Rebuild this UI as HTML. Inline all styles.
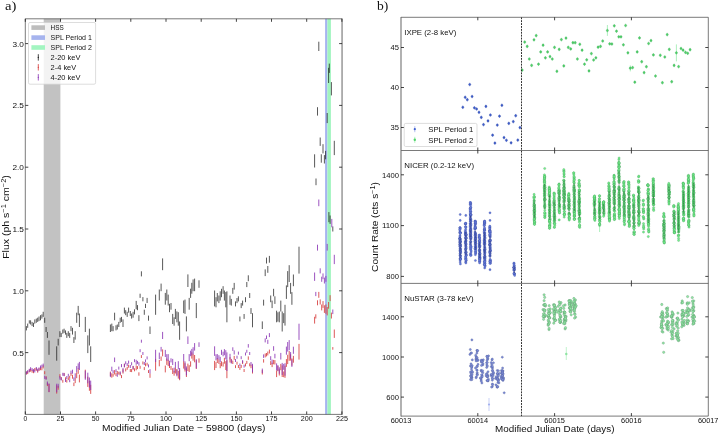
<!DOCTYPE html>
<html><head><meta charset="utf-8"><title>Figure</title><style>html,body{margin:0;padding:0;background:#fff;overflow:hidden}svg{display:block}</style></head><body>
<svg width="718" height="434" viewBox="0 0 718 434" font-family="Liberation Sans, sans-serif" style="opacity:0.999;will-change:transform">
<rect width="718" height="434" fill="#fff"/>
<rect x="43.7" y="18.8" width="16.7" height="395.6" fill="#c2c2c2"/>
<rect x="325.1" y="18.8" width="2.3" height="395.6" fill="#a6b4f0"/>
<rect x="327.4" y="18.8" width="3.5" height="395.6" fill="#a1f4bf"/>
<path d="M26.4 326.1V330.4M27.7 323.6V327.8M29.3 320.3V323.6M30.6 320.3V324.5M32.1 321.9V326.1M33.5 322.8V327.0M34.8 319.4V323.6M36.3 318.6V322.8M37.7 317.7V321.9M39.0 316.5V321.1M40.5 315.2V320.3M41.9 314.4V318.6M43.2 311.8V316.9M44.7 317.7V322.8M46.1 327.0V332.0M47.4 332.0V337.9M49.0 340.5V354.8M56.7 346.3V360.7M58.2 338.8V345.5M59.9 331.2V337.1M61.2 332.9V337.1M62.8 329.5V333.7M64.1 328.7V332.9M65.5 330.4V334.6M66.8 332.9V337.9M68.3 331.2V336.2M69.7 332.9V337.9M71.0 326.1V331.2M72.5 327.8V334.6M73.9 337.1V343.0M75.2 331.2V339.6M76.7 312.7V322.8M78.2 305.9V315.2M79.4 313.5V327.0M85.3 316.9V332.0M87.8 335.4V353.1M89.4 328.7V345.5M90.7 346.3V362.0M110.4 324.5V332.0M111.8 323.6V331.2M113.1 326.1V331.2M114.6 312.7V320.3M116.0 325.3V330.4M117.3 324.5V329.5M118.8 321.9V327.0M120.2 317.7V322.8M121.5 316.9V321.9M123.0 319.4V327.0M124.4 307.6V313.5M125.7 310.2V315.2M127.2 311.8V316.9M128.6 307.6V312.7M130.3 311.0V316.0M131.6 313.5V318.6M133.1 311.8V317.7M134.5 309.3V314.4M136.2 300.9V309.3M137.5 305.1V310.2M138.9 315.2V321.1M140.1 293.7V297.9M141.4 271.3V276.4M142.9 297.1V301.3M144.3 309.7V314.8M145.5 303.8V308.0M147.1 297.9V303.0M148.5 315.6V320.7M150.0 326.5V334.0M155.6 294.6V314.8M159.3 289.5V300.5M161.1 283.6V291.2M162.6 258.4V270.2M165.3 292.9V304.7M166.8 289.5V300.5M168.2 294.6V305.5M169.5 303.8V312.2M171.0 303.0V309.7M172.7 313.9V324.0M174.1 317.3V325.7M175.4 308.9V319.0M176.9 311.4V322.3M178.3 312.2V325.7M179.6 321.5V339.8M183.7 300.5V313.1M185.0 299.6V313.9M186.4 316.4V331.4M187.9 274.4V287.0M189.2 297.9V309.7M190.6 288.7V297.9M191.8 282.8V293.7M193.1 279.4V291.2M194.6 278.6V291.2M196.3 303.0V318.1M199.0 280.3V287.8M214.6 290.5V306.4M216.0 297.2V307.3M217.3 293.0V301.4M218.9 295.5V303.1M220.2 291.3V300.6M221.5 288.8V297.2M223.1 286.2V293.8M224.4 290.5V300.6M225.8 292.1V307.3M226.9 291.3V322.3M230.0 295.5V304.8M231.3 298.9V305.6M232.8 287.9V293.8M234.2 282.9V289.6M235.5 301.4V306.4M237.0 298.0V303.1M238.4 296.3V301.4M239.9 316.5V321.4M241.2 303.1V308.1M242.6 300.6V305.6M244.1 314.0V318.9M245.5 297.2V302.2M246.8 282.0V287.1M248.3 275.3V281.2M249.7 293.0V298.0M251.0 308.1V314.0M252.5 313.2V327.3M262.3 321.4V329.0M263.6 299.7V305.6M265.2 269.4V276.1M266.5 257.6V263.5M267.8 266.0V272.8M269.4 255.9V262.7M270.7 295.5V302.2M272.1 300.6V308.1M273.6 288.8V296.3M274.9 296.3V303.9M276.6 310.7V322.3M277.9 312.3V321.6M279.3 311.5V322.3M280.8 300.6V311.5M282.2 311.5V331.5M283.7 313.2V323.1M285.0 304.8V325.6M286.4 285.4V298.9M287.7 271.1V287.1M289.2 265.2V282.0M290.6 282.9V293.8M291.9 292.1V304.8M293.4 274.5V286.2M299.0 246.7V273.6M316.0 178.5V185.2M317.5 107.2V115.6M320.2 137.5V145.9M323.0 144.2V153.4M314.6 154.3V167.5M321.3 154.3V162.7M324.4 155.1V163.5M325.6 150.9V159.3M327.2 113.0V123.1M334.3 140.8V155.1M331.4 82.1V95.4M318.8 41.7V51.0M329.3 63.6V72.9M328.6 67.8V83.0M328.9 212.1V222.2M330.1 215.5V223.9M332.8 226.4V231.5" stroke="#111" stroke-width="0.70" fill="none" opacity="1"/>
<path d="M26.4 371.5V374.5M27.7 371.1V374.1M29.3 369.4V372.3M30.6 368.8V371.7M32.1 369.7V372.7M33.5 370.2V373.2M34.8 368.0V370.9M36.3 367.9V370.9M37.7 369.7V372.7M39.0 368.1V371.0M40.5 367.2V370.2M41.9 367.3V370.3M43.2 365.4V368.4M44.7 371.2V374.2M46.1 376.2V379.1M47.4 382.7V386.1M49.0 383.8V392.1M56.7 385.3V393.6M58.2 385.8V389.7M59.9 374.2V377.6M61.2 377.0V380.0M62.8 379.8V382.7M64.1 372.9V375.9M65.5 377.3V380.3M66.8 379.7V382.6M68.3 377.2V380.1M69.7 375.8V378.8M71.0 372.9V375.9M72.5 374.8V378.7M73.9 382.6V386.1M75.2 378.2V383.1M76.7 372.3V378.2M78.2 368.4V373.8M79.4 374.6V382.4M85.3 369.7V378.5M87.8 376.7V386.9M89.4 381.0V390.8M90.7 384.8V393.9M110.4 371.6V376.0M111.8 373.3V377.7M113.1 373.7V376.7M114.6 370.1V374.5M116.0 373.1V376.1M117.3 371.0V374.0M118.8 371.7V374.6M120.2 372.5V375.5M121.5 375.1V378.1M123.0 369.2V373.6M124.4 363.7V367.1M125.7 368.4V371.4M127.2 366.9V369.8M128.6 364.7V367.7M130.3 369.0V372.0M131.6 369.1V372.1M133.1 366.1V369.6M134.5 368.3V371.3M136.2 365.4V370.3M137.5 366.1V369.1M138.9 372.3V375.7M140.1 365.8V368.8M141.4 355.1V358.0M142.9 361.4V364.4M144.3 367.1V370.1M145.5 363.3V366.3M147.1 362.7V365.6M148.5 370.1V373.0M150.0 373.5V377.8M155.6 358.9V370.7M159.3 360.0V366.3M161.1 356.5V360.9M162.6 349.4V356.3M165.3 365.6V372.4M166.8 358.5V364.9M168.2 359.8V366.1M169.5 363.1V368.0M171.0 366.0V369.9M172.7 368.2V374.0M174.1 370.9V375.7M175.4 367.7V373.5M176.9 369.0V375.3M178.3 370.8V378.6M179.6 369.6V380.2M183.7 361.2V368.6M185.0 363.2V371.5M186.4 368.3V377.0M187.9 363.6V371.0M189.2 365.2V372.0M190.6 361.3V366.7M191.8 352.3V358.6M193.1 353.9V360.7M194.6 355.0V362.3M196.3 360.2V369.0M199.0 358.4V362.7M214.6 360.9V370.1M216.0 362.2V368.0M217.3 358.1V363.0M218.9 359.5V363.9M220.2 362.9V368.2M221.5 361.3V366.2M223.1 362.2V366.6M224.4 357.8V363.7M225.8 361.2V370.0M226.9 360.2V378.2M230.0 357.1V362.5M231.3 358.9V362.8M232.8 360.6V364.0M234.2 355.9V359.8M235.5 365.2V368.1M237.0 361.7V364.7M238.4 365.0V368.0M239.9 367.0V369.9M241.2 364.9V367.9M242.6 361.0V364.0M244.1 369.0V372.0M245.5 363.4V366.4M246.8 360.9V363.9M248.3 356.4V359.8M249.7 363.3V366.3M251.0 364.8V368.2M252.5 365.3V373.5M262.3 370.1V374.5M263.6 359.2V362.6M265.2 353.5V357.4M266.5 353.0V356.4M267.8 351.5V355.4M269.4 349.6V353.5M270.7 361.1V365.0M272.1 362.7V367.1M273.6 359.9V364.3M274.9 360.1V364.5M276.6 370.4V377.1M277.9 365.8V371.2M279.3 369.3V375.5M280.8 363.9V370.2M282.2 365.4V377.0M283.7 371.5V377.2M285.0 365.7V377.8M286.4 359.1V366.9M287.7 354.8V364.1M289.2 351.0V360.8M290.6 354.3V360.6M291.9 358.4V365.7M293.4 355.9V362.7M299.0 343.9V359.6M318.8 291.9V297.8M317.5 300.3V305.3M320.2 299.4V304.5M321.7 304.5V310.4M323.0 301.1V307.9M324.4 305.3V312.9M325.9 304.5V313.8M327.2 307.0V315.4M328.6 302.0V308.7M330.1 295.2V301.1M314.6 316.8V323.6M315.8 314.3V318.5M331.4 312.6V318.5M334.3 329.5V337.9M332.8 347.1V349.7" stroke="#d63a3a" stroke-width="0.85" fill="none" opacity="1"/>
<path d="M26.4 371.4V374.4M27.7 370.1V373.1M29.3 368.8V371.8M30.6 367.2V370.1M32.1 368.1V371.0M33.5 369.1V372.1M34.8 369.5V372.5M36.3 367.0V369.9M37.7 368.7V371.7M39.0 367.4V370.3M40.5 365.5V368.6M41.9 364.6V367.6M43.2 363.6V366.7M44.7 375.8V378.9M46.1 376.8V379.8M47.4 381.5V385.1M49.0 383.5V392.1M56.7 383.7V392.2M58.2 383.8V387.8M59.9 376.1V379.6M61.2 377.5V380.5M62.8 372.8V375.8M64.1 373.2V376.2M65.5 379.0V382.0M66.8 376.0V379.0M68.3 373.8V376.8M69.7 379.2V382.2M71.0 370.6V373.6M72.5 369.7V373.7M73.9 377.4V380.9M75.2 373.3V378.4M76.7 366.1V372.2M78.2 363.4V369.0M79.4 361.9V370.0M85.3 370.7V379.8M87.8 372.7V383.3M89.4 377.5V387.6M90.7 380.6V390.0M110.4 372.5V377.1M111.8 366.7V371.2M113.1 370.3V373.3M114.6 357.5V362.1M116.0 369.2V372.3M117.3 373.7V376.8M118.8 366.6V369.6M120.2 371.4V374.4M121.5 364.1V367.2M123.0 367.9V372.4M124.4 363.8V367.4M125.7 361.3V364.3M127.2 363.1V366.1M128.6 360.6V363.7M130.3 365.0V368.0M131.6 362.2V365.3M133.1 365.9V369.4M134.5 359.2V362.2M136.2 359.8V364.8M137.5 360.9V363.9M138.9 362.2V365.7M140.1 349.2V352.2M141.4 339.7V342.7M142.9 352.0V355.0M144.3 362.0V365.0M145.5 359.4V362.4M147.1 356.4V359.4M148.5 364.4V367.4M150.0 369.2V373.6M155.6 349.8V362.0M159.3 352.6V359.2M161.1 346.9V351.5M162.6 331.9V339.0M165.3 349.9V357.0M166.8 354.2V360.8M168.2 354.1V360.7M169.5 360.8V365.8M171.0 358.3V362.4M172.7 358.9V365.0M174.1 367.7V372.7M175.4 361.9V367.9M176.9 369.7V376.3M178.3 361.2V369.3M179.6 368.0V379.0M183.7 354.0V361.5M185.0 361.4V369.9M186.4 366.4V375.4M187.9 336.4V344.0M189.2 354.1V361.2M190.6 350.7V356.2M191.8 348.9V355.5M193.1 347.2V354.3M194.6 343.1V350.6M196.3 359.2V368.3M199.0 342.3V346.9M214.6 346.3V355.9M216.0 354.3V360.3M217.3 354.1V359.2M218.9 355.2V359.7M220.2 356.8V362.4M221.5 349.8V354.9M223.1 351.7V356.3M224.4 349.1V355.2M225.8 350.2V359.3M226.9 352.4V371.0M230.0 353.8V359.4M231.3 359.5V363.6M232.8 347.3V350.9M234.2 350.4V354.5M235.5 359.0V362.0M237.0 355.7V358.7M238.4 351.6V354.7M239.9 363.5V366.5M241.2 356.2V359.2M242.6 360.1V363.1M244.1 364.7V367.6M245.5 352.5V355.5M246.8 349.8V352.8M248.3 344.1V347.6M249.7 352.0V355.0M251.0 362.0V365.6M252.5 363.8V372.3M262.3 368.6V373.1M263.6 354.4V357.9M265.2 338.4V342.4M266.5 335.5V339.0M267.8 339.8V343.9M269.4 333.1V337.1M270.7 356.2V360.3M272.1 359.6V364.1M273.6 346.2V350.8M274.9 353.8V358.3M276.6 363.4V370.4M277.9 365.2V370.7M279.3 367.3V373.7M280.8 352.9V359.5M282.2 362.9V374.9M283.7 363.9V369.8M285.0 363.2V375.7M286.4 346.6V354.7M287.7 342.0V351.6M289.2 340.1V350.2M290.6 352.1V358.7M291.9 359.3V366.9M293.4 346.7V353.8M299.0 323.7V339.9M317.5 244.7V250.6M327.2 243.9V250.6M334.3 254.8V264.1M314.6 272.5V280.9M320.2 268.3V273.4M321.7 276.7V281.8M323.0 273.4V279.2M324.4 277.6V283.5M325.9 275.9V281.8M315.8 291.9V296.1M332.8 309.5V314.1M318.8 199.5V206.2M331.8 218.9V227.3" stroke="#8a35b5" stroke-width="0.85" fill="none" opacity="1"/>
<path d="M25.30 18.8V414.4M25.30 18.8H342.05M25.30 414.4H342.05" fill="none" stroke="#404040" stroke-width="0.7"/>
<path d="M342.05 18.4V414.8" stroke="#6c6c6c" stroke-width="1.05"/>
<path d="M25.3 414.4v-3M25.3 18.8v3M60.5 414.4v-3M60.5 18.8v3M95.6 414.4v-3M95.6 18.8v3M130.8 414.4v-3M130.8 18.8v3M166.0 414.4v-3M166.0 18.8v3M201.2 414.4v-3M201.2 18.8v3M236.4 414.4v-3M236.4 18.8v3M271.5 414.4v-3M271.5 18.8v3M306.7 414.4v-3M306.7 18.8v3M341.9 414.4v-3M341.9 18.8v3M25.3 352.6h3M342.1 352.6h-3M25.3 290.8h3M342.1 290.8h-3M25.3 229.0h3M342.1 229.0h-3M25.3 167.2h3M342.1 167.2h-3M25.3 105.4h3M342.1 105.4h-3M25.3 43.6h3M342.1 43.6h-3" stroke="#151515" stroke-width="0.8" fill="none"/>
<text x="23.5" y="421.2" font-size="6.8" textLength="3.7" lengthAdjust="spacingAndGlyphs" fill="#111">0</text>
<text x="56.6" y="421.2" font-size="6.8" textLength="7.8" lengthAdjust="spacingAndGlyphs" fill="#111">25</text>
<text x="91.7" y="421.2" font-size="6.8" textLength="7.8" lengthAdjust="spacingAndGlyphs" fill="#111">50</text>
<text x="126.9" y="421.2" font-size="6.8" textLength="7.8" lengthAdjust="spacingAndGlyphs" fill="#111">75</text>
<text x="160.0" y="421.2" font-size="6.8" textLength="12.0" lengthAdjust="spacingAndGlyphs" fill="#111">100</text>
<text x="195.2" y="421.2" font-size="6.8" textLength="12.0" lengthAdjust="spacingAndGlyphs" fill="#111">125</text>
<text x="230.4" y="421.2" font-size="6.8" textLength="12.0" lengthAdjust="spacingAndGlyphs" fill="#111">150</text>
<text x="265.5" y="421.2" font-size="6.8" textLength="12.0" lengthAdjust="spacingAndGlyphs" fill="#111">175</text>
<text x="300.7" y="421.2" font-size="6.8" textLength="12.0" lengthAdjust="spacingAndGlyphs" fill="#111">200</text>
<text x="335.9" y="421.2" font-size="6.8" textLength="12.0" lengthAdjust="spacingAndGlyphs" fill="#111">225</text>
<text x="12.4" y="355.5" font-size="7.9" textLength="11.5" lengthAdjust="spacingAndGlyphs" fill="#111">0.5</text>
<text x="12.4" y="293.7" font-size="7.9" textLength="11.5" lengthAdjust="spacingAndGlyphs" fill="#111">1.0</text>
<text x="12.4" y="231.9" font-size="7.9" textLength="11.5" lengthAdjust="spacingAndGlyphs" fill="#111">1.5</text>
<text x="12.4" y="170.1" font-size="7.9" textLength="11.5" lengthAdjust="spacingAndGlyphs" fill="#111">2.0</text>
<text x="12.4" y="108.3" font-size="7.9" textLength="11.5" lengthAdjust="spacingAndGlyphs" fill="#111">2.5</text>
<text x="12.4" y="46.5" font-size="7.9" textLength="11.5" lengthAdjust="spacingAndGlyphs" fill="#111">3.0</text>
<text x="101.9" y="430.6" font-size="9.2" textLength="163.5" lengthAdjust="spacingAndGlyphs" fill="#111">Modified Julian Date − 59800 (days)</text>
<text transform="translate(8.6,258.8) rotate(-90)" font-size="9.2" textLength="83.6" lengthAdjust="spacingAndGlyphs" fill="#111">Flux (ph s<tspan dy="-3" font-size="6.5">−1</tspan><tspan dy="3"> cm</tspan><tspan dy="-3" font-size="6.5">−2</tspan><tspan dy="3">)</tspan></text>
<rect x="28.5" y="22.5" width="67.1" height="61.7" rx="1.5" fill="#fff" fill-opacity="0.8" stroke="#cfcfcf" stroke-width="0.7"/>
<rect x="31.4" y="25.3" width="13.6" height="4.6" fill="#bdbdbd"/>
<rect x="31.4" y="35.3" width="13.6" height="4.6" fill="#a6b4ee"/>
<rect x="31.4" y="45.2" width="13.6" height="4.6" fill="#a3f5c1"/>
<path d="M38.3 54.2v6.4" stroke="#1a1a1a" stroke-width="0.8"/>
<circle cx="38.3" cy="57.4" r="0.6" fill="#1a1a1a"/>
<path d="M38.3 64.1v6.4" stroke="#d63a3a" stroke-width="0.8"/>
<circle cx="38.3" cy="67.3" r="0.6" fill="#d63a3a"/>
<path d="M38.3 74.1v6.4" stroke="#8a35b5" stroke-width="0.8"/>
<circle cx="38.3" cy="77.3" r="0.6" fill="#8a35b5"/>
<text x="50.6" y="30.1" font-size="7" textLength="13.1" lengthAdjust="spacingAndGlyphs" fill="#111">HSS</text>
<text x="50.6" y="40.1" font-size="7" textLength="41.3" lengthAdjust="spacingAndGlyphs" fill="#111">SPL Period 1</text>
<text x="50.6" y="50.0" font-size="7" textLength="41.3" lengthAdjust="spacingAndGlyphs" fill="#111">SPL Period 2</text>
<text x="50.6" y="59.9" font-size="7" textLength="29.8" lengthAdjust="spacingAndGlyphs" fill="#111">2-20 keV</text>
<text x="50.6" y="69.8" font-size="7" textLength="25.6" lengthAdjust="spacingAndGlyphs" fill="#111">2-4 keV</text>
<text x="50.6" y="79.8" font-size="7" textLength="29.8" lengthAdjust="spacingAndGlyphs" fill="#111">4-20 keV</text>
<text x="4.9" y="10" font-family="Liberation Serif, serif" font-size="13.5" textLength="11.4" lengthAdjust="spacingAndGlyphs" fill="#111">a)</text>
<path d="M522.2 68.3v3.6M524.7 40.3v3.6M527.2 44.6v3.6M529.3 57.2v3.6M531.6 63.6v3.6M534.0 38.0v3.6M536.2 33.8v3.6M538.5 62.4v3.6M540.7 50.1v3.6M543.1 43.4v3.6M545.4 56.0v3.6M547.6 50.1v3.6M550.0 54.8v3.6M552.3 57.2v3.6M554.5 45.6v3.6M556.9 69.5v3.6M559.2 47.6v3.6M561.4 37.8v3.6M563.8 64.1v3.6M566.0 36.3v3.6M568.3 45.6v3.6M570.7 47.1v3.6M572.9 40.9v3.6M575.2 40.9v3.6M577.4 57.2v3.6M579.8 42.5v3.6M582.1 48.4v3.6M584.5 62.4v3.6M586.7 58.0v3.6M589.0 69.1v3.6M591.4 51.8v3.6M593.6 58.2v3.6M595.9 56.0v3.6M598.1 45.4v3.6M600.5 44.6v3.6M602.7 39.2v3.6M607.4 28.7v3.6M609.7 42.0v3.6M611.9 42.2v3.6M614.3 24.0v3.6M616.5 29.4v3.6M618.8 35.0v3.6M621.0 35.0v3.6M623.4 43.0v3.6M625.6 23.7v3.6M627.9 51.0v3.6M630.3 66.4v3.6M632.6 65.8v3.6M634.8 80.4v3.6M637.2 50.1v3.6M639.5 36.1v3.6M641.7 59.9v3.6M644.1 70.8v3.6M646.4 64.9v3.6M648.6 41.7v3.6M651.0 38.8v3.6M653.4 53.1v3.6M655.5 74.2v3.6M660.3 53.5v3.6M662.4 80.9v3.6M664.8 55.2v3.6M667.2 32.8v3.6M669.3 47.6v3.6M671.7 79.9v3.6M674.1 63.6v3.6M676.4 51.0v3.6M678.6 64.8v3.6M681.0 46.7v3.6M683.1 48.4v3.6M685.5 50.6v3.6M687.7 51.5v3.6M690.1 47.9v3.6M607.4 25V35.9M630.3 65.4V71.4M676.4 44.4V61.4" stroke="#8be9a0" stroke-width="0.7" fill="none"/>
<path d="M462.8 105.5v3.6M465.2 95.5v3.6M467.3 97.9v3.6M469.7 82.7v3.6M472.1 94.7v3.6M474.4 106.0v3.6M476.6 107.2v3.6M479.0 110.5v3.6M481.3 115.6v3.6M483.5 122.8v3.6M485.9 104.6v3.6M488.0 119.1v3.6M490.4 113.2v3.6M492.6 133.4v3.6M494.9 141.3v3.6M497.3 123.3v3.6M499.5 114.4v3.6M501.9 103.5v3.6M504.0 135.8v3.6M506.4 138.5v3.6M508.8 121.6v3.6M511.1 141.0v3.6M513.3 119.8v3.6M515.7 113.9v3.6M517.8 138.3v3.6M519.9 125.8v3.6" stroke="#93a3ee" stroke-width="0.7" fill="none"/>
<g fill="#4fd468" stroke="#2f9a4a" stroke-width="0.30" opacity="1"><circle cx="522.2" cy="70.1" r="1.12"/><circle cx="524.7" cy="42.1" r="1.12"/><circle cx="527.2" cy="46.4" r="1.12"/><circle cx="529.3" cy="59.0" r="1.12"/><circle cx="531.6" cy="65.4" r="1.12"/><circle cx="534.0" cy="39.8" r="1.12"/><circle cx="536.2" cy="35.6" r="1.12"/><circle cx="538.5" cy="64.2" r="1.12"/><circle cx="540.7" cy="51.9" r="1.12"/><circle cx="543.1" cy="45.2" r="1.12"/><circle cx="545.4" cy="57.8" r="1.12"/><circle cx="547.6" cy="51.9" r="1.12"/><circle cx="550.0" cy="56.6" r="1.12"/><circle cx="552.3" cy="59.0" r="1.12"/><circle cx="554.5" cy="47.4" r="1.12"/><circle cx="556.9" cy="71.3" r="1.12"/><circle cx="559.2" cy="49.4" r="1.12"/><circle cx="561.4" cy="39.6" r="1.12"/><circle cx="563.8" cy="65.9" r="1.12"/><circle cx="566.0" cy="38.1" r="1.12"/><circle cx="568.3" cy="47.4" r="1.12"/><circle cx="570.7" cy="48.9" r="1.12"/><circle cx="572.9" cy="42.7" r="1.12"/><circle cx="575.2" cy="42.7" r="1.12"/><circle cx="577.4" cy="59.0" r="1.12"/><circle cx="579.8" cy="44.3" r="1.12"/><circle cx="582.1" cy="50.2" r="1.12"/><circle cx="584.5" cy="64.2" r="1.12"/><circle cx="586.7" cy="59.8" r="1.12"/><circle cx="589.0" cy="70.9" r="1.12"/><circle cx="591.4" cy="53.6" r="1.12"/><circle cx="593.6" cy="60.0" r="1.12"/><circle cx="595.9" cy="57.8" r="1.12"/><circle cx="598.1" cy="47.2" r="1.12"/><circle cx="600.5" cy="46.4" r="1.12"/><circle cx="602.7" cy="41.0" r="1.12"/><circle cx="607.4" cy="30.5" r="1.12"/><circle cx="609.7" cy="43.8" r="1.12"/><circle cx="611.9" cy="44.0" r="1.12"/><circle cx="614.3" cy="25.8" r="1.12"/><circle cx="616.5" cy="31.2" r="1.12"/><circle cx="618.8" cy="36.8" r="1.12"/><circle cx="621.0" cy="36.8" r="1.12"/><circle cx="623.4" cy="44.8" r="1.12"/><circle cx="625.6" cy="25.5" r="1.12"/><circle cx="627.9" cy="52.8" r="1.12"/><circle cx="630.3" cy="68.2" r="1.12"/><circle cx="632.6" cy="67.6" r="1.12"/><circle cx="634.8" cy="82.2" r="1.12"/><circle cx="637.2" cy="51.9" r="1.12"/><circle cx="639.5" cy="37.9" r="1.12"/><circle cx="641.7" cy="61.7" r="1.12"/><circle cx="644.1" cy="72.6" r="1.12"/><circle cx="646.4" cy="66.7" r="1.12"/><circle cx="648.6" cy="43.5" r="1.12"/><circle cx="651.0" cy="40.6" r="1.12"/><circle cx="653.4" cy="54.9" r="1.12"/><circle cx="655.5" cy="76.0" r="1.12"/><circle cx="660.3" cy="55.3" r="1.12"/><circle cx="662.4" cy="82.7" r="1.12"/><circle cx="664.8" cy="57.0" r="1.12"/><circle cx="667.2" cy="34.6" r="1.12"/><circle cx="669.3" cy="49.4" r="1.12"/><circle cx="671.7" cy="81.7" r="1.12"/><circle cx="674.1" cy="65.4" r="1.12"/><circle cx="676.4" cy="52.8" r="1.12"/><circle cx="678.6" cy="66.6" r="1.12"/><circle cx="681.0" cy="48.5" r="1.12"/><circle cx="683.1" cy="50.2" r="1.12"/><circle cx="685.5" cy="52.4" r="1.12"/><circle cx="687.7" cy="53.3" r="1.12"/><circle cx="690.1" cy="49.7" r="1.12"/></g>
<g fill="#3d5fd0" stroke="#2a3f9a" stroke-width="0.35" opacity="1"><circle cx="462.8" cy="107.3" r="1.10"/><circle cx="465.2" cy="97.3" r="1.10"/><circle cx="467.3" cy="99.7" r="1.10"/><circle cx="469.7" cy="84.5" r="1.10"/><circle cx="472.1" cy="96.5" r="1.10"/><circle cx="474.4" cy="107.8" r="1.10"/><circle cx="476.6" cy="109.0" r="1.10"/><circle cx="479.0" cy="112.3" r="1.10"/><circle cx="481.3" cy="117.4" r="1.10"/><circle cx="483.5" cy="124.6" r="1.10"/><circle cx="485.9" cy="106.4" r="1.10"/><circle cx="488.0" cy="120.9" r="1.10"/><circle cx="490.4" cy="115.0" r="1.10"/><circle cx="492.6" cy="135.2" r="1.10"/><circle cx="494.9" cy="143.1" r="1.10"/><circle cx="497.3" cy="125.1" r="1.10"/><circle cx="499.5" cy="116.2" r="1.10"/><circle cx="501.9" cy="105.3" r="1.10"/><circle cx="504.0" cy="137.6" r="1.10"/><circle cx="506.4" cy="140.3" r="1.10"/><circle cx="508.8" cy="123.4" r="1.10"/><circle cx="511.1" cy="142.8" r="1.10"/><circle cx="513.3" cy="121.6" r="1.10"/><circle cx="515.7" cy="115.7" r="1.10"/><circle cx="517.8" cy="140.1" r="1.10"/><circle cx="519.9" cy="127.6" r="1.10"/></g>
<path d="M599.6 225V232" stroke="#8be9a0" stroke-width="0.7"/>
<g fill="#6aec84" stroke="#248a3c" stroke-width="0.26" opacity="0.92"><circle cx="534.0" cy="206.5" r="1.12"/><circle cx="534.3" cy="197.3" r="1.12"/><circle cx="534.7" cy="222.4" r="1.12"/><circle cx="534.2" cy="220.8" r="1.12"/><circle cx="534.2" cy="213.7" r="1.12"/><circle cx="534.4" cy="210.0" r="1.12"/><circle cx="534.2" cy="200.8" r="1.12"/><circle cx="534.4" cy="212.7" r="1.12"/><circle cx="534.4" cy="196.7" r="1.12"/><circle cx="534.3" cy="208.3" r="1.12"/><circle cx="534.0" cy="197.3" r="1.12"/><circle cx="534.0" cy="203.1" r="1.12"/><circle cx="534.4" cy="210.1" r="1.12"/><circle cx="534.1" cy="210.9" r="1.12"/><circle cx="534.4" cy="215.3" r="1.12"/><circle cx="534.2" cy="212.2" r="1.12"/><circle cx="534.2" cy="204.8" r="1.12"/><circle cx="534.5" cy="207.7" r="1.12"/><circle cx="534.2" cy="200.4" r="1.12"/><circle cx="534.1" cy="201.9" r="1.12"/><circle cx="534.5" cy="206.1" r="1.12"/><circle cx="534.2" cy="205.9" r="1.12"/><circle cx="534.6" cy="208.0" r="1.12"/><circle cx="534.2" cy="209.8" r="1.12"/><circle cx="534.6" cy="214.2" r="1.12"/><circle cx="534.6" cy="218.8" r="1.12"/><circle cx="534.4" cy="216.3" r="1.12"/><circle cx="534.7" cy="217.6" r="1.12"/><circle cx="533.9" cy="196.9" r="1.12"/><circle cx="534.4" cy="217.0" r="1.12"/><circle cx="534.4" cy="223.2" r="1.12"/><circle cx="534.5" cy="217.6" r="1.12"/><circle cx="534.2" cy="204.9" r="1.12"/><circle cx="534.4" cy="210.4" r="1.12"/><circle cx="534.4" cy="205.0" r="1.12"/><circle cx="534.4" cy="219.7" r="1.12"/><circle cx="534.0" cy="198.7" r="1.12"/><circle cx="534.1" cy="211.0" r="1.12"/><circle cx="534.7" cy="221.9" r="1.12"/><circle cx="534.3" cy="219.3" r="1.12"/><circle cx="534.0" cy="206.3" r="1.12"/><circle cx="534.1" cy="194.4" r="1.12"/><circle cx="534.5" cy="221.9" r="1.12"/><circle cx="534.5" cy="224.3" r="1.12"/><circle cx="534.3" cy="214.5" r="1.12"/><circle cx="534.6" cy="211.6" r="1.12"/><circle cx="534.1" cy="214.2" r="1.12"/><circle cx="534.3" cy="204.7" r="1.12"/><circle cx="534.6" cy="211.0" r="1.12"/><circle cx="534.4" cy="208.2" r="1.12"/><circle cx="534.5" cy="224.3" r="1.12"/><circle cx="534.6" cy="210.8" r="1.12"/><circle cx="534.2" cy="218.9" r="1.12"/><circle cx="545.1" cy="213.1" r="1.12"/><circle cx="544.8" cy="217.3" r="1.12"/><circle cx="544.6" cy="188.9" r="1.12"/><circle cx="544.7" cy="192.1" r="1.12"/><circle cx="544.7" cy="189.7" r="1.12"/><circle cx="544.7" cy="176.2" r="1.12"/><circle cx="544.3" cy="187.7" r="1.12"/><circle cx="544.7" cy="187.6" r="1.12"/><circle cx="544.8" cy="199.6" r="1.12"/><circle cx="544.6" cy="185.9" r="1.12"/><circle cx="544.8" cy="217.6" r="1.12"/><circle cx="544.4" cy="193.5" r="1.12"/><circle cx="544.8" cy="187.9" r="1.12"/><circle cx="544.5" cy="200.9" r="1.12"/><circle cx="544.4" cy="174.9" r="1.12"/><circle cx="544.6" cy="205.4" r="1.12"/><circle cx="544.8" cy="199.7" r="1.12"/><circle cx="544.6" cy="189.5" r="1.12"/><circle cx="544.6" cy="176.8" r="1.12"/><circle cx="545.0" cy="216.0" r="1.12"/><circle cx="544.9" cy="200.0" r="1.12"/><circle cx="544.8" cy="188.0" r="1.12"/><circle cx="544.9" cy="187.5" r="1.12"/><circle cx="544.5" cy="195.9" r="1.12"/><circle cx="544.5" cy="191.3" r="1.12"/><circle cx="544.6" cy="187.8" r="1.12"/><circle cx="544.6" cy="195.3" r="1.12"/><circle cx="544.4" cy="182.5" r="1.12"/><circle cx="544.7" cy="198.1" r="1.12"/><circle cx="544.8" cy="185.8" r="1.12"/><circle cx="544.5" cy="186.1" r="1.12"/><circle cx="544.6" cy="193.9" r="1.12"/><circle cx="544.3" cy="181.2" r="1.12"/><circle cx="544.4" cy="186.1" r="1.12"/><circle cx="544.9" cy="193.6" r="1.12"/><circle cx="544.7" cy="181.3" r="1.12"/><circle cx="544.5" cy="190.7" r="1.12"/><circle cx="544.7" cy="215.6" r="1.12"/><circle cx="544.6" cy="199.5" r="1.12"/><circle cx="544.8" cy="213.4" r="1.12"/><circle cx="544.4" cy="185.1" r="1.12"/><circle cx="544.8" cy="204.4" r="1.12"/><circle cx="544.5" cy="186.1" r="1.12"/><circle cx="544.6" cy="202.9" r="1.12"/><circle cx="544.8" cy="186.7" r="1.12"/><circle cx="544.4" cy="188.3" r="1.12"/><circle cx="544.7" cy="198.7" r="1.12"/><circle cx="544.5" cy="187.6" r="1.12"/><circle cx="544.4" cy="179.9" r="1.12"/><circle cx="544.8" cy="191.9" r="1.12"/><circle cx="544.6" cy="212.6" r="1.12"/><circle cx="544.8" cy="195.1" r="1.12"/><circle cx="544.7" cy="189.6" r="1.12"/><circle cx="544.7" cy="207.9" r="1.12"/><circle cx="544.9" cy="190.5" r="1.12"/><circle cx="544.5" cy="206.2" r="1.12"/><circle cx="544.4" cy="179.6" r="1.12"/><circle cx="544.7" cy="189.4" r="1.12"/><circle cx="544.6" cy="182.2" r="1.12"/><circle cx="544.8" cy="199.3" r="1.12"/><circle cx="544.9" cy="200.0" r="1.12"/><circle cx="544.8" cy="199.1" r="1.12"/><circle cx="544.7" cy="177.8" r="1.12"/><circle cx="544.7" cy="183.5" r="1.12"/><circle cx="544.5" cy="178.1" r="1.12"/><circle cx="544.7" cy="206.8" r="1.12"/><circle cx="544.5" cy="178.3" r="1.12"/><circle cx="545.0" cy="214.7" r="1.12"/><circle cx="544.8" cy="210.3" r="1.12"/><circle cx="544.5" cy="176.8" r="1.12"/><circle cx="544.5" cy="196.6" r="1.12"/><circle cx="545.0" cy="206.1" r="1.12"/><circle cx="544.7" cy="168.5" r="1.12"/><circle cx="549.8" cy="196.6" r="1.12"/><circle cx="549.5" cy="212.9" r="1.12"/><circle cx="549.4" cy="187.9" r="1.12"/><circle cx="549.3" cy="194.0" r="1.12"/><circle cx="549.5" cy="215.9" r="1.12"/><circle cx="549.5" cy="195.8" r="1.12"/><circle cx="549.7" cy="225.8" r="1.12"/><circle cx="549.6" cy="216.6" r="1.12"/><circle cx="549.9" cy="220.6" r="1.12"/><circle cx="549.5" cy="192.6" r="1.12"/><circle cx="549.8" cy="205.3" r="1.12"/><circle cx="549.3" cy="195.6" r="1.12"/><circle cx="549.6" cy="190.9" r="1.12"/><circle cx="549.5" cy="202.0" r="1.12"/><circle cx="549.2" cy="194.7" r="1.12"/><circle cx="549.5" cy="228.3" r="1.12"/><circle cx="549.7" cy="216.4" r="1.12"/><circle cx="549.4" cy="190.0" r="1.12"/><circle cx="549.2" cy="193.5" r="1.12"/><circle cx="549.8" cy="225.1" r="1.12"/><circle cx="549.6" cy="225.8" r="1.12"/><circle cx="549.6" cy="191.2" r="1.12"/><circle cx="549.7" cy="207.5" r="1.12"/><circle cx="549.5" cy="221.9" r="1.12"/><circle cx="549.9" cy="219.3" r="1.12"/><circle cx="549.5" cy="210.2" r="1.12"/><circle cx="549.5" cy="201.3" r="1.12"/><circle cx="549.6" cy="204.2" r="1.12"/><circle cx="549.8" cy="212.5" r="1.12"/><circle cx="549.8" cy="224.5" r="1.12"/><circle cx="549.6" cy="202.6" r="1.12"/><circle cx="549.2" cy="188.8" r="1.12"/><circle cx="549.3" cy="204.5" r="1.12"/><circle cx="549.2" cy="187.0" r="1.12"/><circle cx="549.9" cy="219.2" r="1.12"/><circle cx="549.6" cy="219.4" r="1.12"/><circle cx="549.6" cy="213.9" r="1.12"/><circle cx="549.6" cy="200.0" r="1.12"/><circle cx="549.5" cy="221.1" r="1.12"/><circle cx="549.6" cy="198.1" r="1.12"/><circle cx="549.4" cy="194.7" r="1.12"/><circle cx="549.8" cy="205.2" r="1.12"/><circle cx="550.0" cy="222.8" r="1.12"/><circle cx="549.4" cy="212.1" r="1.12"/><circle cx="549.5" cy="214.6" r="1.12"/><circle cx="549.6" cy="210.0" r="1.12"/><circle cx="549.8" cy="206.8" r="1.12"/><circle cx="549.5" cy="200.6" r="1.12"/><circle cx="549.4" cy="189.0" r="1.12"/><circle cx="549.7" cy="210.4" r="1.12"/><circle cx="549.4" cy="209.8" r="1.12"/><circle cx="549.5" cy="193.1" r="1.12"/><circle cx="549.3" cy="190.2" r="1.12"/><circle cx="549.3" cy="189.4" r="1.12"/><circle cx="549.4" cy="206.5" r="1.12"/><circle cx="549.7" cy="208.8" r="1.12"/><circle cx="549.2" cy="188.8" r="1.12"/><circle cx="549.6" cy="204.3" r="1.12"/><circle cx="549.5" cy="216.2" r="1.12"/><circle cx="549.6" cy="228.2" r="1.12"/><circle cx="549.5" cy="221.2" r="1.12"/><circle cx="549.9" cy="226.9" r="1.12"/><circle cx="549.2" cy="191.2" r="1.12"/><circle cx="549.2" cy="195.6" r="1.12"/><circle cx="549.7" cy="204.7" r="1.12"/><circle cx="549.6" cy="203.7" r="1.12"/><circle cx="550.0" cy="223.1" r="1.12"/><circle cx="549.6" cy="220.3" r="1.12"/><circle cx="549.9" cy="218.4" r="1.12"/><circle cx="549.6" cy="190.6" r="1.12"/><circle cx="549.5" cy="226.3" r="1.12"/><circle cx="549.8" cy="210.3" r="1.12"/><circle cx="554.3" cy="196.8" r="1.12"/><circle cx="554.4" cy="205.1" r="1.12"/><circle cx="554.0" cy="203.4" r="1.12"/><circle cx="554.2" cy="216.5" r="1.12"/><circle cx="554.2" cy="216.9" r="1.12"/><circle cx="554.6" cy="223.5" r="1.12"/><circle cx="554.1" cy="221.1" r="1.12"/><circle cx="554.5" cy="207.6" r="1.12"/><circle cx="554.5" cy="210.0" r="1.12"/><circle cx="554.4" cy="216.6" r="1.12"/><circle cx="554.1" cy="198.4" r="1.12"/><circle cx="554.2" cy="223.4" r="1.12"/><circle cx="554.4" cy="214.2" r="1.12"/><circle cx="554.2" cy="200.0" r="1.12"/><circle cx="554.2" cy="213.0" r="1.12"/><circle cx="554.0" cy="193.1" r="1.12"/><circle cx="554.4" cy="193.6" r="1.12"/><circle cx="554.1" cy="205.4" r="1.12"/><circle cx="554.1" cy="202.4" r="1.12"/><circle cx="554.6" cy="212.8" r="1.12"/><circle cx="554.6" cy="220.0" r="1.12"/><circle cx="554.5" cy="223.3" r="1.12"/><circle cx="554.2" cy="215.0" r="1.12"/><circle cx="554.7" cy="220.7" r="1.12"/><circle cx="554.5" cy="216.7" r="1.12"/><circle cx="554.5" cy="218.7" r="1.12"/><circle cx="554.2" cy="205.1" r="1.12"/><circle cx="554.0" cy="195.0" r="1.12"/><circle cx="554.4" cy="227.4" r="1.12"/><circle cx="554.0" cy="203.2" r="1.12"/><circle cx="554.1" cy="193.2" r="1.12"/><circle cx="554.2" cy="208.4" r="1.12"/><circle cx="554.1" cy="201.1" r="1.12"/><circle cx="554.7" cy="218.3" r="1.12"/><circle cx="554.3" cy="204.8" r="1.12"/><circle cx="554.5" cy="204.4" r="1.12"/><circle cx="554.2" cy="205.4" r="1.12"/><circle cx="554.6" cy="216.5" r="1.12"/><circle cx="554.0" cy="198.1" r="1.12"/><circle cx="554.0" cy="202.3" r="1.12"/><circle cx="554.5" cy="210.4" r="1.12"/><circle cx="554.7" cy="217.0" r="1.12"/><circle cx="554.6" cy="217.5" r="1.12"/><circle cx="554.2" cy="202.1" r="1.12"/><circle cx="554.7" cy="223.5" r="1.12"/><circle cx="554.3" cy="200.3" r="1.12"/><circle cx="554.5" cy="215.5" r="1.12"/><circle cx="554.0" cy="206.0" r="1.12"/><circle cx="554.3" cy="214.8" r="1.12"/><circle cx="554.0" cy="211.4" r="1.12"/><circle cx="554.8" cy="225.2" r="1.12"/><circle cx="554.3" cy="194.9" r="1.12"/><circle cx="554.0" cy="201.4" r="1.12"/><circle cx="554.4" cy="220.5" r="1.12"/><circle cx="554.3" cy="211.7" r="1.12"/><circle cx="554.3" cy="215.8" r="1.12"/><circle cx="554.5" cy="218.2" r="1.12"/><circle cx="554.6" cy="220.0" r="1.12"/><circle cx="554.4" cy="227.0" r="1.12"/><circle cx="559.0" cy="199.2" r="1.12"/><circle cx="559.1" cy="183.9" r="1.12"/><circle cx="559.6" cy="206.7" r="1.12"/><circle cx="558.8" cy="190.4" r="1.12"/><circle cx="559.0" cy="184.9" r="1.12"/><circle cx="559.2" cy="206.0" r="1.12"/><circle cx="559.4" cy="196.9" r="1.12"/><circle cx="559.0" cy="197.7" r="1.12"/><circle cx="559.5" cy="213.0" r="1.12"/><circle cx="559.1" cy="193.9" r="1.12"/><circle cx="558.9" cy="193.3" r="1.12"/><circle cx="559.2" cy="204.2" r="1.12"/><circle cx="559.2" cy="205.0" r="1.12"/><circle cx="559.4" cy="211.1" r="1.12"/><circle cx="559.1" cy="190.9" r="1.12"/><circle cx="559.3" cy="198.4" r="1.12"/><circle cx="558.9" cy="192.5" r="1.12"/><circle cx="559.5" cy="205.0" r="1.12"/><circle cx="559.3" cy="191.6" r="1.12"/><circle cx="559.1" cy="192.0" r="1.12"/><circle cx="559.4" cy="207.1" r="1.12"/><circle cx="559.4" cy="197.1" r="1.12"/><circle cx="559.0" cy="189.9" r="1.12"/><circle cx="559.1" cy="206.9" r="1.12"/><circle cx="559.2" cy="209.4" r="1.12"/><circle cx="558.9" cy="198.5" r="1.12"/><circle cx="559.1" cy="208.2" r="1.12"/><circle cx="558.8" cy="188.6" r="1.12"/><circle cx="559.3" cy="193.8" r="1.12"/><circle cx="559.1" cy="210.0" r="1.12"/><circle cx="559.2" cy="190.6" r="1.12"/><circle cx="558.9" cy="184.7" r="1.12"/><circle cx="559.4" cy="190.3" r="1.12"/><circle cx="558.9" cy="193.1" r="1.12"/><circle cx="559.0" cy="197.3" r="1.12"/><circle cx="559.3" cy="204.9" r="1.12"/><circle cx="559.0" cy="187.0" r="1.12"/><circle cx="559.2" cy="211.1" r="1.12"/><circle cx="559.5" cy="212.5" r="1.12"/><circle cx="558.8" cy="191.6" r="1.12"/><circle cx="559.0" cy="184.9" r="1.12"/><circle cx="558.9" cy="200.2" r="1.12"/><circle cx="559.3" cy="204.2" r="1.12"/><circle cx="559.5" cy="200.0" r="1.12"/><circle cx="559.3" cy="209.7" r="1.12"/><circle cx="559.4" cy="193.1" r="1.12"/><circle cx="559.1" cy="195.2" r="1.12"/><circle cx="558.8" cy="187.9" r="1.12"/><circle cx="559.1" cy="201.8" r="1.12"/><circle cx="559.1" cy="201.9" r="1.12"/><circle cx="559.4" cy="199.2" r="1.12"/><circle cx="559.2" cy="219.9" r="1.12"/><circle cx="564.1" cy="208.7" r="1.12"/><circle cx="564.0" cy="201.1" r="1.12"/><circle cx="564.5" cy="211.6" r="1.12"/><circle cx="564.4" cy="194.4" r="1.12"/><circle cx="564.1" cy="180.8" r="1.12"/><circle cx="564.0" cy="187.9" r="1.12"/><circle cx="564.2" cy="195.2" r="1.12"/><circle cx="564.1" cy="185.1" r="1.12"/><circle cx="563.8" cy="180.3" r="1.12"/><circle cx="564.4" cy="214.0" r="1.12"/><circle cx="563.9" cy="195.0" r="1.12"/><circle cx="564.0" cy="176.3" r="1.12"/><circle cx="564.3" cy="195.1" r="1.12"/><circle cx="564.1" cy="195.4" r="1.12"/><circle cx="564.4" cy="200.8" r="1.12"/><circle cx="564.3" cy="200.0" r="1.12"/><circle cx="563.9" cy="193.2" r="1.12"/><circle cx="564.1" cy="174.4" r="1.12"/><circle cx="563.9" cy="195.0" r="1.12"/><circle cx="564.2" cy="188.8" r="1.12"/><circle cx="564.3" cy="191.4" r="1.12"/><circle cx="564.1" cy="204.7" r="1.12"/><circle cx="564.0" cy="191.2" r="1.12"/><circle cx="564.1" cy="183.6" r="1.12"/><circle cx="563.9" cy="188.4" r="1.12"/><circle cx="563.9" cy="197.8" r="1.12"/><circle cx="564.0" cy="200.6" r="1.12"/><circle cx="564.1" cy="190.1" r="1.12"/><circle cx="564.0" cy="189.3" r="1.12"/><circle cx="564.2" cy="196.9" r="1.12"/><circle cx="564.2" cy="209.2" r="1.12"/><circle cx="563.9" cy="197.8" r="1.12"/><circle cx="564.2" cy="217.1" r="1.12"/><circle cx="563.9" cy="202.0" r="1.12"/><circle cx="564.2" cy="206.5" r="1.12"/><circle cx="564.3" cy="193.7" r="1.12"/><circle cx="563.9" cy="170.6" r="1.12"/><circle cx="564.0" cy="192.0" r="1.12"/><circle cx="564.1" cy="192.6" r="1.12"/><circle cx="564.3" cy="193.5" r="1.12"/><circle cx="564.1" cy="202.3" r="1.12"/><circle cx="563.9" cy="171.3" r="1.12"/><circle cx="564.0" cy="207.1" r="1.12"/><circle cx="563.9" cy="194.8" r="1.12"/><circle cx="564.0" cy="173.6" r="1.12"/><circle cx="564.0" cy="172.0" r="1.12"/><circle cx="564.1" cy="198.2" r="1.12"/><circle cx="564.3" cy="198.0" r="1.12"/><circle cx="564.2" cy="199.0" r="1.12"/><circle cx="563.8" cy="169.6" r="1.12"/><circle cx="563.9" cy="182.2" r="1.12"/><circle cx="564.3" cy="211.6" r="1.12"/><circle cx="564.3" cy="187.1" r="1.12"/><circle cx="564.1" cy="208.8" r="1.12"/><circle cx="564.0" cy="187.5" r="1.12"/><circle cx="564.1" cy="192.1" r="1.12"/><circle cx="563.9" cy="187.3" r="1.12"/><circle cx="564.0" cy="214.5" r="1.12"/><circle cx="564.0" cy="184.8" r="1.12"/><circle cx="564.0" cy="197.1" r="1.12"/><circle cx="564.4" cy="206.4" r="1.12"/><circle cx="564.4" cy="198.4" r="1.12"/><circle cx="563.8" cy="191.2" r="1.12"/><circle cx="563.8" cy="190.6" r="1.12"/><circle cx="564.0" cy="205.2" r="1.12"/><circle cx="564.4" cy="214.7" r="1.12"/><circle cx="564.2" cy="193.8" r="1.12"/><circle cx="563.9" cy="197.2" r="1.12"/><circle cx="563.9" cy="194.4" r="1.12"/><circle cx="564.2" cy="207.9" r="1.12"/><circle cx="564.3" cy="207.8" r="1.12"/><circle cx="563.8" cy="190.2" r="1.12"/><circle cx="564.2" cy="195.6" r="1.12"/><circle cx="563.8" cy="185.0" r="1.12"/><circle cx="564.5" cy="214.2" r="1.12"/><circle cx="564.2" cy="176.8" r="1.12"/><circle cx="564.1" cy="188.3" r="1.12"/><circle cx="563.7" cy="180.3" r="1.12"/><circle cx="564.0" cy="192.2" r="1.12"/><circle cx="564.0" cy="206.4" r="1.12"/><circle cx="564.5" cy="214.7" r="1.12"/><circle cx="564.2" cy="190.8" r="1.12"/><circle cx="568.8" cy="206.0" r="1.12"/><circle cx="569.1" cy="205.7" r="1.12"/><circle cx="568.8" cy="201.6" r="1.12"/><circle cx="569.0" cy="217.2" r="1.12"/><circle cx="569.4" cy="213.5" r="1.12"/><circle cx="569.0" cy="201.7" r="1.12"/><circle cx="568.8" cy="193.4" r="1.12"/><circle cx="568.7" cy="199.0" r="1.12"/><circle cx="569.0" cy="204.1" r="1.12"/><circle cx="569.0" cy="194.7" r="1.12"/><circle cx="568.8" cy="208.8" r="1.12"/><circle cx="568.8" cy="208.4" r="1.12"/><circle cx="569.0" cy="208.3" r="1.12"/><circle cx="569.2" cy="203.7" r="1.12"/><circle cx="569.2" cy="201.4" r="1.12"/><circle cx="569.1" cy="200.1" r="1.12"/><circle cx="568.9" cy="195.3" r="1.12"/><circle cx="568.6" cy="195.3" r="1.12"/><circle cx="568.9" cy="207.1" r="1.12"/><circle cx="568.7" cy="197.6" r="1.12"/><circle cx="569.0" cy="206.1" r="1.12"/><circle cx="569.2" cy="217.9" r="1.12"/><circle cx="569.2" cy="214.3" r="1.12"/><circle cx="568.7" cy="198.5" r="1.12"/><circle cx="568.9" cy="201.3" r="1.12"/><circle cx="568.7" cy="200.2" r="1.12"/><circle cx="569.2" cy="208.6" r="1.12"/><circle cx="569.1" cy="205.5" r="1.12"/><circle cx="569.2" cy="214.6" r="1.12"/><circle cx="569.3" cy="215.0" r="1.12"/><circle cx="568.7" cy="205.0" r="1.12"/><circle cx="569.1" cy="218.5" r="1.12"/><circle cx="569.1" cy="203.6" r="1.12"/><circle cx="568.6" cy="196.3" r="1.12"/><circle cx="569.2" cy="199.5" r="1.12"/><circle cx="569.2" cy="220.1" r="1.12"/><circle cx="569.2" cy="206.0" r="1.12"/><circle cx="568.9" cy="213.2" r="1.12"/><circle cx="569.2" cy="209.6" r="1.12"/><circle cx="568.7" cy="194.6" r="1.12"/><circle cx="569.0" cy="196.6" r="1.12"/><circle cx="569.4" cy="214.2" r="1.12"/><circle cx="569.4" cy="217.5" r="1.12"/><circle cx="569.1" cy="214.6" r="1.12"/><circle cx="569.4" cy="215.3" r="1.12"/><circle cx="568.9" cy="200.4" r="1.12"/><circle cx="569.4" cy="219.0" r="1.12"/><circle cx="568.7" cy="199.1" r="1.12"/><circle cx="573.9" cy="182.3" r="1.12"/><circle cx="574.3" cy="196.5" r="1.12"/><circle cx="574.5" cy="207.0" r="1.12"/><circle cx="574.6" cy="211.0" r="1.12"/><circle cx="574.1" cy="212.6" r="1.12"/><circle cx="574.2" cy="204.2" r="1.12"/><circle cx="574.4" cy="201.4" r="1.12"/><circle cx="573.7" cy="172.9" r="1.12"/><circle cx="574.0" cy="178.0" r="1.12"/><circle cx="574.1" cy="201.9" r="1.12"/><circle cx="574.3" cy="183.0" r="1.12"/><circle cx="574.0" cy="189.8" r="1.12"/><circle cx="574.4" cy="206.6" r="1.12"/><circle cx="574.0" cy="208.7" r="1.12"/><circle cx="574.5" cy="199.1" r="1.12"/><circle cx="574.3" cy="202.9" r="1.12"/><circle cx="574.4" cy="215.9" r="1.12"/><circle cx="574.7" cy="218.9" r="1.12"/><circle cx="573.9" cy="181.9" r="1.12"/><circle cx="574.4" cy="189.7" r="1.12"/><circle cx="574.0" cy="194.7" r="1.12"/><circle cx="574.4" cy="194.6" r="1.12"/><circle cx="574.5" cy="197.5" r="1.12"/><circle cx="574.1" cy="215.9" r="1.12"/><circle cx="574.5" cy="202.8" r="1.12"/><circle cx="574.2" cy="190.2" r="1.12"/><circle cx="574.3" cy="190.9" r="1.12"/><circle cx="574.3" cy="216.5" r="1.12"/><circle cx="574.5" cy="216.4" r="1.12"/><circle cx="574.4" cy="199.6" r="1.12"/><circle cx="574.5" cy="215.7" r="1.12"/><circle cx="573.8" cy="174.4" r="1.12"/><circle cx="574.2" cy="218.7" r="1.12"/><circle cx="574.0" cy="201.1" r="1.12"/><circle cx="574.2" cy="191.6" r="1.12"/><circle cx="574.0" cy="186.3" r="1.12"/><circle cx="574.5" cy="199.0" r="1.12"/><circle cx="574.4" cy="204.0" r="1.12"/><circle cx="574.3" cy="191.1" r="1.12"/><circle cx="574.2" cy="193.3" r="1.12"/><circle cx="574.2" cy="212.6" r="1.12"/><circle cx="574.3" cy="179.5" r="1.12"/><circle cx="573.9" cy="180.5" r="1.12"/><circle cx="574.1" cy="187.4" r="1.12"/><circle cx="574.2" cy="219.4" r="1.12"/><circle cx="573.9" cy="187.6" r="1.12"/><circle cx="573.9" cy="188.2" r="1.12"/><circle cx="574.0" cy="185.3" r="1.12"/><circle cx="574.5" cy="200.9" r="1.12"/><circle cx="574.3" cy="194.4" r="1.12"/><circle cx="574.1" cy="210.3" r="1.12"/><circle cx="574.3" cy="209.3" r="1.12"/><circle cx="574.1" cy="205.1" r="1.12"/><circle cx="574.2" cy="190.2" r="1.12"/><circle cx="574.0" cy="186.6" r="1.12"/><circle cx="574.4" cy="211.3" r="1.12"/><circle cx="574.0" cy="189.8" r="1.12"/><circle cx="574.3" cy="191.8" r="1.12"/><circle cx="574.5" cy="205.5" r="1.12"/><circle cx="574.1" cy="178.1" r="1.12"/><circle cx="574.5" cy="219.4" r="1.12"/><circle cx="574.6" cy="210.1" r="1.12"/><circle cx="574.2" cy="208.6" r="1.12"/><circle cx="574.1" cy="211.6" r="1.12"/><circle cx="574.4" cy="214.8" r="1.12"/><circle cx="574.0" cy="205.0" r="1.12"/><circle cx="574.2" cy="190.9" r="1.12"/><circle cx="574.4" cy="213.8" r="1.12"/><circle cx="574.0" cy="192.2" r="1.12"/><circle cx="574.5" cy="213.5" r="1.12"/><circle cx="574.2" cy="180.0" r="1.12"/><circle cx="574.4" cy="196.9" r="1.12"/><circle cx="574.4" cy="208.6" r="1.12"/><circle cx="574.4" cy="210.9" r="1.12"/><circle cx="574.2" cy="189.1" r="1.12"/><circle cx="574.0" cy="197.8" r="1.12"/><circle cx="574.3" cy="177.2" r="1.12"/><circle cx="574.4" cy="211.4" r="1.12"/><circle cx="573.9" cy="176.2" r="1.12"/><circle cx="573.8" cy="172.9" r="1.12"/><circle cx="579.3" cy="197.4" r="1.12"/><circle cx="579.2" cy="219.1" r="1.12"/><circle cx="579.1" cy="191.0" r="1.12"/><circle cx="579.1" cy="196.0" r="1.12"/><circle cx="579.6" cy="219.1" r="1.12"/><circle cx="579.1" cy="211.5" r="1.12"/><circle cx="579.0" cy="204.3" r="1.12"/><circle cx="579.4" cy="210.2" r="1.12"/><circle cx="579.3" cy="199.3" r="1.12"/><circle cx="579.5" cy="191.0" r="1.12"/><circle cx="579.3" cy="218.5" r="1.12"/><circle cx="579.2" cy="215.1" r="1.12"/><circle cx="579.4" cy="201.9" r="1.12"/><circle cx="579.1" cy="201.9" r="1.12"/><circle cx="579.4" cy="194.5" r="1.12"/><circle cx="579.1" cy="204.8" r="1.12"/><circle cx="579.3" cy="203.3" r="1.12"/><circle cx="579.5" cy="213.6" r="1.12"/><circle cx="579.6" cy="225.3" r="1.12"/><circle cx="579.0" cy="202.3" r="1.12"/><circle cx="579.5" cy="221.3" r="1.12"/><circle cx="579.0" cy="192.8" r="1.12"/><circle cx="579.2" cy="210.3" r="1.12"/><circle cx="579.4" cy="189.8" r="1.12"/><circle cx="579.2" cy="218.5" r="1.12"/><circle cx="579.3" cy="201.3" r="1.12"/><circle cx="579.7" cy="227.4" r="1.12"/><circle cx="579.1" cy="202.9" r="1.12"/><circle cx="579.1" cy="185.5" r="1.12"/><circle cx="579.4" cy="185.8" r="1.12"/><circle cx="579.7" cy="214.0" r="1.12"/><circle cx="579.2" cy="201.0" r="1.12"/><circle cx="579.2" cy="218.9" r="1.12"/><circle cx="579.1" cy="194.5" r="1.12"/><circle cx="579.3" cy="180.7" r="1.12"/><circle cx="579.4" cy="212.4" r="1.12"/><circle cx="579.2" cy="183.7" r="1.12"/><circle cx="579.5" cy="222.4" r="1.12"/><circle cx="579.3" cy="206.7" r="1.12"/><circle cx="578.9" cy="185.2" r="1.12"/><circle cx="579.2" cy="189.8" r="1.12"/><circle cx="579.3" cy="210.5" r="1.12"/><circle cx="578.9" cy="183.5" r="1.12"/><circle cx="579.4" cy="202.7" r="1.12"/><circle cx="579.5" cy="212.7" r="1.12"/><circle cx="579.4" cy="213.1" r="1.12"/><circle cx="579.1" cy="205.2" r="1.12"/><circle cx="579.5" cy="198.9" r="1.12"/><circle cx="579.1" cy="210.4" r="1.12"/><circle cx="579.3" cy="184.8" r="1.12"/><circle cx="579.4" cy="186.9" r="1.12"/><circle cx="579.4" cy="190.7" r="1.12"/><circle cx="579.2" cy="210.6" r="1.12"/><circle cx="579.0" cy="201.9" r="1.12"/><circle cx="579.3" cy="226.5" r="1.12"/><circle cx="579.1" cy="211.6" r="1.12"/><circle cx="579.7" cy="217.7" r="1.12"/><circle cx="579.1" cy="180.4" r="1.12"/><circle cx="579.5" cy="219.3" r="1.12"/><circle cx="579.1" cy="208.5" r="1.12"/><circle cx="579.0" cy="182.9" r="1.12"/><circle cx="579.0" cy="207.4" r="1.12"/><circle cx="579.4" cy="219.7" r="1.12"/><circle cx="579.0" cy="186.1" r="1.12"/><circle cx="579.4" cy="213.7" r="1.12"/><circle cx="579.5" cy="206.0" r="1.12"/><circle cx="579.2" cy="209.2" r="1.12"/><circle cx="579.7" cy="212.8" r="1.12"/><circle cx="579.0" cy="200.3" r="1.12"/><circle cx="579.4" cy="213.2" r="1.12"/><circle cx="579.3" cy="201.9" r="1.12"/><circle cx="579.5" cy="211.1" r="1.12"/><circle cx="579.6" cy="218.1" r="1.12"/><circle cx="579.6" cy="213.5" r="1.12"/><circle cx="579.1" cy="200.8" r="1.12"/><circle cx="579.6" cy="225.1" r="1.12"/><circle cx="579.1" cy="192.3" r="1.12"/><circle cx="579.5" cy="198.5" r="1.12"/><circle cx="579.5" cy="211.4" r="1.12"/><circle cx="594.9" cy="216.7" r="1.12"/><circle cx="594.2" cy="203.7" r="1.12"/><circle cx="594.7" cy="200.7" r="1.12"/><circle cx="594.7" cy="203.3" r="1.12"/><circle cx="594.8" cy="218.1" r="1.12"/><circle cx="594.3" cy="197.4" r="1.12"/><circle cx="594.7" cy="211.2" r="1.12"/><circle cx="594.8" cy="214.4" r="1.12"/><circle cx="594.6" cy="208.8" r="1.12"/><circle cx="595.0" cy="218.7" r="1.12"/><circle cx="594.7" cy="199.6" r="1.12"/><circle cx="594.8" cy="204.2" r="1.12"/><circle cx="594.6" cy="199.3" r="1.12"/><circle cx="594.8" cy="212.8" r="1.12"/><circle cx="594.6" cy="198.2" r="1.12"/><circle cx="594.7" cy="210.1" r="1.12"/><circle cx="594.7" cy="210.2" r="1.12"/><circle cx="594.4" cy="212.9" r="1.12"/><circle cx="594.3" cy="200.3" r="1.12"/><circle cx="594.7" cy="197.6" r="1.12"/><circle cx="594.5" cy="213.8" r="1.12"/><circle cx="594.4" cy="197.2" r="1.12"/><circle cx="594.8" cy="212.8" r="1.12"/><circle cx="594.3" cy="197.1" r="1.12"/><circle cx="594.6" cy="216.5" r="1.12"/><circle cx="594.8" cy="217.2" r="1.12"/><circle cx="594.7" cy="200.8" r="1.12"/><circle cx="594.5" cy="198.8" r="1.12"/><circle cx="594.3" cy="205.2" r="1.12"/><circle cx="594.9" cy="220.5" r="1.12"/><circle cx="594.2" cy="203.0" r="1.12"/><circle cx="594.7" cy="218.6" r="1.12"/><circle cx="594.6" cy="214.5" r="1.12"/><circle cx="594.3" cy="204.3" r="1.12"/><circle cx="594.4" cy="201.2" r="1.12"/><circle cx="594.4" cy="204.7" r="1.12"/><circle cx="594.4" cy="202.2" r="1.12"/><circle cx="594.9" cy="211.5" r="1.12"/><circle cx="594.6" cy="195.9" r="1.12"/><circle cx="594.3" cy="203.5" r="1.12"/><circle cx="594.3" cy="206.7" r="1.12"/><circle cx="594.3" cy="197.7" r="1.12"/><circle cx="594.3" cy="200.7" r="1.12"/><circle cx="594.4" cy="196.4" r="1.12"/><circle cx="594.5" cy="219.3" r="1.12"/><circle cx="599.5" cy="202.1" r="1.12"/><circle cx="600.0" cy="221.6" r="1.12"/><circle cx="599.5" cy="198.7" r="1.12"/><circle cx="599.4" cy="212.0" r="1.12"/><circle cx="599.6" cy="210.6" r="1.12"/><circle cx="599.5" cy="213.2" r="1.12"/><circle cx="599.4" cy="201.6" r="1.12"/><circle cx="599.4" cy="199.0" r="1.12"/><circle cx="599.6" cy="207.9" r="1.12"/><circle cx="599.6" cy="196.1" r="1.12"/><circle cx="599.7" cy="211.0" r="1.12"/><circle cx="600.0" cy="217.3" r="1.12"/><circle cx="599.6" cy="217.7" r="1.12"/><circle cx="599.7" cy="212.4" r="1.12"/><circle cx="599.3" cy="212.2" r="1.12"/><circle cx="599.7" cy="204.9" r="1.12"/><circle cx="599.6" cy="213.0" r="1.12"/><circle cx="599.6" cy="219.9" r="1.12"/><circle cx="599.9" cy="209.8" r="1.12"/><circle cx="599.7" cy="210.2" r="1.12"/><circle cx="599.3" cy="201.9" r="1.12"/><circle cx="599.6" cy="225.5" r="1.12"/><circle cx="599.7" cy="224.3" r="1.12"/><circle cx="599.3" cy="205.7" r="1.12"/><circle cx="599.3" cy="213.5" r="1.12"/><circle cx="599.6" cy="211.4" r="1.12"/><circle cx="599.4" cy="209.7" r="1.12"/><circle cx="599.6" cy="211.9" r="1.12"/><circle cx="599.4" cy="212.9" r="1.12"/><circle cx="599.5" cy="207.7" r="1.12"/><circle cx="599.7" cy="207.7" r="1.12"/><circle cx="599.6" cy="221.3" r="1.12"/><circle cx="599.5" cy="223.8" r="1.12"/><circle cx="599.5" cy="209.4" r="1.12"/><circle cx="599.7" cy="204.1" r="1.12"/><circle cx="599.8" cy="208.0" r="1.12"/><circle cx="599.7" cy="219.7" r="1.12"/><circle cx="599.6" cy="207.1" r="1.12"/><circle cx="600.0" cy="219.5" r="1.12"/><circle cx="599.7" cy="211.8" r="1.12"/><circle cx="599.3" cy="200.9" r="1.12"/><circle cx="599.5" cy="202.5" r="1.12"/><circle cx="599.8" cy="216.8" r="1.12"/><circle cx="599.8" cy="209.6" r="1.12"/><circle cx="599.5" cy="195.7" r="1.12"/><circle cx="599.5" cy="216.7" r="1.12"/><circle cx="599.6" cy="224.3" r="1.12"/><circle cx="599.4" cy="208.4" r="1.12"/><circle cx="599.8" cy="207.7" r="1.12"/><circle cx="599.4" cy="202.4" r="1.12"/><circle cx="599.4" cy="215.4" r="1.12"/><circle cx="603.3" cy="204.6" r="1.12"/><circle cx="603.5" cy="202.7" r="1.12"/><circle cx="603.8" cy="201.7" r="1.12"/><circle cx="603.9" cy="210.3" r="1.12"/><circle cx="603.4" cy="208.3" r="1.12"/><circle cx="604.0" cy="209.3" r="1.12"/><circle cx="603.9" cy="213.5" r="1.12"/><circle cx="604.0" cy="211.3" r="1.12"/><circle cx="603.5" cy="203.8" r="1.12"/><circle cx="603.7" cy="204.8" r="1.12"/><circle cx="603.9" cy="214.9" r="1.12"/><circle cx="603.8" cy="206.7" r="1.12"/><circle cx="603.4" cy="202.8" r="1.12"/><circle cx="603.5" cy="208.3" r="1.12"/><circle cx="603.5" cy="212.6" r="1.12"/><circle cx="603.8" cy="202.4" r="1.12"/><circle cx="603.6" cy="202.9" r="1.12"/><circle cx="603.6" cy="205.9" r="1.12"/><circle cx="603.4" cy="203.3" r="1.12"/><circle cx="603.7" cy="202.0" r="1.12"/><circle cx="603.7" cy="204.9" r="1.12"/><circle cx="603.4" cy="206.2" r="1.12"/><circle cx="603.6" cy="216.3" r="1.12"/><circle cx="603.5" cy="203.0" r="1.12"/><circle cx="604.0" cy="213.3" r="1.12"/><circle cx="603.4" cy="202.0" r="1.12"/><circle cx="604.0" cy="212.5" r="1.12"/><circle cx="603.7" cy="208.0" r="1.12"/><circle cx="603.4" cy="206.6" r="1.12"/><circle cx="603.6" cy="208.0" r="1.12"/><circle cx="608.9" cy="203.1" r="1.12"/><circle cx="609.3" cy="202.1" r="1.12"/><circle cx="609.5" cy="209.3" r="1.12"/><circle cx="609.2" cy="190.0" r="1.12"/><circle cx="609.3" cy="191.6" r="1.12"/><circle cx="609.6" cy="214.7" r="1.12"/><circle cx="609.2" cy="213.4" r="1.12"/><circle cx="609.0" cy="208.3" r="1.12"/><circle cx="608.8" cy="183.8" r="1.12"/><circle cx="609.3" cy="218.9" r="1.12"/><circle cx="609.2" cy="195.9" r="1.12"/><circle cx="609.2" cy="196.3" r="1.12"/><circle cx="609.1" cy="198.7" r="1.12"/><circle cx="609.1" cy="204.8" r="1.12"/><circle cx="609.3" cy="194.5" r="1.12"/><circle cx="609.3" cy="212.5" r="1.12"/><circle cx="609.4" cy="218.7" r="1.12"/><circle cx="609.1" cy="186.1" r="1.12"/><circle cx="609.5" cy="206.9" r="1.12"/><circle cx="609.1" cy="187.0" r="1.12"/><circle cx="609.4" cy="202.8" r="1.12"/><circle cx="608.9" cy="198.4" r="1.12"/><circle cx="609.4" cy="206.7" r="1.12"/><circle cx="608.8" cy="186.0" r="1.12"/><circle cx="609.0" cy="203.0" r="1.12"/><circle cx="609.0" cy="188.8" r="1.12"/><circle cx="609.4" cy="193.4" r="1.12"/><circle cx="609.4" cy="198.9" r="1.12"/><circle cx="609.6" cy="217.8" r="1.12"/><circle cx="609.3" cy="203.1" r="1.12"/><circle cx="609.5" cy="200.3" r="1.12"/><circle cx="608.9" cy="186.1" r="1.12"/><circle cx="609.4" cy="196.1" r="1.12"/><circle cx="609.0" cy="187.8" r="1.12"/><circle cx="609.0" cy="188.8" r="1.12"/><circle cx="609.3" cy="189.3" r="1.12"/><circle cx="609.1" cy="216.2" r="1.12"/><circle cx="609.5" cy="212.2" r="1.12"/><circle cx="609.6" cy="219.7" r="1.12"/><circle cx="609.2" cy="205.4" r="1.12"/><circle cx="608.9" cy="195.9" r="1.12"/><circle cx="609.0" cy="190.9" r="1.12"/><circle cx="609.4" cy="207.1" r="1.12"/><circle cx="609.3" cy="191.6" r="1.12"/><circle cx="609.5" cy="221.2" r="1.12"/><circle cx="609.2" cy="211.1" r="1.12"/><circle cx="609.2" cy="209.3" r="1.12"/><circle cx="609.5" cy="214.5" r="1.12"/><circle cx="609.1" cy="215.6" r="1.12"/><circle cx="609.5" cy="219.1" r="1.12"/><circle cx="609.3" cy="212.1" r="1.12"/><circle cx="609.4" cy="200.0" r="1.12"/><circle cx="609.1" cy="213.0" r="1.12"/><circle cx="609.0" cy="190.7" r="1.12"/><circle cx="608.8" cy="182.9" r="1.12"/><circle cx="609.0" cy="198.0" r="1.12"/><circle cx="609.4" cy="200.2" r="1.12"/><circle cx="609.5" cy="219.8" r="1.12"/><circle cx="609.6" cy="217.4" r="1.12"/><circle cx="609.5" cy="211.0" r="1.12"/><circle cx="609.4" cy="204.9" r="1.12"/><circle cx="609.2" cy="202.5" r="1.12"/><circle cx="609.2" cy="216.9" r="1.12"/><circle cx="609.4" cy="196.3" r="1.12"/><circle cx="609.0" cy="213.9" r="1.12"/><circle cx="609.4" cy="205.4" r="1.12"/><circle cx="609.4" cy="200.8" r="1.12"/><circle cx="614.1" cy="210.2" r="1.12"/><circle cx="614.1" cy="208.2" r="1.12"/><circle cx="614.3" cy="214.4" r="1.12"/><circle cx="614.4" cy="192.0" r="1.12"/><circle cx="614.0" cy="184.1" r="1.12"/><circle cx="614.3" cy="203.6" r="1.12"/><circle cx="614.6" cy="211.3" r="1.12"/><circle cx="614.0" cy="200.1" r="1.12"/><circle cx="614.5" cy="215.6" r="1.12"/><circle cx="614.6" cy="213.7" r="1.12"/><circle cx="614.4" cy="190.9" r="1.12"/><circle cx="614.4" cy="215.2" r="1.12"/><circle cx="614.2" cy="216.6" r="1.12"/><circle cx="614.2" cy="203.2" r="1.12"/><circle cx="614.1" cy="194.6" r="1.12"/><circle cx="614.0" cy="197.9" r="1.12"/><circle cx="614.1" cy="175.4" r="1.12"/><circle cx="614.2" cy="197.4" r="1.12"/><circle cx="614.3" cy="182.9" r="1.12"/><circle cx="614.2" cy="184.1" r="1.12"/><circle cx="614.4" cy="208.4" r="1.12"/><circle cx="614.4" cy="187.2" r="1.12"/><circle cx="614.0" cy="177.4" r="1.12"/><circle cx="614.3" cy="194.8" r="1.12"/><circle cx="614.1" cy="181.4" r="1.12"/><circle cx="614.6" cy="219.5" r="1.12"/><circle cx="614.0" cy="184.1" r="1.12"/><circle cx="614.0" cy="202.6" r="1.12"/><circle cx="614.0" cy="184.3" r="1.12"/><circle cx="614.2" cy="197.0" r="1.12"/><circle cx="614.7" cy="218.4" r="1.12"/><circle cx="614.0" cy="198.8" r="1.12"/><circle cx="614.5" cy="194.5" r="1.12"/><circle cx="614.1" cy="193.1" r="1.12"/><circle cx="614.1" cy="190.8" r="1.12"/><circle cx="614.1" cy="181.9" r="1.12"/><circle cx="614.1" cy="175.4" r="1.12"/><circle cx="614.4" cy="190.9" r="1.12"/><circle cx="614.0" cy="193.0" r="1.12"/><circle cx="614.4" cy="199.8" r="1.12"/><circle cx="614.5" cy="204.4" r="1.12"/><circle cx="614.4" cy="210.3" r="1.12"/><circle cx="614.2" cy="190.2" r="1.12"/><circle cx="614.3" cy="186.6" r="1.12"/><circle cx="614.2" cy="200.1" r="1.12"/><circle cx="614.4" cy="197.2" r="1.12"/><circle cx="614.4" cy="190.7" r="1.12"/><circle cx="614.2" cy="203.5" r="1.12"/><circle cx="614.3" cy="192.3" r="1.12"/><circle cx="614.0" cy="186.7" r="1.12"/><circle cx="614.2" cy="191.2" r="1.12"/><circle cx="614.3" cy="187.4" r="1.12"/><circle cx="613.8" cy="182.2" r="1.12"/><circle cx="614.0" cy="197.3" r="1.12"/><circle cx="614.2" cy="186.0" r="1.12"/><circle cx="614.6" cy="207.1" r="1.12"/><circle cx="614.0" cy="199.6" r="1.12"/><circle cx="614.2" cy="216.3" r="1.12"/><circle cx="614.2" cy="208.4" r="1.12"/><circle cx="614.2" cy="179.2" r="1.12"/><circle cx="614.0" cy="201.7" r="1.12"/><circle cx="614.1" cy="176.8" r="1.12"/><circle cx="614.0" cy="192.7" r="1.12"/><circle cx="614.5" cy="202.2" r="1.12"/><circle cx="614.1" cy="191.1" r="1.12"/><circle cx="614.4" cy="189.0" r="1.12"/><circle cx="614.2" cy="219.4" r="1.12"/><circle cx="614.2" cy="186.9" r="1.12"/><circle cx="614.1" cy="177.7" r="1.12"/><circle cx="614.2" cy="176.6" r="1.12"/><circle cx="614.5" cy="200.7" r="1.12"/><circle cx="614.2" cy="201.8" r="1.12"/><circle cx="614.6" cy="217.1" r="1.12"/><circle cx="614.1" cy="191.5" r="1.12"/><circle cx="619.4" cy="203.2" r="1.12"/><circle cx="619.1" cy="197.7" r="1.12"/><circle cx="619.3" cy="198.5" r="1.12"/><circle cx="619.3" cy="182.5" r="1.12"/><circle cx="619.2" cy="214.4" r="1.12"/><circle cx="619.3" cy="196.7" r="1.12"/><circle cx="619.5" cy="205.7" r="1.12"/><circle cx="619.3" cy="199.6" r="1.12"/><circle cx="618.8" cy="173.6" r="1.12"/><circle cx="619.1" cy="210.0" r="1.12"/><circle cx="619.4" cy="214.2" r="1.12"/><circle cx="619.0" cy="166.6" r="1.12"/><circle cx="619.2" cy="213.0" r="1.12"/><circle cx="619.0" cy="209.8" r="1.12"/><circle cx="619.1" cy="192.6" r="1.12"/><circle cx="619.3" cy="202.1" r="1.12"/><circle cx="619.1" cy="163.5" r="1.12"/><circle cx="618.9" cy="170.6" r="1.12"/><circle cx="619.3" cy="180.2" r="1.12"/><circle cx="619.3" cy="218.6" r="1.12"/><circle cx="619.2" cy="207.0" r="1.12"/><circle cx="619.5" cy="210.4" r="1.12"/><circle cx="618.9" cy="194.9" r="1.12"/><circle cx="619.3" cy="208.5" r="1.12"/><circle cx="619.1" cy="199.6" r="1.12"/><circle cx="618.7" cy="172.7" r="1.12"/><circle cx="619.4" cy="198.2" r="1.12"/><circle cx="618.9" cy="159.6" r="1.12"/><circle cx="619.1" cy="201.5" r="1.12"/><circle cx="619.3" cy="190.2" r="1.12"/><circle cx="618.9" cy="176.5" r="1.12"/><circle cx="618.9" cy="167.5" r="1.12"/><circle cx="619.1" cy="209.5" r="1.12"/><circle cx="619.5" cy="213.0" r="1.12"/><circle cx="619.2" cy="204.7" r="1.12"/><circle cx="619.0" cy="209.8" r="1.12"/><circle cx="619.4" cy="213.4" r="1.12"/><circle cx="619.3" cy="194.5" r="1.12"/><circle cx="619.1" cy="216.4" r="1.12"/><circle cx="619.1" cy="199.4" r="1.12"/><circle cx="619.0" cy="177.0" r="1.12"/><circle cx="619.0" cy="173.9" r="1.12"/><circle cx="619.0" cy="204.1" r="1.12"/><circle cx="619.5" cy="211.7" r="1.12"/><circle cx="619.5" cy="205.4" r="1.12"/><circle cx="618.9" cy="181.1" r="1.12"/><circle cx="618.8" cy="162.2" r="1.12"/><circle cx="619.4" cy="196.0" r="1.12"/><circle cx="619.4" cy="199.5" r="1.12"/><circle cx="619.4" cy="196.3" r="1.12"/><circle cx="619.2" cy="198.5" r="1.12"/><circle cx="618.9" cy="175.9" r="1.12"/><circle cx="619.1" cy="187.6" r="1.12"/><circle cx="618.8" cy="170.1" r="1.12"/><circle cx="619.3" cy="208.7" r="1.12"/><circle cx="619.4" cy="214.2" r="1.12"/><circle cx="619.0" cy="180.8" r="1.12"/><circle cx="619.3" cy="216.8" r="1.12"/><circle cx="619.1" cy="158.0" r="1.12"/><circle cx="618.8" cy="193.6" r="1.12"/><circle cx="618.9" cy="189.2" r="1.12"/><circle cx="619.3" cy="213.0" r="1.12"/><circle cx="619.0" cy="177.3" r="1.12"/><circle cx="619.5" cy="204.3" r="1.12"/><circle cx="618.8" cy="164.3" r="1.12"/><circle cx="619.1" cy="166.6" r="1.12"/><circle cx="619.6" cy="215.9" r="1.12"/><circle cx="618.9" cy="195.6" r="1.12"/><circle cx="619.1" cy="201.9" r="1.12"/><circle cx="618.9" cy="189.4" r="1.12"/><circle cx="619.1" cy="166.6" r="1.12"/><circle cx="619.0" cy="167.3" r="1.12"/><circle cx="619.2" cy="191.8" r="1.12"/><circle cx="618.8" cy="170.9" r="1.12"/><circle cx="619.1" cy="205.9" r="1.12"/><circle cx="618.9" cy="163.2" r="1.12"/><circle cx="618.9" cy="178.0" r="1.12"/><circle cx="619.1" cy="198.5" r="1.12"/><circle cx="619.2" cy="188.3" r="1.12"/><circle cx="618.9" cy="165.6" r="1.12"/><circle cx="618.9" cy="162.9" r="1.12"/><circle cx="619.3" cy="176.4" r="1.12"/><circle cx="618.9" cy="174.3" r="1.12"/><circle cx="619.2" cy="213.2" r="1.12"/><circle cx="619.2" cy="166.3" r="1.12"/><circle cx="618.9" cy="196.5" r="1.12"/><circle cx="618.9" cy="188.5" r="1.12"/><circle cx="619.2" cy="202.9" r="1.12"/><circle cx="618.9" cy="167.8" r="1.12"/><circle cx="618.9" cy="205.4" r="1.12"/><circle cx="618.8" cy="171.1" r="1.12"/><circle cx="619.2" cy="162.9" r="1.12"/><circle cx="618.9" cy="188.3" r="1.12"/><circle cx="619.0" cy="182.0" r="1.12"/><circle cx="619.3" cy="178.9" r="1.12"/><circle cx="619.2" cy="201.0" r="1.12"/><circle cx="619.0" cy="169.4" r="1.12"/><circle cx="619.4" cy="210.8" r="1.12"/><circle cx="618.9" cy="186.8" r="1.12"/><circle cx="619.2" cy="199.5" r="1.12"/><circle cx="619.4" cy="209.3" r="1.12"/><circle cx="623.7" cy="186.0" r="1.12"/><circle cx="624.0" cy="206.7" r="1.12"/><circle cx="624.3" cy="211.6" r="1.12"/><circle cx="624.0" cy="193.2" r="1.12"/><circle cx="624.3" cy="197.1" r="1.12"/><circle cx="624.3" cy="214.2" r="1.12"/><circle cx="624.0" cy="186.1" r="1.12"/><circle cx="624.2" cy="188.9" r="1.12"/><circle cx="624.5" cy="224.8" r="1.12"/><circle cx="624.3" cy="215.6" r="1.12"/><circle cx="624.6" cy="223.7" r="1.12"/><circle cx="624.1" cy="204.9" r="1.12"/><circle cx="624.0" cy="195.8" r="1.12"/><circle cx="624.1" cy="200.0" r="1.12"/><circle cx="624.2" cy="203.2" r="1.12"/><circle cx="623.8" cy="189.2" r="1.12"/><circle cx="624.4" cy="214.9" r="1.12"/><circle cx="624.2" cy="212.7" r="1.12"/><circle cx="624.2" cy="198.1" r="1.12"/><circle cx="624.4" cy="217.0" r="1.12"/><circle cx="623.9" cy="190.4" r="1.12"/><circle cx="624.2" cy="194.5" r="1.12"/><circle cx="624.3" cy="202.3" r="1.12"/><circle cx="624.2" cy="209.8" r="1.12"/><circle cx="624.0" cy="197.6" r="1.12"/><circle cx="623.9" cy="182.4" r="1.12"/><circle cx="624.4" cy="210.5" r="1.12"/><circle cx="623.8" cy="191.1" r="1.12"/><circle cx="624.2" cy="216.0" r="1.12"/><circle cx="624.2" cy="199.8" r="1.12"/><circle cx="624.5" cy="220.4" r="1.12"/><circle cx="624.0" cy="200.3" r="1.12"/><circle cx="624.0" cy="205.9" r="1.12"/><circle cx="624.2" cy="221.6" r="1.12"/><circle cx="624.2" cy="218.5" r="1.12"/><circle cx="623.9" cy="189.5" r="1.12"/><circle cx="623.9" cy="186.3" r="1.12"/><circle cx="623.9" cy="198.5" r="1.12"/><circle cx="623.8" cy="181.9" r="1.12"/><circle cx="624.1" cy="181.5" r="1.12"/><circle cx="624.1" cy="195.6" r="1.12"/><circle cx="624.1" cy="200.0" r="1.12"/><circle cx="624.4" cy="206.3" r="1.12"/><circle cx="624.0" cy="191.3" r="1.12"/><circle cx="624.1" cy="195.2" r="1.12"/><circle cx="623.9" cy="207.5" r="1.12"/><circle cx="623.9" cy="190.4" r="1.12"/><circle cx="623.8" cy="197.0" r="1.12"/><circle cx="624.1" cy="221.5" r="1.12"/><circle cx="623.9" cy="206.8" r="1.12"/><circle cx="624.1" cy="216.0" r="1.12"/><circle cx="624.5" cy="215.2" r="1.12"/><circle cx="623.8" cy="183.4" r="1.12"/><circle cx="624.4" cy="208.5" r="1.12"/><circle cx="624.3" cy="205.1" r="1.12"/><circle cx="624.0" cy="199.9" r="1.12"/><circle cx="624.0" cy="213.0" r="1.12"/><circle cx="623.8" cy="183.0" r="1.12"/><circle cx="623.9" cy="200.0" r="1.12"/><circle cx="624.5" cy="211.9" r="1.12"/><circle cx="624.0" cy="188.4" r="1.12"/><circle cx="623.9" cy="197.4" r="1.12"/><circle cx="624.2" cy="219.6" r="1.12"/><circle cx="624.0" cy="208.1" r="1.12"/><circle cx="623.9" cy="184.7" r="1.12"/><circle cx="624.0" cy="186.0" r="1.12"/><circle cx="624.2" cy="195.4" r="1.12"/><circle cx="624.3" cy="195.9" r="1.12"/><circle cx="623.8" cy="196.9" r="1.12"/><circle cx="624.1" cy="210.1" r="1.12"/><circle cx="624.1" cy="207.3" r="1.12"/><circle cx="624.4" cy="217.6" r="1.12"/><circle cx="624.2" cy="202.8" r="1.12"/><circle cx="629.1" cy="213.9" r="1.12"/><circle cx="629.1" cy="201.5" r="1.12"/><circle cx="628.7" cy="193.6" r="1.12"/><circle cx="628.9" cy="208.3" r="1.12"/><circle cx="629.1" cy="206.2" r="1.12"/><circle cx="629.0" cy="187.6" r="1.12"/><circle cx="629.2" cy="207.6" r="1.12"/><circle cx="629.2" cy="205.7" r="1.12"/><circle cx="628.9" cy="208.6" r="1.12"/><circle cx="629.2" cy="202.8" r="1.12"/><circle cx="628.8" cy="211.8" r="1.12"/><circle cx="629.3" cy="226.5" r="1.12"/><circle cx="628.7" cy="194.0" r="1.12"/><circle cx="628.8" cy="221.3" r="1.12"/><circle cx="629.4" cy="224.4" r="1.12"/><circle cx="629.3" cy="214.5" r="1.12"/><circle cx="628.8" cy="190.9" r="1.12"/><circle cx="628.6" cy="182.3" r="1.12"/><circle cx="628.6" cy="184.5" r="1.12"/><circle cx="629.1" cy="191.7" r="1.12"/><circle cx="629.5" cy="225.1" r="1.12"/><circle cx="628.8" cy="202.4" r="1.12"/><circle cx="629.3" cy="226.1" r="1.12"/><circle cx="629.1" cy="209.1" r="1.12"/><circle cx="628.8" cy="210.8" r="1.12"/><circle cx="629.3" cy="215.1" r="1.12"/><circle cx="629.0" cy="215.4" r="1.12"/><circle cx="628.9" cy="217.3" r="1.12"/><circle cx="628.9" cy="214.8" r="1.12"/><circle cx="628.8" cy="191.6" r="1.12"/><circle cx="628.7" cy="205.8" r="1.12"/><circle cx="629.3" cy="217.7" r="1.12"/><circle cx="629.1" cy="198.2" r="1.12"/><circle cx="629.1" cy="213.0" r="1.12"/><circle cx="628.8" cy="188.5" r="1.12"/><circle cx="628.8" cy="205.7" r="1.12"/><circle cx="629.3" cy="216.2" r="1.12"/><circle cx="628.9" cy="198.8" r="1.12"/><circle cx="628.8" cy="199.4" r="1.12"/><circle cx="628.9" cy="211.1" r="1.12"/><circle cx="629.2" cy="221.5" r="1.12"/><circle cx="629.0" cy="215.2" r="1.12"/><circle cx="629.3" cy="223.0" r="1.12"/><circle cx="629.2" cy="220.7" r="1.12"/><circle cx="629.0" cy="206.7" r="1.12"/><circle cx="629.2" cy="198.8" r="1.12"/><circle cx="629.0" cy="194.9" r="1.12"/><circle cx="628.9" cy="190.3" r="1.12"/><circle cx="629.2" cy="202.4" r="1.12"/><circle cx="628.6" cy="181.8" r="1.12"/><circle cx="628.9" cy="182.9" r="1.12"/><circle cx="628.9" cy="213.1" r="1.12"/><circle cx="629.1" cy="212.6" r="1.12"/><circle cx="628.7" cy="199.1" r="1.12"/><circle cx="628.8" cy="212.3" r="1.12"/><circle cx="628.8" cy="207.8" r="1.12"/><circle cx="628.9" cy="221.9" r="1.12"/><circle cx="628.7" cy="193.2" r="1.12"/><circle cx="628.9" cy="200.2" r="1.12"/><circle cx="629.1" cy="199.1" r="1.12"/><circle cx="628.7" cy="184.0" r="1.12"/><circle cx="629.0" cy="186.3" r="1.12"/><circle cx="629.2" cy="206.1" r="1.12"/><circle cx="628.9" cy="201.1" r="1.12"/><circle cx="629.1" cy="211.7" r="1.12"/><circle cx="629.1" cy="202.5" r="1.12"/><circle cx="628.9" cy="221.5" r="1.12"/><circle cx="628.9" cy="200.8" r="1.12"/><circle cx="629.0" cy="213.2" r="1.12"/><circle cx="629.2" cy="208.6" r="1.12"/><circle cx="629.1" cy="184.9" r="1.12"/><circle cx="629.2" cy="220.1" r="1.12"/><circle cx="628.9" cy="222.1" r="1.12"/><circle cx="629.1" cy="195.6" r="1.12"/><circle cx="629.0" cy="191.0" r="1.12"/><circle cx="628.9" cy="207.8" r="1.12"/><circle cx="628.8" cy="210.1" r="1.12"/><circle cx="629.0" cy="216.6" r="1.12"/><circle cx="628.8" cy="207.6" r="1.12"/><circle cx="628.8" cy="221.6" r="1.12"/><circle cx="628.9" cy="216.3" r="1.12"/><circle cx="633.8" cy="210.6" r="1.12"/><circle cx="633.6" cy="199.8" r="1.12"/><circle cx="634.0" cy="233.3" r="1.12"/><circle cx="633.7" cy="204.0" r="1.12"/><circle cx="633.9" cy="220.6" r="1.12"/><circle cx="633.6" cy="212.1" r="1.12"/><circle cx="633.7" cy="212.8" r="1.12"/><circle cx="633.7" cy="212.4" r="1.12"/><circle cx="633.7" cy="201.0" r="1.12"/><circle cx="633.9" cy="232.2" r="1.12"/><circle cx="633.6" cy="217.2" r="1.12"/><circle cx="633.8" cy="212.6" r="1.12"/><circle cx="633.7" cy="218.2" r="1.12"/><circle cx="634.1" cy="219.3" r="1.12"/><circle cx="633.5" cy="195.8" r="1.12"/><circle cx="633.7" cy="207.4" r="1.12"/><circle cx="633.8" cy="200.5" r="1.12"/><circle cx="633.7" cy="200.4" r="1.12"/><circle cx="633.6" cy="216.6" r="1.12"/><circle cx="634.0" cy="228.4" r="1.12"/><circle cx="633.7" cy="218.7" r="1.12"/><circle cx="633.8" cy="197.5" r="1.12"/><circle cx="633.8" cy="219.1" r="1.12"/><circle cx="633.8" cy="215.3" r="1.12"/><circle cx="633.6" cy="205.9" r="1.12"/><circle cx="633.9" cy="226.7" r="1.12"/><circle cx="633.7" cy="199.6" r="1.12"/><circle cx="633.9" cy="223.5" r="1.12"/><circle cx="634.3" cy="232.1" r="1.12"/><circle cx="634.0" cy="234.2" r="1.12"/><circle cx="633.8" cy="227.2" r="1.12"/><circle cx="634.3" cy="234.5" r="1.12"/><circle cx="633.8" cy="223.1" r="1.12"/><circle cx="633.6" cy="205.3" r="1.12"/><circle cx="633.6" cy="213.3" r="1.12"/><circle cx="634.0" cy="217.5" r="1.12"/><circle cx="634.2" cy="212.4" r="1.12"/><circle cx="633.8" cy="210.5" r="1.12"/><circle cx="634.1" cy="222.6" r="1.12"/><circle cx="633.9" cy="210.9" r="1.12"/><circle cx="634.1" cy="202.4" r="1.12"/><circle cx="634.0" cy="225.8" r="1.12"/><circle cx="634.1" cy="226.3" r="1.12"/><circle cx="634.3" cy="232.2" r="1.12"/><circle cx="633.8" cy="205.6" r="1.12"/><circle cx="634.0" cy="207.4" r="1.12"/><circle cx="634.1" cy="228.4" r="1.12"/><circle cx="633.7" cy="209.6" r="1.12"/><circle cx="633.9" cy="204.7" r="1.12"/><circle cx="633.7" cy="203.9" r="1.12"/><circle cx="633.9" cy="228.6" r="1.12"/><circle cx="633.8" cy="211.4" r="1.12"/><circle cx="633.6" cy="195.5" r="1.12"/><circle cx="633.5" cy="195.0" r="1.12"/><circle cx="633.9" cy="202.0" r="1.12"/><circle cx="633.8" cy="218.0" r="1.12"/><circle cx="633.7" cy="206.4" r="1.12"/><circle cx="633.9" cy="234.2" r="1.12"/><circle cx="634.2" cy="225.9" r="1.12"/><circle cx="634.2" cy="222.5" r="1.12"/><circle cx="633.6" cy="201.1" r="1.12"/><circle cx="634.0" cy="216.9" r="1.12"/><circle cx="634.1" cy="225.9" r="1.12"/><circle cx="634.1" cy="231.5" r="1.12"/><circle cx="633.8" cy="207.9" r="1.12"/><circle cx="633.9" cy="199.0" r="1.12"/><circle cx="639.1" cy="222.8" r="1.12"/><circle cx="638.9" cy="223.1" r="1.12"/><circle cx="638.7" cy="199.2" r="1.12"/><circle cx="638.8" cy="181.5" r="1.12"/><circle cx="638.9" cy="188.5" r="1.12"/><circle cx="638.6" cy="191.6" r="1.12"/><circle cx="638.9" cy="223.8" r="1.12"/><circle cx="638.7" cy="215.9" r="1.12"/><circle cx="638.8" cy="202.4" r="1.12"/><circle cx="638.6" cy="176.9" r="1.12"/><circle cx="639.2" cy="224.0" r="1.12"/><circle cx="638.8" cy="215.2" r="1.12"/><circle cx="638.7" cy="191.3" r="1.12"/><circle cx="638.8" cy="208.5" r="1.12"/><circle cx="638.7" cy="206.5" r="1.12"/><circle cx="638.4" cy="186.8" r="1.12"/><circle cx="638.9" cy="197.3" r="1.12"/><circle cx="639.0" cy="224.6" r="1.12"/><circle cx="638.6" cy="200.2" r="1.12"/><circle cx="638.8" cy="205.2" r="1.12"/><circle cx="638.6" cy="200.7" r="1.12"/><circle cx="639.0" cy="212.8" r="1.12"/><circle cx="638.9" cy="181.8" r="1.12"/><circle cx="638.7" cy="225.6" r="1.12"/><circle cx="638.8" cy="220.2" r="1.12"/><circle cx="639.2" cy="222.3" r="1.12"/><circle cx="638.6" cy="188.4" r="1.12"/><circle cx="638.8" cy="190.9" r="1.12"/><circle cx="639.0" cy="192.7" r="1.12"/><circle cx="638.9" cy="204.5" r="1.12"/><circle cx="638.9" cy="212.5" r="1.12"/><circle cx="639.0" cy="212.6" r="1.12"/><circle cx="638.8" cy="200.0" r="1.12"/><circle cx="638.6" cy="211.5" r="1.12"/><circle cx="638.5" cy="192.1" r="1.12"/><circle cx="639.1" cy="212.2" r="1.12"/><circle cx="638.5" cy="188.0" r="1.12"/><circle cx="638.9" cy="211.4" r="1.12"/><circle cx="639.0" cy="192.4" r="1.12"/><circle cx="638.8" cy="215.2" r="1.12"/><circle cx="638.7" cy="202.0" r="1.12"/><circle cx="639.0" cy="210.3" r="1.12"/><circle cx="638.8" cy="206.3" r="1.12"/><circle cx="638.9" cy="220.7" r="1.12"/><circle cx="638.6" cy="203.6" r="1.12"/><circle cx="638.6" cy="187.7" r="1.12"/><circle cx="638.7" cy="211.2" r="1.12"/><circle cx="638.7" cy="216.3" r="1.12"/><circle cx="638.8" cy="217.3" r="1.12"/><circle cx="638.8" cy="223.3" r="1.12"/><circle cx="638.8" cy="176.1" r="1.12"/><circle cx="638.8" cy="180.9" r="1.12"/><circle cx="639.1" cy="207.9" r="1.12"/><circle cx="639.0" cy="192.5" r="1.12"/><circle cx="638.8" cy="191.8" r="1.12"/><circle cx="638.8" cy="218.7" r="1.12"/><circle cx="638.5" cy="188.7" r="1.12"/><circle cx="638.8" cy="219.2" r="1.12"/><circle cx="638.7" cy="211.1" r="1.12"/><circle cx="638.8" cy="215.2" r="1.12"/><circle cx="638.8" cy="197.9" r="1.12"/><circle cx="638.7" cy="199.2" r="1.12"/><circle cx="638.9" cy="200.0" r="1.12"/><circle cx="638.4" cy="180.6" r="1.12"/><circle cx="638.9" cy="188.4" r="1.12"/><circle cx="638.5" cy="196.6" r="1.12"/><circle cx="639.0" cy="204.4" r="1.12"/><circle cx="639.0" cy="215.5" r="1.12"/><circle cx="638.5" cy="182.4" r="1.12"/><circle cx="638.5" cy="190.2" r="1.12"/><circle cx="638.9" cy="205.9" r="1.12"/><circle cx="639.0" cy="200.2" r="1.12"/><circle cx="639.0" cy="223.3" r="1.12"/><circle cx="638.6" cy="204.2" r="1.12"/><circle cx="638.6" cy="201.2" r="1.12"/><circle cx="638.8" cy="197.8" r="1.12"/><circle cx="639.0" cy="195.2" r="1.12"/><circle cx="638.9" cy="201.5" r="1.12"/><circle cx="638.9" cy="222.4" r="1.12"/><circle cx="638.8" cy="200.2" r="1.12"/><circle cx="639.2" cy="221.9" r="1.12"/><circle cx="638.6" cy="200.0" r="1.12"/><circle cx="639.2" cy="222.3" r="1.12"/><circle cx="638.5" cy="196.8" r="1.12"/><circle cx="643.6" cy="227.5" r="1.12"/><circle cx="643.6" cy="225.5" r="1.12"/><circle cx="643.7" cy="219.0" r="1.12"/><circle cx="643.2" cy="200.9" r="1.12"/><circle cx="643.5" cy="210.9" r="1.12"/><circle cx="643.7" cy="229.0" r="1.12"/><circle cx="643.4" cy="205.4" r="1.12"/><circle cx="643.8" cy="218.2" r="1.12"/><circle cx="643.4" cy="212.3" r="1.12"/><circle cx="643.4" cy="203.8" r="1.12"/><circle cx="643.4" cy="216.8" r="1.12"/><circle cx="643.4" cy="208.8" r="1.12"/><circle cx="643.5" cy="232.1" r="1.12"/><circle cx="643.5" cy="204.8" r="1.12"/><circle cx="643.6" cy="227.0" r="1.12"/><circle cx="643.2" cy="216.6" r="1.12"/><circle cx="643.4" cy="200.1" r="1.12"/><circle cx="643.6" cy="211.1" r="1.12"/><circle cx="643.6" cy="212.8" r="1.12"/><circle cx="643.2" cy="210.3" r="1.12"/><circle cx="643.5" cy="223.6" r="1.12"/><circle cx="643.2" cy="208.9" r="1.12"/><circle cx="648.6" cy="223.9" r="1.12"/><circle cx="648.3" cy="201.2" r="1.12"/><circle cx="648.4" cy="216.1" r="1.12"/><circle cx="648.3" cy="193.6" r="1.12"/><circle cx="648.1" cy="210.2" r="1.12"/><circle cx="648.0" cy="212.9" r="1.12"/><circle cx="648.4" cy="205.9" r="1.12"/><circle cx="648.2" cy="219.2" r="1.12"/><circle cx="648.3" cy="218.9" r="1.12"/><circle cx="648.6" cy="221.2" r="1.12"/><circle cx="648.8" cy="232.1" r="1.12"/><circle cx="647.8" cy="184.9" r="1.12"/><circle cx="648.5" cy="210.8" r="1.12"/><circle cx="648.4" cy="211.0" r="1.12"/><circle cx="648.1" cy="221.0" r="1.12"/><circle cx="648.0" cy="214.5" r="1.12"/><circle cx="648.4" cy="196.9" r="1.12"/><circle cx="648.5" cy="215.2" r="1.12"/><circle cx="648.4" cy="213.5" r="1.12"/><circle cx="648.2" cy="209.6" r="1.12"/><circle cx="648.3" cy="189.0" r="1.12"/><circle cx="648.1" cy="216.1" r="1.12"/><circle cx="648.1" cy="204.9" r="1.12"/><circle cx="648.6" cy="218.3" r="1.12"/><circle cx="648.3" cy="198.1" r="1.12"/><circle cx="648.7" cy="221.0" r="1.12"/><circle cx="648.0" cy="185.0" r="1.12"/><circle cx="648.4" cy="194.0" r="1.12"/><circle cx="648.0" cy="185.6" r="1.12"/><circle cx="648.0" cy="185.1" r="1.12"/><circle cx="648.0" cy="198.4" r="1.12"/><circle cx="648.2" cy="202.7" r="1.12"/><circle cx="648.4" cy="199.2" r="1.12"/><circle cx="648.6" cy="219.4" r="1.12"/><circle cx="648.4" cy="222.7" r="1.12"/><circle cx="648.4" cy="213.8" r="1.12"/><circle cx="648.4" cy="189.2" r="1.12"/><circle cx="648.0" cy="186.0" r="1.12"/><circle cx="648.2" cy="210.3" r="1.12"/><circle cx="648.1" cy="208.5" r="1.12"/><circle cx="648.6" cy="214.7" r="1.12"/><circle cx="647.9" cy="193.5" r="1.12"/><circle cx="648.2" cy="194.6" r="1.12"/><circle cx="647.9" cy="192.8" r="1.12"/><circle cx="648.1" cy="214.6" r="1.12"/><circle cx="648.2" cy="194.9" r="1.12"/><circle cx="648.4" cy="229.5" r="1.12"/><circle cx="648.8" cy="230.7" r="1.12"/><circle cx="648.7" cy="219.2" r="1.12"/><circle cx="648.3" cy="190.1" r="1.12"/><circle cx="648.2" cy="220.7" r="1.12"/><circle cx="648.6" cy="226.6" r="1.12"/><circle cx="648.2" cy="199.8" r="1.12"/><circle cx="648.4" cy="225.2" r="1.12"/><circle cx="648.6" cy="223.3" r="1.12"/><circle cx="647.9" cy="199.0" r="1.12"/><circle cx="648.5" cy="217.0" r="1.12"/><circle cx="648.5" cy="205.0" r="1.12"/><circle cx="648.6" cy="224.6" r="1.12"/><circle cx="648.4" cy="221.4" r="1.12"/><circle cx="648.2" cy="213.2" r="1.12"/><circle cx="648.0" cy="185.8" r="1.12"/><circle cx="648.5" cy="209.5" r="1.12"/><circle cx="648.4" cy="211.2" r="1.12"/><circle cx="648.6" cy="208.5" r="1.12"/><circle cx="647.8" cy="184.6" r="1.12"/><circle cx="648.7" cy="231.6" r="1.12"/><circle cx="648.4" cy="218.9" r="1.12"/><circle cx="648.5" cy="208.7" r="1.12"/><circle cx="648.1" cy="190.8" r="1.12"/><circle cx="648.3" cy="202.0" r="1.12"/><circle cx="648.3" cy="212.0" r="1.12"/><circle cx="648.1" cy="209.2" r="1.12"/><circle cx="648.0" cy="185.2" r="1.12"/><circle cx="647.9" cy="190.4" r="1.12"/><circle cx="648.7" cy="229.0" r="1.12"/><circle cx="648.5" cy="218.2" r="1.12"/><circle cx="648.0" cy="199.0" r="1.12"/><circle cx="648.5" cy="211.3" r="1.12"/><circle cx="648.4" cy="192.5" r="1.12"/><circle cx="648.2" cy="223.3" r="1.12"/><circle cx="648.3" cy="236.6" r="1.12"/><circle cx="653.5" cy="192.9" r="1.12"/><circle cx="653.5" cy="199.2" r="1.12"/><circle cx="653.5" cy="196.2" r="1.12"/><circle cx="653.5" cy="199.4" r="1.12"/><circle cx="653.3" cy="202.9" r="1.12"/><circle cx="653.3" cy="191.5" r="1.12"/><circle cx="653.4" cy="196.2" r="1.12"/><circle cx="653.7" cy="191.5" r="1.12"/><circle cx="653.3" cy="190.8" r="1.12"/><circle cx="653.3" cy="192.3" r="1.12"/><circle cx="653.7" cy="196.0" r="1.12"/><circle cx="653.2" cy="186.7" r="1.12"/><circle cx="653.4" cy="178.8" r="1.12"/><circle cx="653.6" cy="193.0" r="1.12"/><circle cx="653.2" cy="193.0" r="1.12"/><circle cx="653.7" cy="204.3" r="1.12"/><circle cx="653.5" cy="180.7" r="1.12"/><circle cx="653.3" cy="201.5" r="1.12"/><circle cx="653.0" cy="178.9" r="1.12"/><circle cx="653.5" cy="204.7" r="1.12"/><circle cx="653.6" cy="207.6" r="1.12"/><circle cx="653.2" cy="180.2" r="1.12"/><circle cx="653.4" cy="185.4" r="1.12"/><circle cx="653.3" cy="184.8" r="1.12"/><circle cx="653.5" cy="188.0" r="1.12"/><circle cx="653.2" cy="183.1" r="1.12"/><circle cx="653.5" cy="209.4" r="1.12"/><circle cx="653.5" cy="194.3" r="1.12"/><circle cx="653.2" cy="198.8" r="1.12"/><circle cx="653.1" cy="181.1" r="1.12"/><circle cx="653.6" cy="187.4" r="1.12"/><circle cx="653.3" cy="195.8" r="1.12"/><circle cx="653.4" cy="194.8" r="1.12"/><circle cx="653.2" cy="195.8" r="1.12"/><circle cx="653.2" cy="184.2" r="1.12"/><circle cx="653.5" cy="203.0" r="1.12"/><circle cx="653.6" cy="190.5" r="1.12"/><circle cx="653.2" cy="191.5" r="1.12"/><circle cx="653.7" cy="210.5" r="1.12"/><circle cx="653.5" cy="185.7" r="1.12"/><circle cx="653.3" cy="189.2" r="1.12"/><circle cx="653.2" cy="188.9" r="1.12"/><circle cx="653.2" cy="200.3" r="1.12"/><circle cx="653.2" cy="201.3" r="1.12"/><circle cx="653.4" cy="195.5" r="1.12"/><circle cx="653.2" cy="187.5" r="1.12"/><circle cx="653.5" cy="188.7" r="1.12"/><circle cx="653.6" cy="200.9" r="1.12"/><circle cx="653.1" cy="181.6" r="1.12"/><circle cx="653.5" cy="195.0" r="1.12"/><circle cx="653.6" cy="201.1" r="1.12"/><circle cx="653.3" cy="199.6" r="1.12"/><circle cx="653.4" cy="202.7" r="1.12"/><circle cx="653.2" cy="193.9" r="1.12"/><circle cx="653.6" cy="204.6" r="1.12"/><circle cx="653.1" cy="193.3" r="1.12"/><circle cx="653.4" cy="204.4" r="1.12"/><circle cx="653.5" cy="183.2" r="1.12"/><circle cx="664.1" cy="226.7" r="1.12"/><circle cx="663.8" cy="235.2" r="1.12"/><circle cx="663.9" cy="223.6" r="1.12"/><circle cx="664.3" cy="230.5" r="1.12"/><circle cx="663.8" cy="233.7" r="1.12"/><circle cx="664.2" cy="227.4" r="1.12"/><circle cx="664.1" cy="228.4" r="1.12"/><circle cx="664.0" cy="215.7" r="1.12"/><circle cx="663.9" cy="229.9" r="1.12"/><circle cx="663.7" cy="221.0" r="1.12"/><circle cx="664.0" cy="224.9" r="1.12"/><circle cx="663.7" cy="225.5" r="1.12"/><circle cx="664.2" cy="223.1" r="1.12"/><circle cx="664.2" cy="242.8" r="1.12"/><circle cx="663.9" cy="238.3" r="1.12"/><circle cx="663.9" cy="230.9" r="1.12"/><circle cx="663.7" cy="225.7" r="1.12"/><circle cx="664.3" cy="235.6" r="1.12"/><circle cx="663.9" cy="241.4" r="1.12"/><circle cx="664.0" cy="237.5" r="1.12"/><circle cx="664.0" cy="231.7" r="1.12"/><circle cx="664.0" cy="239.1" r="1.12"/><circle cx="664.2" cy="229.2" r="1.12"/><circle cx="663.9" cy="223.9" r="1.12"/><circle cx="664.2" cy="240.8" r="1.12"/><circle cx="664.2" cy="232.9" r="1.12"/><circle cx="664.2" cy="220.4" r="1.12"/><circle cx="663.8" cy="213.4" r="1.12"/><circle cx="664.0" cy="230.5" r="1.12"/><circle cx="663.9" cy="236.7" r="1.12"/><circle cx="663.9" cy="216.7" r="1.12"/><circle cx="664.4" cy="239.0" r="1.12"/><circle cx="664.0" cy="216.9" r="1.12"/><circle cx="664.0" cy="217.2" r="1.12"/><circle cx="664.1" cy="217.3" r="1.12"/><circle cx="664.1" cy="237.0" r="1.12"/><circle cx="664.1" cy="221.4" r="1.12"/><circle cx="664.2" cy="234.8" r="1.12"/><circle cx="663.9" cy="228.3" r="1.12"/><circle cx="664.1" cy="241.5" r="1.12"/><circle cx="664.0" cy="230.8" r="1.12"/><circle cx="664.3" cy="243.0" r="1.12"/><circle cx="663.8" cy="228.4" r="1.12"/><circle cx="664.1" cy="223.3" r="1.12"/><circle cx="664.0" cy="224.5" r="1.12"/><circle cx="663.9" cy="214.1" r="1.12"/><circle cx="663.7" cy="224.9" r="1.12"/><circle cx="664.2" cy="242.4" r="1.12"/><circle cx="664.0" cy="226.9" r="1.12"/><circle cx="664.2" cy="223.6" r="1.12"/><circle cx="663.8" cy="236.3" r="1.12"/><circle cx="663.6" cy="216.2" r="1.12"/><circle cx="664.2" cy="226.2" r="1.12"/><circle cx="663.8" cy="231.8" r="1.12"/><circle cx="663.8" cy="225.5" r="1.12"/><circle cx="664.1" cy="234.5" r="1.12"/><circle cx="669.0" cy="188.1" r="1.12"/><circle cx="669.1" cy="197.9" r="1.12"/><circle cx="669.0" cy="189.9" r="1.12"/><circle cx="669.1" cy="185.4" r="1.12"/><circle cx="669.1" cy="201.1" r="1.12"/><circle cx="669.3" cy="191.8" r="1.12"/><circle cx="668.8" cy="186.5" r="1.12"/><circle cx="669.0" cy="198.0" r="1.12"/><circle cx="669.0" cy="202.4" r="1.12"/><circle cx="668.9" cy="185.1" r="1.12"/><circle cx="669.2" cy="197.1" r="1.12"/><circle cx="669.0" cy="204.2" r="1.12"/><circle cx="669.0" cy="189.8" r="1.12"/><circle cx="669.3" cy="192.6" r="1.12"/><circle cx="668.8" cy="187.2" r="1.12"/><circle cx="669.3" cy="194.6" r="1.12"/><circle cx="668.9" cy="201.0" r="1.12"/><circle cx="668.8" cy="190.8" r="1.12"/><circle cx="668.8" cy="189.7" r="1.12"/><circle cx="668.8" cy="197.7" r="1.12"/><circle cx="669.0" cy="200.1" r="1.12"/><circle cx="669.2" cy="194.5" r="1.12"/><circle cx="669.3" cy="191.8" r="1.12"/><circle cx="669.0" cy="202.9" r="1.12"/><circle cx="669.1" cy="193.2" r="1.12"/><circle cx="669.0" cy="196.8" r="1.12"/><circle cx="668.8" cy="194.2" r="1.12"/><circle cx="669.1" cy="197.5" r="1.12"/><circle cx="668.8" cy="184.5" r="1.12"/><circle cx="668.9" cy="185.4" r="1.12"/><circle cx="669.0" cy="187.2" r="1.12"/><circle cx="669.2" cy="192.1" r="1.12"/><circle cx="669.1" cy="191.5" r="1.12"/><circle cx="668.8" cy="195.1" r="1.12"/><circle cx="669.3" cy="193.0" r="1.12"/><circle cx="668.7" cy="191.7" r="1.12"/><circle cx="669.2" cy="186.3" r="1.12"/><circle cx="668.9" cy="188.7" r="1.12"/><circle cx="669.0" cy="184.8" r="1.12"/><circle cx="668.7" cy="188.6" r="1.12"/><circle cx="668.8" cy="183.4" r="1.12"/><circle cx="674.3" cy="228.2" r="1.12"/><circle cx="674.3" cy="218.9" r="1.12"/><circle cx="674.2" cy="218.4" r="1.12"/><circle cx="674.0" cy="222.1" r="1.12"/><circle cx="674.3" cy="218.1" r="1.12"/><circle cx="674.2" cy="232.7" r="1.12"/><circle cx="674.1" cy="211.5" r="1.12"/><circle cx="674.3" cy="212.2" r="1.12"/><circle cx="674.0" cy="216.1" r="1.12"/><circle cx="674.0" cy="223.3" r="1.12"/><circle cx="673.8" cy="214.9" r="1.12"/><circle cx="674.2" cy="213.8" r="1.12"/><circle cx="674.3" cy="222.7" r="1.12"/><circle cx="673.9" cy="205.9" r="1.12"/><circle cx="674.0" cy="206.1" r="1.12"/><circle cx="673.9" cy="210.9" r="1.12"/><circle cx="674.4" cy="231.7" r="1.12"/><circle cx="673.9" cy="223.5" r="1.12"/><circle cx="674.2" cy="212.2" r="1.12"/><circle cx="674.1" cy="216.4" r="1.12"/><circle cx="674.2" cy="227.2" r="1.12"/><circle cx="674.1" cy="219.8" r="1.12"/><circle cx="674.5" cy="232.5" r="1.12"/><circle cx="674.0" cy="225.6" r="1.12"/><circle cx="674.0" cy="206.4" r="1.12"/><circle cx="674.0" cy="222.7" r="1.12"/><circle cx="674.0" cy="230.6" r="1.12"/><circle cx="673.8" cy="214.7" r="1.12"/><circle cx="674.5" cy="232.2" r="1.12"/><circle cx="673.7" cy="205.5" r="1.12"/><circle cx="674.4" cy="225.3" r="1.12"/><circle cx="673.8" cy="216.4" r="1.12"/><circle cx="674.2" cy="228.5" r="1.12"/><circle cx="673.8" cy="211.8" r="1.12"/><circle cx="674.1" cy="223.3" r="1.12"/><circle cx="674.3" cy="226.5" r="1.12"/><circle cx="674.6" cy="232.4" r="1.12"/><circle cx="674.1" cy="228.9" r="1.12"/><circle cx="674.3" cy="214.3" r="1.12"/><circle cx="673.7" cy="207.1" r="1.12"/><circle cx="674.4" cy="232.7" r="1.12"/><circle cx="674.0" cy="219.7" r="1.12"/><circle cx="674.2" cy="216.7" r="1.12"/><circle cx="674.5" cy="229.7" r="1.12"/><circle cx="674.1" cy="225.6" r="1.12"/><circle cx="673.9" cy="214.5" r="1.12"/><circle cx="674.2" cy="216.9" r="1.12"/><circle cx="678.8" cy="228.0" r="1.12"/><circle cx="678.5" cy="225.1" r="1.12"/><circle cx="678.6" cy="224.2" r="1.12"/><circle cx="678.5" cy="225.3" r="1.12"/><circle cx="678.3" cy="205.1" r="1.12"/><circle cx="678.5" cy="221.0" r="1.12"/><circle cx="678.7" cy="226.8" r="1.12"/><circle cx="678.7" cy="228.2" r="1.12"/><circle cx="678.5" cy="209.4" r="1.12"/><circle cx="678.1" cy="214.6" r="1.12"/><circle cx="678.2" cy="212.6" r="1.12"/><circle cx="678.2" cy="207.5" r="1.12"/><circle cx="678.4" cy="218.4" r="1.12"/><circle cx="678.5" cy="203.6" r="1.12"/><circle cx="678.7" cy="216.5" r="1.12"/><circle cx="678.8" cy="226.8" r="1.12"/><circle cx="678.4" cy="207.5" r="1.12"/><circle cx="678.4" cy="207.3" r="1.12"/><circle cx="678.6" cy="228.2" r="1.12"/><circle cx="678.6" cy="210.3" r="1.12"/><circle cx="678.4" cy="235.3" r="1.12"/><circle cx="678.3" cy="223.8" r="1.12"/><circle cx="678.8" cy="235.1" r="1.12"/><circle cx="678.3" cy="217.2" r="1.12"/><circle cx="678.4" cy="224.4" r="1.12"/><circle cx="678.3" cy="225.0" r="1.12"/><circle cx="678.5" cy="217.5" r="1.12"/><circle cx="678.7" cy="222.6" r="1.12"/><circle cx="678.2" cy="210.8" r="1.12"/><circle cx="678.3" cy="208.9" r="1.12"/><circle cx="678.4" cy="236.1" r="1.12"/><circle cx="678.4" cy="211.1" r="1.12"/><circle cx="678.5" cy="214.0" r="1.12"/><circle cx="678.2" cy="205.9" r="1.12"/><circle cx="678.4" cy="225.0" r="1.12"/><circle cx="678.6" cy="238.4" r="1.12"/><circle cx="678.8" cy="223.2" r="1.12"/><circle cx="678.7" cy="231.8" r="1.12"/><circle cx="678.8" cy="226.8" r="1.12"/><circle cx="678.5" cy="227.8" r="1.12"/><circle cx="678.2" cy="211.6" r="1.12"/><circle cx="678.5" cy="229.5" r="1.12"/><circle cx="678.9" cy="229.4" r="1.12"/><circle cx="678.6" cy="240.4" r="1.12"/><circle cx="678.8" cy="228.0" r="1.12"/><circle cx="678.2" cy="219.7" r="1.12"/><circle cx="678.4" cy="220.5" r="1.12"/><circle cx="678.1" cy="206.8" r="1.12"/><circle cx="678.3" cy="209.3" r="1.12"/><circle cx="678.4" cy="221.7" r="1.12"/><circle cx="678.7" cy="215.9" r="1.12"/><circle cx="678.3" cy="213.4" r="1.12"/><circle cx="678.8" cy="230.7" r="1.12"/><circle cx="678.3" cy="206.9" r="1.12"/><circle cx="678.7" cy="217.9" r="1.12"/><circle cx="678.8" cy="219.4" r="1.12"/><circle cx="678.8" cy="227.0" r="1.12"/><circle cx="678.6" cy="227.1" r="1.12"/><circle cx="678.5" cy="227.8" r="1.12"/><circle cx="678.5" cy="232.2" r="1.12"/><circle cx="678.2" cy="213.2" r="1.12"/><circle cx="678.7" cy="213.1" r="1.12"/><circle cx="678.2" cy="220.0" r="1.12"/><circle cx="683.6" cy="198.7" r="1.12"/><circle cx="683.6" cy="215.3" r="1.12"/><circle cx="683.9" cy="214.2" r="1.12"/><circle cx="683.4" cy="194.9" r="1.12"/><circle cx="683.5" cy="200.6" r="1.12"/><circle cx="683.5" cy="208.7" r="1.12"/><circle cx="683.6" cy="202.6" r="1.12"/><circle cx="683.7" cy="202.4" r="1.12"/><circle cx="683.4" cy="219.6" r="1.12"/><circle cx="683.3" cy="204.2" r="1.12"/><circle cx="683.5" cy="202.5" r="1.12"/><circle cx="683.6" cy="205.7" r="1.12"/><circle cx="683.7" cy="194.7" r="1.12"/><circle cx="683.4" cy="218.4" r="1.12"/><circle cx="683.3" cy="197.7" r="1.12"/><circle cx="683.4" cy="211.5" r="1.12"/><circle cx="683.7" cy="202.3" r="1.12"/><circle cx="683.5" cy="200.3" r="1.12"/><circle cx="683.8" cy="203.3" r="1.12"/><circle cx="683.1" cy="183.2" r="1.12"/><circle cx="683.9" cy="211.7" r="1.12"/><circle cx="683.2" cy="191.3" r="1.12"/><circle cx="683.3" cy="185.1" r="1.12"/><circle cx="683.8" cy="220.3" r="1.12"/><circle cx="683.3" cy="184.0" r="1.12"/><circle cx="683.3" cy="186.5" r="1.12"/><circle cx="683.5" cy="195.4" r="1.12"/><circle cx="683.2" cy="186.0" r="1.12"/><circle cx="683.8" cy="207.3" r="1.12"/><circle cx="683.8" cy="214.8" r="1.12"/><circle cx="683.5" cy="201.0" r="1.12"/><circle cx="683.4" cy="187.5" r="1.12"/><circle cx="683.3" cy="206.9" r="1.12"/><circle cx="683.2" cy="183.1" r="1.12"/><circle cx="683.2" cy="192.9" r="1.12"/><circle cx="683.7" cy="213.4" r="1.12"/><circle cx="683.6" cy="206.2" r="1.12"/><circle cx="683.4" cy="212.5" r="1.12"/><circle cx="683.1" cy="191.3" r="1.12"/><circle cx="683.5" cy="200.2" r="1.12"/><circle cx="683.5" cy="196.5" r="1.12"/><circle cx="683.6" cy="191.9" r="1.12"/><circle cx="683.5" cy="197.0" r="1.12"/><circle cx="683.5" cy="220.9" r="1.12"/><circle cx="683.5" cy="205.2" r="1.12"/><circle cx="683.4" cy="206.3" r="1.12"/><circle cx="683.5" cy="205.9" r="1.12"/><circle cx="683.5" cy="199.8" r="1.12"/><circle cx="683.6" cy="207.8" r="1.12"/><circle cx="683.8" cy="205.8" r="1.12"/><circle cx="683.6" cy="202.2" r="1.12"/><circle cx="683.4" cy="183.7" r="1.12"/><circle cx="683.5" cy="195.7" r="1.12"/><circle cx="683.5" cy="188.9" r="1.12"/><circle cx="683.3" cy="209.0" r="1.12"/><circle cx="683.4" cy="187.5" r="1.12"/><circle cx="683.6" cy="204.9" r="1.12"/><circle cx="683.7" cy="218.2" r="1.12"/><circle cx="683.7" cy="193.6" r="1.12"/><circle cx="683.3" cy="199.0" r="1.12"/><circle cx="683.5" cy="206.8" r="1.12"/><circle cx="683.4" cy="218.6" r="1.12"/><circle cx="683.4" cy="183.9" r="1.12"/><circle cx="683.3" cy="207.9" r="1.12"/><circle cx="683.5" cy="200.2" r="1.12"/><circle cx="688.6" cy="198.9" r="1.12"/><circle cx="688.7" cy="181.7" r="1.12"/><circle cx="688.9" cy="220.6" r="1.12"/><circle cx="688.6" cy="177.5" r="1.12"/><circle cx="688.8" cy="206.1" r="1.12"/><circle cx="688.8" cy="188.3" r="1.12"/><circle cx="688.4" cy="206.9" r="1.12"/><circle cx="688.4" cy="197.8" r="1.12"/><circle cx="688.7" cy="203.7" r="1.12"/><circle cx="688.5" cy="222.8" r="1.12"/><circle cx="689.0" cy="220.8" r="1.12"/><circle cx="688.4" cy="205.8" r="1.12"/><circle cx="689.0" cy="227.2" r="1.12"/><circle cx="688.7" cy="199.9" r="1.12"/><circle cx="688.5" cy="212.0" r="1.12"/><circle cx="688.4" cy="195.9" r="1.12"/><circle cx="688.6" cy="181.4" r="1.12"/><circle cx="688.5" cy="201.4" r="1.12"/><circle cx="688.5" cy="215.4" r="1.12"/><circle cx="688.8" cy="199.6" r="1.12"/><circle cx="688.5" cy="175.3" r="1.12"/><circle cx="688.6" cy="199.4" r="1.12"/><circle cx="688.3" cy="182.8" r="1.12"/><circle cx="688.6" cy="189.8" r="1.12"/><circle cx="688.6" cy="201.0" r="1.12"/><circle cx="688.3" cy="193.9" r="1.12"/><circle cx="688.9" cy="210.0" r="1.12"/><circle cx="688.6" cy="214.5" r="1.12"/><circle cx="688.8" cy="217.3" r="1.12"/><circle cx="688.7" cy="216.3" r="1.12"/><circle cx="688.6" cy="214.6" r="1.12"/><circle cx="688.3" cy="195.4" r="1.12"/><circle cx="688.7" cy="221.2" r="1.12"/><circle cx="688.4" cy="202.9" r="1.12"/><circle cx="688.6" cy="192.5" r="1.12"/><circle cx="688.6" cy="192.6" r="1.12"/><circle cx="688.8" cy="191.5" r="1.12"/><circle cx="688.5" cy="213.8" r="1.12"/><circle cx="688.8" cy="196.5" r="1.12"/><circle cx="688.6" cy="214.9" r="1.12"/><circle cx="689.0" cy="221.9" r="1.12"/><circle cx="688.5" cy="176.4" r="1.12"/><circle cx="688.6" cy="194.2" r="1.12"/><circle cx="688.8" cy="201.8" r="1.12"/><circle cx="688.7" cy="203.3" r="1.12"/><circle cx="688.8" cy="192.9" r="1.12"/><circle cx="688.8" cy="192.8" r="1.12"/><circle cx="688.2" cy="183.4" r="1.12"/><circle cx="688.4" cy="203.7" r="1.12"/><circle cx="688.9" cy="214.8" r="1.12"/><circle cx="688.8" cy="216.5" r="1.12"/><circle cx="688.8" cy="203.0" r="1.12"/><circle cx="688.5" cy="207.5" r="1.12"/><circle cx="688.8" cy="191.4" r="1.12"/><circle cx="688.5" cy="221.9" r="1.12"/><circle cx="688.2" cy="176.0" r="1.12"/><circle cx="688.7" cy="225.3" r="1.12"/><circle cx="688.8" cy="220.0" r="1.12"/><circle cx="688.9" cy="197.0" r="1.12"/><circle cx="688.5" cy="188.0" r="1.12"/><circle cx="688.7" cy="190.6" r="1.12"/><circle cx="688.5" cy="210.5" r="1.12"/><circle cx="688.5" cy="215.2" r="1.12"/><circle cx="688.7" cy="187.0" r="1.12"/><circle cx="688.5" cy="196.8" r="1.12"/><circle cx="688.5" cy="213.5" r="1.12"/><circle cx="688.4" cy="180.0" r="1.12"/><circle cx="688.6" cy="211.4" r="1.12"/><circle cx="688.7" cy="224.1" r="1.12"/><circle cx="688.4" cy="190.2" r="1.12"/><circle cx="688.8" cy="209.8" r="1.12"/><circle cx="688.6" cy="188.8" r="1.12"/><circle cx="688.6" cy="212.5" r="1.12"/><circle cx="688.3" cy="179.1" r="1.12"/><circle cx="688.4" cy="182.8" r="1.12"/><circle cx="688.4" cy="204.6" r="1.12"/><circle cx="688.5" cy="180.6" r="1.12"/><circle cx="688.6" cy="186.5" r="1.12"/><circle cx="688.7" cy="196.4" r="1.12"/><circle cx="688.8" cy="195.0" r="1.12"/><circle cx="688.3" cy="193.3" r="1.12"/><circle cx="688.6" cy="215.6" r="1.12"/><circle cx="688.4" cy="193.2" r="1.12"/><circle cx="688.6" cy="197.5" r="1.12"/><circle cx="689.0" cy="225.7" r="1.12"/><circle cx="688.5" cy="225.0" r="1.12"/><circle cx="688.7" cy="179.8" r="1.12"/><circle cx="688.6" cy="206.8" r="1.12"/><circle cx="688.5" cy="199.6" r="1.12"/><circle cx="688.5" cy="179.4" r="1.12"/><circle cx="688.6" cy="212.9" r="1.12"/><circle cx="688.7" cy="213.6" r="1.12"/><circle cx="693.6" cy="190.8" r="1.12"/><circle cx="693.5" cy="194.9" r="1.12"/><circle cx="693.4" cy="204.2" r="1.12"/><circle cx="693.4" cy="176.9" r="1.12"/><circle cx="693.7" cy="178.2" r="1.12"/><circle cx="693.5" cy="190.2" r="1.12"/><circle cx="693.7" cy="203.2" r="1.12"/><circle cx="693.8" cy="184.9" r="1.12"/><circle cx="693.8" cy="209.5" r="1.12"/><circle cx="693.7" cy="186.0" r="1.12"/><circle cx="693.2" cy="180.4" r="1.12"/><circle cx="693.6" cy="187.9" r="1.12"/><circle cx="693.8" cy="215.9" r="1.12"/><circle cx="693.4" cy="174.0" r="1.12"/><circle cx="693.7" cy="209.7" r="1.12"/><circle cx="693.2" cy="182.7" r="1.12"/><circle cx="693.5" cy="200.9" r="1.12"/><circle cx="693.8" cy="203.0" r="1.12"/><circle cx="693.7" cy="208.4" r="1.12"/><circle cx="693.9" cy="211.8" r="1.12"/><circle cx="694.0" cy="205.7" r="1.12"/><circle cx="694.0" cy="214.2" r="1.12"/><circle cx="693.9" cy="202.5" r="1.12"/><circle cx="693.8" cy="192.9" r="1.12"/><circle cx="693.9" cy="201.5" r="1.12"/><circle cx="693.3" cy="184.1" r="1.12"/><circle cx="693.6" cy="210.4" r="1.12"/><circle cx="693.6" cy="179.1" r="1.12"/><circle cx="693.6" cy="191.0" r="1.12"/><circle cx="693.8" cy="214.1" r="1.12"/><circle cx="693.7" cy="193.2" r="1.12"/><circle cx="693.7" cy="178.2" r="1.12"/><circle cx="693.6" cy="206.1" r="1.12"/><circle cx="693.8" cy="187.1" r="1.12"/><circle cx="693.9" cy="208.0" r="1.12"/><circle cx="693.4" cy="194.0" r="1.12"/><circle cx="693.7" cy="187.8" r="1.12"/><circle cx="693.8" cy="192.7" r="1.12"/><circle cx="693.4" cy="190.2" r="1.12"/><circle cx="693.5" cy="194.1" r="1.12"/><circle cx="693.4" cy="201.8" r="1.12"/><circle cx="694.0" cy="205.7" r="1.12"/><circle cx="693.3" cy="182.2" r="1.12"/><circle cx="693.5" cy="209.9" r="1.12"/><circle cx="693.3" cy="185.1" r="1.12"/><circle cx="693.5" cy="186.5" r="1.12"/><circle cx="693.3" cy="183.4" r="1.12"/><circle cx="693.4" cy="195.7" r="1.12"/><circle cx="693.8" cy="196.9" r="1.12"/><circle cx="693.7" cy="199.8" r="1.12"/><circle cx="693.8" cy="192.4" r="1.12"/><circle cx="693.3" cy="176.1" r="1.12"/><circle cx="693.6" cy="193.5" r="1.12"/><circle cx="693.6" cy="205.3" r="1.12"/><circle cx="693.6" cy="199.9" r="1.12"/><circle cx="693.4" cy="196.2" r="1.12"/><circle cx="693.8" cy="198.1" r="1.12"/><circle cx="694.1" cy="215.7" r="1.12"/><circle cx="693.2" cy="175.0" r="1.12"/><circle cx="693.2" cy="174.9" r="1.12"/><circle cx="693.5" cy="192.2" r="1.12"/><circle cx="693.3" cy="177.0" r="1.12"/><circle cx="694.0" cy="205.1" r="1.12"/><circle cx="694.0" cy="211.2" r="1.12"/><circle cx="693.4" cy="197.6" r="1.12"/><circle cx="693.6" cy="184.5" r="1.12"/><circle cx="693.6" cy="187.3" r="1.12"/><circle cx="693.7" cy="209.3" r="1.12"/><circle cx="693.6" cy="201.9" r="1.12"/><circle cx="693.5" cy="204.4" r="1.12"/><circle cx="693.2" cy="186.3" r="1.12"/><circle cx="693.8" cy="200.5" r="1.12"/></g>
<path d="M534.1 199.8L534.4 218.1M544.6 183.9L544.9 209.0M549.5 194.8L549.8 219.9M554.1 200.6L554.4 220.8M559.1 190.2L559.4 207.5M564.0 180.1L564.2 208.7M568.9 198.2L569.1 214.6M574.1 183.3L574.4 211.3M579.1 190.8L579.4 218.3M594.5 200.4L594.8 215.7M599.5 202.0L599.8 219.5M603.6 204.2L603.9 214.1M609.1 190.6L609.4 213.7M614.1 184.9L614.4 210.7M619.0 171.0L619.2 206.5M624.0 190.7L624.2 216.2M628.9 191.7L629.1 220.0M633.8 203.7L634.0 226.7M638.6 187.1L638.9 216.2M648.1 195.0L648.4 223.1M653.2 184.4L653.5 204.4M663.9 219.4L664.1 238.7M668.9 186.2L669.1 199.9M674.0 211.4L674.2 227.3M678.4 211.2L678.6 232.9M683.4 191.2L683.6 213.7M688.5 184.8L688.8 217.0M693.5 182.8L693.8 207.7" stroke="#062a10" stroke-width="0.9" opacity="0.4" fill="none"/>
<g fill="#5570dc" stroke="#1f2f8a" stroke-width="0.28" opacity="0.9"><circle cx="460.5" cy="248.5" r="1.08"/><circle cx="459.8" cy="238.2" r="1.08"/><circle cx="460.4" cy="244.5" r="1.08"/><circle cx="460.5" cy="258.1" r="1.08"/><circle cx="460.4" cy="232.5" r="1.08"/><circle cx="460.0" cy="235.5" r="1.08"/><circle cx="460.5" cy="245.8" r="1.08"/><circle cx="460.1" cy="233.2" r="1.08"/><circle cx="460.3" cy="239.7" r="1.08"/><circle cx="460.0" cy="227.8" r="1.08"/><circle cx="460.1" cy="227.7" r="1.08"/><circle cx="460.5" cy="255.8" r="1.08"/><circle cx="459.9" cy="250.8" r="1.08"/><circle cx="460.1" cy="244.5" r="1.08"/><circle cx="460.2" cy="262.1" r="1.08"/><circle cx="460.1" cy="232.8" r="1.08"/><circle cx="460.3" cy="241.6" r="1.08"/><circle cx="460.4" cy="253.3" r="1.08"/><circle cx="460.0" cy="258.9" r="1.08"/><circle cx="460.2" cy="260.2" r="1.08"/><circle cx="460.0" cy="248.3" r="1.08"/><circle cx="459.8" cy="232.0" r="1.08"/><circle cx="459.8" cy="230.1" r="1.08"/><circle cx="460.3" cy="239.0" r="1.08"/><circle cx="459.9" cy="238.2" r="1.08"/><circle cx="459.7" cy="238.5" r="1.08"/><circle cx="460.0" cy="255.2" r="1.08"/><circle cx="459.9" cy="245.3" r="1.08"/><circle cx="460.3" cy="258.5" r="1.08"/><circle cx="460.3" cy="259.1" r="1.08"/><circle cx="460.1" cy="253.5" r="1.08"/><circle cx="460.4" cy="259.0" r="1.08"/><circle cx="459.8" cy="242.6" r="1.08"/><circle cx="460.0" cy="243.8" r="1.08"/><circle cx="460.5" cy="246.3" r="1.08"/><circle cx="460.0" cy="244.6" r="1.08"/><circle cx="460.0" cy="244.4" r="1.08"/><circle cx="460.4" cy="264.0" r="1.08"/><circle cx="459.9" cy="236.4" r="1.08"/><circle cx="460.1" cy="241.2" r="1.08"/><circle cx="459.8" cy="246.4" r="1.08"/><circle cx="459.8" cy="239.8" r="1.08"/><circle cx="459.8" cy="227.9" r="1.08"/><circle cx="460.4" cy="249.5" r="1.08"/><circle cx="460.6" cy="252.3" r="1.08"/><circle cx="460.5" cy="242.0" r="1.08"/><circle cx="460.2" cy="232.8" r="1.08"/><circle cx="460.3" cy="228.7" r="1.08"/><circle cx="460.5" cy="251.2" r="1.08"/><circle cx="460.1" cy="232.4" r="1.08"/><circle cx="460.6" cy="259.1" r="1.08"/><circle cx="460.4" cy="249.5" r="1.08"/><circle cx="459.9" cy="240.9" r="1.08"/><circle cx="460.3" cy="250.0" r="1.08"/><circle cx="460.4" cy="251.2" r="1.08"/><circle cx="460.5" cy="251.8" r="1.08"/><circle cx="460.3" cy="246.4" r="1.08"/><circle cx="459.8" cy="229.5" r="1.08"/><circle cx="459.9" cy="242.5" r="1.08"/><circle cx="460.3" cy="255.5" r="1.08"/><circle cx="460.3" cy="241.7" r="1.08"/><circle cx="460.4" cy="256.5" r="1.08"/><circle cx="460.3" cy="233.4" r="1.08"/><circle cx="459.7" cy="238.7" r="1.08"/><circle cx="460.3" cy="241.1" r="1.08"/><circle cx="460.2" cy="214.5" r="1.08"/><circle cx="460.2" cy="220.4" r="1.08"/><circle cx="465.8" cy="246.4" r="1.08"/><circle cx="465.6" cy="249.9" r="1.08"/><circle cx="465.6" cy="262.1" r="1.08"/><circle cx="466.2" cy="240.8" r="1.08"/><circle cx="466.1" cy="235.5" r="1.08"/><circle cx="465.4" cy="230.6" r="1.08"/><circle cx="465.5" cy="243.5" r="1.08"/><circle cx="466.2" cy="255.6" r="1.08"/><circle cx="465.9" cy="254.8" r="1.08"/><circle cx="465.7" cy="232.6" r="1.08"/><circle cx="465.6" cy="235.2" r="1.08"/><circle cx="466.2" cy="254.6" r="1.08"/><circle cx="465.8" cy="226.9" r="1.08"/><circle cx="465.8" cy="248.1" r="1.08"/><circle cx="465.9" cy="263.0" r="1.08"/><circle cx="465.4" cy="231.8" r="1.08"/><circle cx="465.8" cy="258.3" r="1.08"/><circle cx="465.5" cy="232.9" r="1.08"/><circle cx="466.1" cy="237.3" r="1.08"/><circle cx="466.3" cy="255.3" r="1.08"/><circle cx="466.2" cy="260.6" r="1.08"/><circle cx="465.6" cy="224.0" r="1.08"/><circle cx="465.7" cy="252.9" r="1.08"/><circle cx="465.3" cy="224.0" r="1.08"/><circle cx="465.6" cy="241.4" r="1.08"/><circle cx="465.7" cy="252.3" r="1.08"/><circle cx="465.9" cy="248.9" r="1.08"/><circle cx="465.5" cy="233.4" r="1.08"/><circle cx="465.7" cy="259.1" r="1.08"/><circle cx="465.9" cy="259.2" r="1.08"/><circle cx="465.5" cy="226.7" r="1.08"/><circle cx="465.7" cy="229.2" r="1.08"/><circle cx="465.9" cy="258.4" r="1.08"/><circle cx="465.7" cy="239.0" r="1.08"/><circle cx="466.1" cy="234.6" r="1.08"/><circle cx="465.8" cy="227.2" r="1.08"/><circle cx="465.6" cy="245.2" r="1.08"/><circle cx="466.1" cy="238.4" r="1.08"/><circle cx="465.6" cy="256.8" r="1.08"/><circle cx="465.9" cy="223.3" r="1.08"/><circle cx="465.4" cy="241.4" r="1.08"/><circle cx="466.0" cy="238.1" r="1.08"/><circle cx="465.7" cy="257.1" r="1.08"/><circle cx="465.9" cy="234.9" r="1.08"/><circle cx="466.1" cy="260.6" r="1.08"/><circle cx="465.9" cy="253.4" r="1.08"/><circle cx="465.4" cy="223.6" r="1.08"/><circle cx="465.8" cy="259.7" r="1.08"/><circle cx="465.9" cy="237.7" r="1.08"/><circle cx="465.8" cy="235.0" r="1.08"/><circle cx="465.4" cy="242.3" r="1.08"/><circle cx="466.1" cy="234.4" r="1.08"/><circle cx="465.8" cy="248.4" r="1.08"/><circle cx="466.0" cy="246.5" r="1.08"/><circle cx="465.9" cy="238.5" r="1.08"/><circle cx="466.2" cy="244.3" r="1.08"/><circle cx="465.6" cy="233.6" r="1.08"/><circle cx="466.1" cy="252.3" r="1.08"/><circle cx="465.7" cy="252.2" r="1.08"/><circle cx="466.0" cy="243.3" r="1.08"/><circle cx="465.7" cy="234.1" r="1.08"/><circle cx="465.9" cy="234.4" r="1.08"/><circle cx="465.6" cy="249.5" r="1.08"/><circle cx="465.5" cy="243.0" r="1.08"/><circle cx="466.1" cy="238.1" r="1.08"/><circle cx="466.2" cy="252.0" r="1.08"/><circle cx="466.1" cy="247.9" r="1.08"/><circle cx="465.5" cy="223.3" r="1.08"/><circle cx="465.5" cy="237.3" r="1.08"/><circle cx="465.8" cy="215.4" r="1.08"/><circle cx="470.8" cy="211.6" r="1.08"/><circle cx="470.2" cy="208.7" r="1.08"/><circle cx="470.8" cy="221.3" r="1.08"/><circle cx="470.5" cy="226.5" r="1.08"/><circle cx="471.0" cy="236.7" r="1.08"/><circle cx="470.7" cy="203.6" r="1.08"/><circle cx="470.2" cy="223.6" r="1.08"/><circle cx="471.1" cy="247.0" r="1.08"/><circle cx="470.8" cy="237.0" r="1.08"/><circle cx="470.4" cy="216.2" r="1.08"/><circle cx="470.9" cy="229.8" r="1.08"/><circle cx="470.3" cy="236.2" r="1.08"/><circle cx="470.9" cy="214.6" r="1.08"/><circle cx="470.6" cy="253.5" r="1.08"/><circle cx="470.9" cy="225.2" r="1.08"/><circle cx="470.7" cy="211.9" r="1.08"/><circle cx="470.8" cy="246.4" r="1.08"/><circle cx="470.4" cy="219.7" r="1.08"/><circle cx="470.8" cy="228.4" r="1.08"/><circle cx="470.5" cy="209.6" r="1.08"/><circle cx="470.8" cy="219.6" r="1.08"/><circle cx="470.3" cy="230.9" r="1.08"/><circle cx="470.6" cy="228.9" r="1.08"/><circle cx="470.6" cy="214.6" r="1.08"/><circle cx="470.9" cy="238.4" r="1.08"/><circle cx="470.5" cy="242.6" r="1.08"/><circle cx="470.8" cy="232.6" r="1.08"/><circle cx="470.2" cy="214.0" r="1.08"/><circle cx="470.6" cy="249.7" r="1.08"/><circle cx="470.6" cy="223.4" r="1.08"/><circle cx="470.6" cy="214.5" r="1.08"/><circle cx="470.9" cy="241.6" r="1.08"/><circle cx="470.4" cy="247.4" r="1.08"/><circle cx="470.9" cy="215.0" r="1.08"/><circle cx="470.5" cy="233.5" r="1.08"/><circle cx="470.6" cy="248.8" r="1.08"/><circle cx="470.4" cy="244.0" r="1.08"/><circle cx="470.4" cy="234.2" r="1.08"/><circle cx="470.3" cy="217.5" r="1.08"/><circle cx="470.4" cy="234.4" r="1.08"/><circle cx="470.5" cy="202.6" r="1.08"/><circle cx="470.2" cy="212.0" r="1.08"/><circle cx="470.4" cy="244.9" r="1.08"/><circle cx="470.5" cy="207.5" r="1.08"/><circle cx="470.7" cy="223.7" r="1.08"/><circle cx="470.9" cy="221.4" r="1.08"/><circle cx="470.4" cy="218.9" r="1.08"/><circle cx="471.0" cy="224.5" r="1.08"/><circle cx="470.4" cy="231.5" r="1.08"/><circle cx="470.3" cy="202.3" r="1.08"/><circle cx="471.0" cy="246.3" r="1.08"/><circle cx="470.5" cy="214.8" r="1.08"/><circle cx="470.3" cy="236.6" r="1.08"/><circle cx="470.7" cy="235.6" r="1.08"/><circle cx="470.9" cy="220.0" r="1.08"/><circle cx="470.7" cy="207.9" r="1.08"/><circle cx="471.0" cy="231.5" r="1.08"/><circle cx="470.4" cy="254.7" r="1.08"/><circle cx="471.1" cy="252.0" r="1.08"/><circle cx="470.4" cy="235.5" r="1.08"/><circle cx="470.9" cy="234.1" r="1.08"/><circle cx="470.5" cy="230.3" r="1.08"/><circle cx="470.3" cy="230.0" r="1.08"/><circle cx="470.8" cy="215.3" r="1.08"/><circle cx="470.6" cy="204.2" r="1.08"/><circle cx="470.1" cy="204.1" r="1.08"/><circle cx="470.7" cy="234.4" r="1.08"/><circle cx="470.6" cy="218.5" r="1.08"/><circle cx="470.5" cy="225.0" r="1.08"/><circle cx="470.6" cy="230.5" r="1.08"/><circle cx="470.7" cy="214.7" r="1.08"/><circle cx="470.3" cy="227.2" r="1.08"/><circle cx="470.1" cy="208.9" r="1.08"/><circle cx="470.2" cy="225.9" r="1.08"/><circle cx="470.9" cy="239.0" r="1.08"/><circle cx="470.5" cy="229.4" r="1.08"/><circle cx="471.2" cy="250.8" r="1.08"/><circle cx="470.4" cy="241.5" r="1.08"/><circle cx="471.2" cy="255.0" r="1.08"/><circle cx="471.1" cy="248.0" r="1.08"/><circle cx="470.6" cy="205.5" r="1.08"/><circle cx="470.3" cy="210.6" r="1.08"/><circle cx="471.0" cy="237.6" r="1.08"/><circle cx="470.4" cy="221.3" r="1.08"/><circle cx="470.8" cy="207.3" r="1.08"/><circle cx="470.4" cy="238.7" r="1.08"/><circle cx="470.8" cy="237.5" r="1.08"/><circle cx="470.6" cy="221.4" r="1.08"/><circle cx="470.3" cy="233.3" r="1.08"/><circle cx="470.7" cy="255.6" r="1.08"/><circle cx="475.6" cy="253.2" r="1.08"/><circle cx="475.3" cy="234.0" r="1.08"/><circle cx="474.9" cy="227.4" r="1.08"/><circle cx="475.9" cy="247.3" r="1.08"/><circle cx="475.3" cy="242.1" r="1.08"/><circle cx="475.3" cy="223.7" r="1.08"/><circle cx="475.7" cy="236.6" r="1.08"/><circle cx="475.0" cy="235.1" r="1.08"/><circle cx="474.9" cy="221.1" r="1.08"/><circle cx="475.5" cy="237.9" r="1.08"/><circle cx="475.3" cy="228.4" r="1.08"/><circle cx="475.0" cy="225.9" r="1.08"/><circle cx="475.7" cy="235.2" r="1.08"/><circle cx="475.3" cy="249.2" r="1.08"/><circle cx="475.3" cy="221.4" r="1.08"/><circle cx="475.3" cy="233.6" r="1.08"/><circle cx="475.4" cy="254.7" r="1.08"/><circle cx="475.4" cy="246.8" r="1.08"/><circle cx="475.0" cy="239.3" r="1.08"/><circle cx="475.1" cy="240.8" r="1.08"/><circle cx="475.3" cy="228.2" r="1.08"/><circle cx="475.2" cy="244.1" r="1.08"/><circle cx="475.0" cy="232.1" r="1.08"/><circle cx="475.7" cy="253.0" r="1.08"/><circle cx="475.4" cy="221.2" r="1.08"/><circle cx="475.3" cy="237.7" r="1.08"/><circle cx="474.9" cy="229.2" r="1.08"/><circle cx="475.5" cy="233.1" r="1.08"/><circle cx="475.4" cy="251.4" r="1.08"/><circle cx="475.7" cy="240.9" r="1.08"/><circle cx="475.8" cy="242.0" r="1.08"/><circle cx="474.9" cy="228.8" r="1.08"/><circle cx="475.8" cy="239.1" r="1.08"/><circle cx="475.8" cy="247.9" r="1.08"/><circle cx="475.6" cy="243.3" r="1.08"/><circle cx="475.9" cy="245.9" r="1.08"/><circle cx="475.5" cy="237.9" r="1.08"/><circle cx="475.7" cy="251.9" r="1.08"/><circle cx="475.2" cy="241.5" r="1.08"/><circle cx="475.2" cy="248.6" r="1.08"/><circle cx="475.3" cy="238.2" r="1.08"/><circle cx="475.4" cy="224.3" r="1.08"/><circle cx="475.6" cy="243.8" r="1.08"/><circle cx="475.1" cy="223.4" r="1.08"/><circle cx="475.8" cy="250.4" r="1.08"/><circle cx="475.6" cy="223.4" r="1.08"/><circle cx="475.1" cy="241.7" r="1.08"/><circle cx="475.5" cy="222.2" r="1.08"/><circle cx="475.6" cy="243.8" r="1.08"/><circle cx="475.5" cy="227.9" r="1.08"/><circle cx="475.2" cy="228.4" r="1.08"/><circle cx="475.4" cy="226.5" r="1.08"/><circle cx="475.7" cy="234.2" r="1.08"/><circle cx="475.5" cy="239.1" r="1.08"/><circle cx="475.2" cy="222.1" r="1.08"/><circle cx="475.7" cy="248.8" r="1.08"/><circle cx="475.2" cy="246.2" r="1.08"/><circle cx="475.1" cy="235.8" r="1.08"/><circle cx="475.1" cy="248.4" r="1.08"/><circle cx="475.6" cy="238.7" r="1.08"/><circle cx="475.2" cy="227.6" r="1.08"/><circle cx="475.4" cy="260.5" r="1.08"/><circle cx="479.6" cy="261.3" r="1.08"/><circle cx="479.5" cy="240.6" r="1.08"/><circle cx="479.1" cy="237.4" r="1.08"/><circle cx="479.9" cy="258.2" r="1.08"/><circle cx="479.6" cy="253.3" r="1.08"/><circle cx="479.2" cy="246.1" r="1.08"/><circle cx="479.4" cy="250.8" r="1.08"/><circle cx="479.7" cy="261.7" r="1.08"/><circle cx="479.7" cy="254.6" r="1.08"/><circle cx="479.8" cy="257.2" r="1.08"/><circle cx="479.3" cy="244.7" r="1.08"/><circle cx="479.9" cy="259.9" r="1.08"/><circle cx="479.7" cy="239.2" r="1.08"/><circle cx="479.9" cy="250.0" r="1.08"/><circle cx="479.7" cy="242.3" r="1.08"/><circle cx="479.4" cy="249.3" r="1.08"/><circle cx="479.3" cy="244.0" r="1.08"/><circle cx="479.8" cy="254.0" r="1.08"/><circle cx="479.1" cy="237.1" r="1.08"/><circle cx="479.8" cy="245.8" r="1.08"/><circle cx="479.5" cy="256.5" r="1.08"/><circle cx="479.5" cy="247.0" r="1.08"/><circle cx="479.6" cy="235.0" r="1.08"/><circle cx="479.8" cy="255.3" r="1.08"/><circle cx="479.5" cy="250.4" r="1.08"/><circle cx="479.6" cy="256.7" r="1.08"/><circle cx="479.6" cy="251.6" r="1.08"/><circle cx="479.8" cy="241.0" r="1.08"/><circle cx="480.0" cy="257.8" r="1.08"/><circle cx="479.6" cy="254.9" r="1.08"/><circle cx="479.2" cy="243.6" r="1.08"/><circle cx="479.7" cy="246.9" r="1.08"/><circle cx="479.6" cy="250.2" r="1.08"/><circle cx="479.8" cy="253.1" r="1.08"/><circle cx="479.9" cy="258.3" r="1.08"/><circle cx="479.9" cy="245.9" r="1.08"/><circle cx="479.1" cy="235.2" r="1.08"/><circle cx="479.7" cy="258.0" r="1.08"/><circle cx="479.5" cy="237.1" r="1.08"/><circle cx="479.8" cy="256.0" r="1.08"/><circle cx="479.7" cy="259.4" r="1.08"/><circle cx="479.6" cy="259.1" r="1.08"/><circle cx="479.6" cy="260.8" r="1.08"/><circle cx="479.1" cy="241.0" r="1.08"/><circle cx="479.7" cy="246.9" r="1.08"/><circle cx="479.7" cy="242.9" r="1.08"/><circle cx="479.6" cy="262.9" r="1.08"/><circle cx="479.5" cy="258.6" r="1.08"/><circle cx="479.7" cy="238.0" r="1.08"/><circle cx="479.7" cy="253.5" r="1.08"/><circle cx="479.4" cy="240.9" r="1.08"/><circle cx="479.9" cy="253.6" r="1.08"/><circle cx="484.3" cy="244.7" r="1.08"/><circle cx="485.0" cy="260.7" r="1.08"/><circle cx="484.3" cy="232.8" r="1.08"/><circle cx="484.7" cy="230.2" r="1.08"/><circle cx="484.5" cy="234.0" r="1.08"/><circle cx="484.7" cy="240.7" r="1.08"/><circle cx="484.8" cy="237.5" r="1.08"/><circle cx="484.7" cy="222.4" r="1.08"/><circle cx="484.8" cy="259.4" r="1.08"/><circle cx="484.7" cy="243.4" r="1.08"/><circle cx="484.3" cy="229.3" r="1.08"/><circle cx="484.4" cy="257.9" r="1.08"/><circle cx="484.5" cy="264.2" r="1.08"/><circle cx="485.0" cy="263.5" r="1.08"/><circle cx="484.9" cy="252.6" r="1.08"/><circle cx="484.7" cy="257.4" r="1.08"/><circle cx="485.0" cy="256.2" r="1.08"/><circle cx="484.3" cy="239.1" r="1.08"/><circle cx="484.3" cy="243.3" r="1.08"/><circle cx="484.6" cy="243.8" r="1.08"/><circle cx="484.7" cy="261.6" r="1.08"/><circle cx="484.9" cy="247.3" r="1.08"/><circle cx="484.9" cy="238.1" r="1.08"/><circle cx="484.5" cy="223.3" r="1.08"/><circle cx="484.6" cy="221.0" r="1.08"/><circle cx="485.2" cy="265.5" r="1.08"/><circle cx="484.9" cy="244.8" r="1.08"/><circle cx="484.5" cy="221.3" r="1.08"/><circle cx="484.4" cy="236.3" r="1.08"/><circle cx="484.8" cy="243.0" r="1.08"/><circle cx="484.4" cy="230.0" r="1.08"/><circle cx="484.5" cy="246.9" r="1.08"/><circle cx="484.7" cy="260.4" r="1.08"/><circle cx="484.9" cy="233.0" r="1.08"/><circle cx="484.5" cy="251.9" r="1.08"/><circle cx="484.7" cy="241.9" r="1.08"/><circle cx="485.0" cy="256.7" r="1.08"/><circle cx="484.2" cy="240.4" r="1.08"/><circle cx="484.6" cy="229.0" r="1.08"/><circle cx="485.0" cy="252.0" r="1.08"/><circle cx="484.7" cy="249.8" r="1.08"/><circle cx="484.8" cy="253.9" r="1.08"/><circle cx="484.5" cy="230.1" r="1.08"/><circle cx="484.2" cy="242.9" r="1.08"/><circle cx="484.8" cy="257.8" r="1.08"/><circle cx="484.8" cy="237.8" r="1.08"/><circle cx="484.5" cy="240.9" r="1.08"/><circle cx="484.6" cy="235.3" r="1.08"/><circle cx="484.3" cy="256.6" r="1.08"/><circle cx="484.5" cy="225.5" r="1.08"/><circle cx="484.4" cy="264.9" r="1.08"/><circle cx="484.9" cy="238.7" r="1.08"/><circle cx="484.7" cy="268.0" r="1.08"/><circle cx="484.2" cy="224.6" r="1.08"/><circle cx="484.6" cy="223.5" r="1.08"/><circle cx="484.1" cy="225.6" r="1.08"/><circle cx="484.8" cy="241.5" r="1.08"/><circle cx="484.2" cy="231.5" r="1.08"/><circle cx="484.6" cy="222.1" r="1.08"/><circle cx="484.4" cy="261.8" r="1.08"/><circle cx="484.6" cy="250.6" r="1.08"/><circle cx="485.0" cy="266.4" r="1.08"/><circle cx="484.8" cy="235.9" r="1.08"/><circle cx="484.6" cy="223.5" r="1.08"/><circle cx="484.5" cy="227.8" r="1.08"/><circle cx="484.5" cy="222.5" r="1.08"/><circle cx="484.3" cy="241.2" r="1.08"/><circle cx="484.8" cy="258.9" r="1.08"/><circle cx="484.6" cy="250.6" r="1.08"/><circle cx="484.9" cy="258.4" r="1.08"/><circle cx="484.9" cy="235.1" r="1.08"/><circle cx="484.5" cy="254.3" r="1.08"/><circle cx="484.9" cy="249.5" r="1.08"/><circle cx="484.6" cy="249.2" r="1.08"/><circle cx="484.9" cy="263.4" r="1.08"/><circle cx="484.9" cy="249.3" r="1.08"/><circle cx="484.4" cy="233.1" r="1.08"/><circle cx="484.9" cy="248.5" r="1.08"/><circle cx="484.7" cy="221.7" r="1.08"/><circle cx="484.6" cy="262.4" r="1.08"/><circle cx="484.9" cy="261.6" r="1.08"/><circle cx="484.4" cy="264.6" r="1.08"/><circle cx="489.8" cy="247.9" r="1.08"/><circle cx="489.9" cy="255.6" r="1.08"/><circle cx="490.0" cy="250.0" r="1.08"/><circle cx="490.2" cy="244.9" r="1.08"/><circle cx="490.3" cy="251.0" r="1.08"/><circle cx="490.2" cy="235.2" r="1.08"/><circle cx="490.1" cy="261.0" r="1.08"/><circle cx="489.7" cy="241.4" r="1.08"/><circle cx="490.1" cy="253.7" r="1.08"/><circle cx="489.7" cy="241.9" r="1.08"/><circle cx="489.7" cy="227.8" r="1.08"/><circle cx="490.1" cy="230.2" r="1.08"/><circle cx="489.7" cy="232.2" r="1.08"/><circle cx="490.3" cy="236.9" r="1.08"/><circle cx="490.2" cy="260.2" r="1.08"/><circle cx="489.8" cy="236.3" r="1.08"/><circle cx="490.4" cy="263.4" r="1.08"/><circle cx="489.8" cy="245.8" r="1.08"/><circle cx="489.9" cy="230.6" r="1.08"/><circle cx="490.5" cy="260.4" r="1.08"/><circle cx="490.0" cy="255.8" r="1.08"/><circle cx="489.7" cy="230.7" r="1.08"/><circle cx="490.4" cy="248.3" r="1.08"/><circle cx="490.0" cy="252.5" r="1.08"/><circle cx="490.3" cy="232.3" r="1.08"/><circle cx="489.8" cy="235.4" r="1.08"/><circle cx="490.4" cy="261.7" r="1.08"/><circle cx="490.0" cy="227.9" r="1.08"/><circle cx="489.7" cy="251.5" r="1.08"/><circle cx="490.2" cy="231.7" r="1.08"/><circle cx="490.3" cy="251.1" r="1.08"/><circle cx="489.6" cy="230.2" r="1.08"/><circle cx="489.6" cy="230.9" r="1.08"/><circle cx="489.6" cy="244.1" r="1.08"/><circle cx="490.3" cy="240.9" r="1.08"/><circle cx="490.2" cy="234.7" r="1.08"/><circle cx="489.7" cy="252.4" r="1.08"/><circle cx="490.3" cy="262.7" r="1.08"/><circle cx="490.2" cy="243.9" r="1.08"/><circle cx="489.7" cy="244.9" r="1.08"/><circle cx="490.0" cy="244.5" r="1.08"/><circle cx="489.7" cy="231.7" r="1.08"/><circle cx="490.2" cy="239.5" r="1.08"/><circle cx="489.8" cy="242.3" r="1.08"/><circle cx="489.8" cy="263.2" r="1.08"/><circle cx="489.9" cy="261.4" r="1.08"/><circle cx="489.7" cy="240.5" r="1.08"/><circle cx="490.3" cy="240.4" r="1.08"/><circle cx="490.4" cy="250.0" r="1.08"/><circle cx="489.7" cy="228.3" r="1.08"/><circle cx="490.0" cy="261.3" r="1.08"/><circle cx="490.0" cy="245.2" r="1.08"/><circle cx="490.2" cy="233.3" r="1.08"/><circle cx="489.6" cy="234.6" r="1.08"/><circle cx="490.0" cy="233.1" r="1.08"/><circle cx="489.9" cy="231.6" r="1.08"/><circle cx="490.0" cy="239.9" r="1.08"/><circle cx="490.1" cy="254.0" r="1.08"/><circle cx="489.9" cy="244.5" r="1.08"/><circle cx="490.0" cy="256.3" r="1.08"/><circle cx="490.1" cy="259.3" r="1.08"/><circle cx="489.8" cy="226.6" r="1.08"/><circle cx="490.3" cy="246.9" r="1.08"/><circle cx="490.0" cy="240.6" r="1.08"/><circle cx="489.8" cy="226.2" r="1.08"/><circle cx="490.3" cy="250.3" r="1.08"/><circle cx="490.0" cy="212.8" r="1.08"/><circle cx="490.0" cy="220.4" r="1.08"/><circle cx="490.0" cy="269.7" r="1.08"/><circle cx="514.5" cy="273.9" r="1.08"/><circle cx="513.8" cy="267.8" r="1.08"/><circle cx="514.3" cy="274.0" r="1.08"/><circle cx="514.2" cy="269.5" r="1.08"/><circle cx="513.8" cy="263.3" r="1.08"/><circle cx="514.3" cy="265.7" r="1.08"/><circle cx="513.9" cy="267.6" r="1.08"/><circle cx="514.1" cy="263.2" r="1.08"/><circle cx="513.9" cy="269.6" r="1.08"/><circle cx="514.0" cy="274.0" r="1.08"/><circle cx="514.0" cy="264.6" r="1.08"/><circle cx="513.8" cy="267.3" r="1.08"/><circle cx="514.0" cy="270.5" r="1.08"/><circle cx="514.0" cy="270.2" r="1.08"/><circle cx="514.2" cy="273.4" r="1.08"/><circle cx="514.2" cy="268.3" r="1.08"/><circle cx="514.4" cy="268.0" r="1.08"/><circle cx="514.1" cy="267.2" r="1.08"/><circle cx="514.7" cy="275.4" r="1.08"/><circle cx="514.0" cy="273.3" r="1.08"/><circle cx="514.6" cy="269.5" r="1.08"/><circle cx="514.2" cy="266.1" r="1.08"/><circle cx="513.8" cy="267.6" r="1.08"/></g>
<path d="M460.1 236.6L460.3 257.8M465.7 232.2L465.9 254.8M470.5 215.5L470.8 245.2M475.2 230.0L475.5 249.8M479.5 241.7L479.8 258.6M484.5 231.9L484.8 259.0M489.9 235.9L490.1 257.6M514.1 266.1L514.4 273.1" stroke="#0a1040" stroke-width="0.8" opacity="0.4" fill="none"/>
<path d="M566.3 347V360" stroke="#a8efb8" stroke-width="0.7"/><circle cx="566.3" cy="354" r="1.2" fill="#8ee3a2"/>
<path d="M489 398V411" stroke="#b3bdf2" stroke-width="0.7"/><circle cx="489" cy="404.5" r="1.1" fill="#a3b0ee"/>
<g fill="#5ee07c" stroke="#17682e" stroke-width="0.40" opacity="0.68"><circle cx="544.8" cy="304.9" r="1.15"/><circle cx="543.0" cy="309.6" r="1.15"/><circle cx="544.5" cy="314.9" r="1.15"/><circle cx="544.4" cy="310.1" r="1.15"/><circle cx="544.7" cy="316.4" r="1.15"/><circle cx="543.8" cy="304.9" r="1.15"/><circle cx="544.8" cy="310.4" r="1.15"/><circle cx="545.4" cy="306.1" r="1.15"/><circle cx="544.4" cy="316.9" r="1.15"/><circle cx="544.5" cy="304.7" r="1.15"/><circle cx="544.1" cy="294.8" r="1.15"/><circle cx="544.7" cy="297.4" r="1.15"/><circle cx="545.4" cy="315.5" r="1.15"/><circle cx="543.9" cy="310.0" r="1.15"/><circle cx="544.1" cy="305.2" r="1.15"/><circle cx="545.2" cy="305.3" r="1.15"/><circle cx="545.2" cy="304.4" r="1.15"/><circle cx="543.5" cy="316.5" r="1.15"/><circle cx="544.1" cy="300.7" r="1.15"/><circle cx="544.5" cy="311.5" r="1.15"/><circle cx="543.5" cy="313.9" r="1.15"/><circle cx="544.0" cy="316.3" r="1.15"/><circle cx="544.8" cy="310.1" r="1.15"/><circle cx="545.0" cy="314.8" r="1.15"/><circle cx="543.2" cy="316.4" r="1.15"/><circle cx="543.6" cy="319.3" r="1.15"/><circle cx="549.4" cy="310.4" r="1.15"/><circle cx="549.0" cy="329.6" r="1.15"/><circle cx="548.2" cy="325.3" r="1.15"/><circle cx="548.4" cy="312.5" r="1.15"/><circle cx="548.8" cy="321.7" r="1.15"/><circle cx="549.2" cy="313.3" r="1.15"/><circle cx="548.2" cy="324.1" r="1.15"/><circle cx="548.3" cy="316.6" r="1.15"/><circle cx="548.3" cy="316.2" r="1.15"/><circle cx="550.1" cy="313.0" r="1.15"/><circle cx="550.2" cy="312.4" r="1.15"/><circle cx="549.2" cy="313.8" r="1.15"/><circle cx="548.6" cy="324.0" r="1.15"/><circle cx="550.2" cy="308.9" r="1.15"/><circle cx="549.0" cy="316.5" r="1.15"/><circle cx="549.8" cy="317.9" r="1.15"/><circle cx="548.3" cy="309.6" r="1.15"/><circle cx="548.3" cy="315.6" r="1.15"/><circle cx="549.2" cy="305.7" r="1.15"/><circle cx="549.2" cy="317.8" r="1.15"/><circle cx="549.3" cy="317.9" r="1.15"/><circle cx="549.1" cy="328.3" r="1.15"/><circle cx="548.2" cy="320.2" r="1.15"/><circle cx="549.1" cy="321.9" r="1.15"/><circle cx="549.4" cy="323.0" r="1.15"/><circle cx="548.9" cy="313.5" r="1.15"/><circle cx="555.7" cy="320.2" r="1.15"/><circle cx="554.3" cy="314.5" r="1.15"/><circle cx="553.6" cy="304.7" r="1.15"/><circle cx="554.3" cy="311.0" r="1.15"/><circle cx="553.7" cy="318.6" r="1.15"/><circle cx="555.2" cy="311.3" r="1.15"/><circle cx="554.8" cy="313.7" r="1.15"/><circle cx="554.0" cy="312.0" r="1.15"/><circle cx="555.4" cy="307.4" r="1.15"/><circle cx="554.4" cy="312.2" r="1.15"/><circle cx="554.2" cy="311.8" r="1.15"/><circle cx="554.4" cy="315.9" r="1.15"/><circle cx="554.5" cy="304.9" r="1.15"/><circle cx="555.2" cy="307.7" r="1.15"/><circle cx="553.5" cy="309.6" r="1.15"/><circle cx="554.1" cy="318.9" r="1.15"/><circle cx="554.1" cy="306.0" r="1.15"/><circle cx="553.8" cy="323.2" r="1.15"/><circle cx="554.6" cy="320.8" r="1.15"/><circle cx="555.5" cy="320.3" r="1.15"/><circle cx="553.8" cy="313.2" r="1.15"/><circle cx="554.5" cy="317.8" r="1.15"/><circle cx="554.3" cy="305.4" r="1.15"/><circle cx="556.2" cy="310.0" r="1.15"/><circle cx="556.5" cy="311.6" r="1.15"/><circle cx="553.8" cy="308.7" r="1.15"/><circle cx="559.7" cy="310.8" r="1.15"/><circle cx="561.0" cy="302.6" r="1.15"/><circle cx="559.8" cy="304.1" r="1.15"/><circle cx="560.3" cy="309.2" r="1.15"/><circle cx="560.6" cy="322.2" r="1.15"/><circle cx="559.8" cy="304.5" r="1.15"/><circle cx="560.2" cy="319.7" r="1.15"/><circle cx="559.6" cy="320.1" r="1.15"/><circle cx="560.8" cy="317.2" r="1.15"/><circle cx="560.3" cy="316.7" r="1.15"/><circle cx="561.1" cy="308.0" r="1.15"/><circle cx="559.9" cy="314.6" r="1.15"/><circle cx="560.6" cy="308.5" r="1.15"/><circle cx="558.1" cy="306.3" r="1.15"/><circle cx="559.3" cy="310.4" r="1.15"/><circle cx="560.1" cy="322.5" r="1.15"/><circle cx="559.3" cy="319.1" r="1.15"/><circle cx="560.3" cy="322.2" r="1.15"/><circle cx="560.7" cy="316.4" r="1.15"/><circle cx="558.5" cy="312.6" r="1.15"/><circle cx="559.2" cy="302.0" r="1.15"/><circle cx="559.8" cy="321.9" r="1.15"/><circle cx="560.6" cy="320.7" r="1.15"/><circle cx="560.0" cy="315.7" r="1.15"/><circle cx="561.0" cy="311.7" r="1.15"/><circle cx="560.6" cy="311.4" r="1.15"/><circle cx="564.1" cy="320.1" r="1.15"/><circle cx="565.0" cy="318.8" r="1.15"/><circle cx="565.1" cy="305.0" r="1.15"/><circle cx="564.3" cy="312.2" r="1.15"/><circle cx="565.1" cy="328.9" r="1.15"/><circle cx="564.3" cy="313.2" r="1.15"/><circle cx="563.4" cy="305.8" r="1.15"/><circle cx="564.5" cy="321.7" r="1.15"/><circle cx="564.8" cy="323.7" r="1.15"/><circle cx="563.8" cy="308.4" r="1.15"/><circle cx="565.8" cy="321.0" r="1.15"/><circle cx="564.1" cy="314.5" r="1.15"/><circle cx="564.2" cy="311.9" r="1.15"/><circle cx="565.0" cy="316.5" r="1.15"/><circle cx="565.5" cy="327.7" r="1.15"/><circle cx="566.1" cy="316.3" r="1.15"/><circle cx="564.6" cy="318.9" r="1.15"/><circle cx="566.0" cy="319.7" r="1.15"/><circle cx="565.5" cy="317.1" r="1.15"/><circle cx="564.9" cy="321.8" r="1.15"/><circle cx="565.7" cy="317.2" r="1.15"/><circle cx="563.6" cy="323.5" r="1.15"/><circle cx="565.3" cy="318.7" r="1.15"/><circle cx="564.4" cy="312.0" r="1.15"/><circle cx="565.1" cy="312.8" r="1.15"/><circle cx="564.7" cy="323.0" r="1.15"/><circle cx="569.6" cy="308.3" r="1.15"/><circle cx="571.2" cy="305.1" r="1.15"/><circle cx="570.0" cy="302.9" r="1.15"/><circle cx="571.4" cy="305.8" r="1.15"/><circle cx="570.7" cy="302.5" r="1.15"/><circle cx="570.0" cy="302.5" r="1.15"/><circle cx="569.9" cy="304.3" r="1.15"/><circle cx="571.2" cy="309.5" r="1.15"/><circle cx="571.4" cy="304.9" r="1.15"/><circle cx="570.3" cy="307.5" r="1.15"/><circle cx="570.1" cy="307.1" r="1.15"/><circle cx="569.9" cy="311.2" r="1.15"/><circle cx="570.8" cy="311.6" r="1.15"/><circle cx="569.4" cy="308.0" r="1.15"/><circle cx="570.2" cy="307.4" r="1.15"/><circle cx="569.7" cy="303.2" r="1.15"/><circle cx="570.4" cy="300.6" r="1.15"/><circle cx="570.4" cy="312.0" r="1.15"/><circle cx="569.3" cy="303.8" r="1.15"/><circle cx="570.7" cy="308.6" r="1.15"/><circle cx="569.0" cy="300.7" r="1.15"/><circle cx="569.4" cy="300.8" r="1.15"/><circle cx="571.0" cy="301.0" r="1.15"/><circle cx="569.5" cy="305.3" r="1.15"/><circle cx="569.1" cy="301.3" r="1.15"/><circle cx="571.2" cy="314.8" r="1.15"/><circle cx="573.7" cy="310.1" r="1.15"/><circle cx="574.6" cy="305.8" r="1.15"/><circle cx="573.8" cy="303.0" r="1.15"/><circle cx="575.3" cy="304.1" r="1.15"/><circle cx="574.9" cy="305.9" r="1.15"/><circle cx="575.4" cy="300.0" r="1.15"/><circle cx="573.6" cy="303.2" r="1.15"/><circle cx="574.1" cy="307.8" r="1.15"/><circle cx="574.5" cy="311.5" r="1.15"/><circle cx="574.3" cy="303.7" r="1.15"/><circle cx="575.6" cy="317.1" r="1.15"/><circle cx="573.8" cy="307.2" r="1.15"/><circle cx="575.0" cy="307.2" r="1.15"/><circle cx="574.6" cy="301.2" r="1.15"/><circle cx="574.5" cy="303.0" r="1.15"/><circle cx="574.7" cy="308.5" r="1.15"/><circle cx="574.7" cy="313.9" r="1.15"/><circle cx="574.2" cy="310.4" r="1.15"/><circle cx="574.6" cy="318.1" r="1.15"/><circle cx="573.9" cy="298.5" r="1.15"/><circle cx="575.0" cy="314.4" r="1.15"/><circle cx="574.9" cy="307.5" r="1.15"/><circle cx="576.2" cy="305.8" r="1.15"/><circle cx="574.6" cy="309.0" r="1.15"/><circle cx="575.2" cy="307.0" r="1.15"/><circle cx="573.7" cy="301.7" r="1.15"/><circle cx="661.9" cy="321.2" r="1.15"/><circle cx="661.9" cy="317.4" r="1.15"/><circle cx="660.9" cy="327.5" r="1.15"/><circle cx="661.6" cy="323.1" r="1.15"/><circle cx="661.8" cy="304.5" r="1.15"/><circle cx="662.3" cy="314.7" r="1.15"/><circle cx="662.4" cy="313.0" r="1.15"/><circle cx="662.8" cy="319.6" r="1.15"/><circle cx="662.0" cy="320.9" r="1.15"/><circle cx="662.3" cy="313.3" r="1.15"/><circle cx="661.6" cy="313.6" r="1.15"/><circle cx="662.1" cy="331.4" r="1.15"/><circle cx="662.3" cy="311.7" r="1.15"/><circle cx="661.9" cy="325.5" r="1.15"/><circle cx="662.7" cy="328.3" r="1.15"/><circle cx="662.9" cy="332.1" r="1.15"/><circle cx="660.6" cy="317.0" r="1.15"/><circle cx="661.9" cy="315.4" r="1.15"/><circle cx="663.0" cy="314.4" r="1.15"/><circle cx="663.3" cy="317.4" r="1.15"/><circle cx="661.7" cy="325.4" r="1.15"/><circle cx="662.1" cy="316.1" r="1.15"/><circle cx="662.5" cy="316.5" r="1.15"/><circle cx="661.9" cy="328.4" r="1.15"/><circle cx="661.5" cy="326.2" r="1.15"/><circle cx="661.6" cy="316.8" r="1.15"/><circle cx="663.5" cy="321.0" r="1.15"/><circle cx="661.4" cy="324.2" r="1.15"/><circle cx="668.4" cy="322.8" r="1.15"/><circle cx="667.5" cy="310.4" r="1.15"/><circle cx="667.0" cy="308.5" r="1.15"/><circle cx="667.3" cy="316.4" r="1.15"/><circle cx="666.9" cy="325.0" r="1.15"/><circle cx="667.6" cy="321.2" r="1.15"/><circle cx="667.3" cy="329.2" r="1.15"/><circle cx="667.5" cy="323.1" r="1.15"/><circle cx="667.7" cy="325.8" r="1.15"/><circle cx="666.4" cy="308.6" r="1.15"/><circle cx="667.7" cy="323.2" r="1.15"/><circle cx="667.6" cy="314.1" r="1.15"/><circle cx="666.5" cy="312.7" r="1.15"/><circle cx="667.4" cy="313.4" r="1.15"/><circle cx="665.8" cy="324.7" r="1.15"/><circle cx="666.6" cy="325.4" r="1.15"/><circle cx="667.6" cy="307.9" r="1.15"/><circle cx="668.4" cy="322.0" r="1.15"/><circle cx="668.0" cy="316.0" r="1.15"/><circle cx="666.1" cy="317.2" r="1.15"/><circle cx="668.2" cy="330.1" r="1.15"/><circle cx="666.9" cy="328.1" r="1.15"/><circle cx="667.1" cy="309.6" r="1.15"/><circle cx="667.0" cy="323.7" r="1.15"/><circle cx="668.4" cy="328.3" r="1.15"/><circle cx="667.3" cy="326.8" r="1.15"/><circle cx="668.4" cy="326.3" r="1.15"/><circle cx="666.9" cy="315.7" r="1.15"/><circle cx="672.8" cy="321.8" r="1.15"/><circle cx="673.1" cy="324.7" r="1.15"/><circle cx="672.8" cy="331.5" r="1.15"/><circle cx="674.1" cy="328.9" r="1.15"/><circle cx="671.8" cy="317.3" r="1.15"/><circle cx="671.8" cy="316.9" r="1.15"/><circle cx="672.0" cy="334.5" r="1.15"/><circle cx="672.0" cy="335.6" r="1.15"/><circle cx="671.6" cy="324.8" r="1.15"/><circle cx="672.3" cy="314.8" r="1.15"/><circle cx="672.2" cy="324.0" r="1.15"/><circle cx="673.2" cy="314.1" r="1.15"/><circle cx="672.6" cy="333.3" r="1.15"/><circle cx="673.0" cy="320.5" r="1.15"/><circle cx="671.0" cy="332.2" r="1.15"/><circle cx="672.4" cy="327.4" r="1.15"/><circle cx="672.2" cy="315.6" r="1.15"/><circle cx="672.1" cy="311.9" r="1.15"/><circle cx="671.6" cy="338.8" r="1.15"/><circle cx="672.9" cy="315.1" r="1.15"/><circle cx="672.3" cy="321.9" r="1.15"/><circle cx="671.2" cy="316.8" r="1.15"/><circle cx="672.7" cy="336.6" r="1.15"/><circle cx="673.0" cy="338.7" r="1.15"/><circle cx="671.6" cy="330.6" r="1.15"/><circle cx="672.6" cy="313.2" r="1.15"/><circle cx="672.4" cy="320.5" r="1.15"/><circle cx="671.3" cy="316.0" r="1.15"/><circle cx="676.4" cy="333.3" r="1.15"/><circle cx="677.0" cy="318.3" r="1.15"/><circle cx="677.3" cy="336.0" r="1.15"/><circle cx="679.0" cy="340.2" r="1.15"/><circle cx="678.4" cy="340.6" r="1.15"/><circle cx="676.6" cy="326.3" r="1.15"/><circle cx="676.1" cy="336.0" r="1.15"/><circle cx="678.2" cy="328.1" r="1.15"/><circle cx="677.4" cy="318.4" r="1.15"/><circle cx="677.7" cy="330.8" r="1.15"/><circle cx="676.4" cy="335.8" r="1.15"/><circle cx="677.2" cy="322.8" r="1.15"/><circle cx="677.7" cy="318.1" r="1.15"/><circle cx="677.1" cy="324.1" r="1.15"/><circle cx="678.4" cy="337.8" r="1.15"/><circle cx="675.8" cy="323.3" r="1.15"/><circle cx="677.3" cy="335.3" r="1.15"/><circle cx="678.1" cy="337.1" r="1.15"/><circle cx="677.0" cy="338.4" r="1.15"/><circle cx="676.6" cy="324.2" r="1.15"/><circle cx="676.4" cy="333.5" r="1.15"/><circle cx="677.9" cy="313.1" r="1.15"/><circle cx="677.9" cy="339.8" r="1.15"/><circle cx="678.7" cy="319.9" r="1.15"/><circle cx="677.3" cy="325.5" r="1.15"/><circle cx="677.3" cy="321.6" r="1.15"/><circle cx="677.4" cy="334.9" r="1.15"/><circle cx="678.2" cy="333.3" r="1.15"/><circle cx="682.2" cy="315.7" r="1.15"/><circle cx="682.7" cy="322.6" r="1.15"/><circle cx="682.1" cy="310.4" r="1.15"/><circle cx="683.4" cy="316.3" r="1.15"/><circle cx="683.3" cy="315.9" r="1.15"/><circle cx="684.0" cy="325.4" r="1.15"/><circle cx="682.0" cy="319.2" r="1.15"/><circle cx="682.5" cy="325.0" r="1.15"/><circle cx="683.1" cy="310.5" r="1.15"/><circle cx="684.1" cy="322.7" r="1.15"/><circle cx="682.3" cy="315.1" r="1.15"/><circle cx="681.8" cy="303.0" r="1.15"/><circle cx="683.4" cy="321.6" r="1.15"/><circle cx="682.2" cy="301.0" r="1.15"/><circle cx="682.5" cy="315.2" r="1.15"/><circle cx="682.1" cy="314.2" r="1.15"/><circle cx="683.3" cy="324.4" r="1.15"/><circle cx="682.3" cy="323.7" r="1.15"/><circle cx="681.9" cy="322.1" r="1.15"/><circle cx="682.7" cy="313.4" r="1.15"/><circle cx="683.6" cy="314.6" r="1.15"/><circle cx="681.8" cy="326.8" r="1.15"/><circle cx="682.4" cy="316.5" r="1.15"/><circle cx="682.6" cy="302.6" r="1.15"/><circle cx="682.1" cy="314.2" r="1.15"/><circle cx="683.2" cy="312.4" r="1.15"/><circle cx="684.4" cy="320.5" r="1.15"/><circle cx="683.6" cy="313.4" r="1.15"/><circle cx="686.5" cy="310.4" r="1.15"/><circle cx="688.2" cy="315.4" r="1.15"/><circle cx="687.6" cy="307.9" r="1.15"/><circle cx="688.7" cy="320.8" r="1.15"/><circle cx="687.2" cy="303.5" r="1.15"/><circle cx="689.1" cy="311.0" r="1.15"/><circle cx="687.4" cy="302.8" r="1.15"/><circle cx="687.2" cy="311.7" r="1.15"/><circle cx="687.4" cy="304.3" r="1.15"/><circle cx="687.9" cy="311.0" r="1.15"/><circle cx="687.1" cy="323.6" r="1.15"/><circle cx="685.6" cy="312.8" r="1.15"/><circle cx="687.3" cy="322.3" r="1.15"/><circle cx="688.9" cy="314.6" r="1.15"/><circle cx="686.9" cy="323.4" r="1.15"/><circle cx="689.4" cy="309.9" r="1.15"/><circle cx="687.6" cy="323.8" r="1.15"/><circle cx="686.8" cy="316.4" r="1.15"/><circle cx="687.4" cy="321.4" r="1.15"/><circle cx="687.3" cy="319.8" r="1.15"/><circle cx="689.3" cy="309.4" r="1.15"/><circle cx="688.0" cy="321.6" r="1.15"/><circle cx="689.6" cy="310.9" r="1.15"/><circle cx="687.6" cy="312.1" r="1.15"/><circle cx="689.1" cy="302.9" r="1.15"/><circle cx="687.2" cy="312.8" r="1.15"/><circle cx="687.6" cy="296.6" r="1.15"/><circle cx="688.4" cy="310.2" r="1.15"/><circle cx="693.2" cy="321.3" r="1.15"/><circle cx="693.6" cy="319.8" r="1.15"/><circle cx="693.8" cy="310.6" r="1.15"/><circle cx="693.5" cy="321.3" r="1.15"/><circle cx="692.5" cy="307.7" r="1.15"/><circle cx="693.6" cy="315.4" r="1.15"/><circle cx="694.0" cy="323.4" r="1.15"/><circle cx="693.8" cy="307.0" r="1.15"/><circle cx="693.7" cy="300.9" r="1.15"/><circle cx="692.9" cy="324.2" r="1.15"/><circle cx="692.3" cy="297.6" r="1.15"/><circle cx="692.7" cy="314.4" r="1.15"/><circle cx="692.8" cy="319.5" r="1.15"/><circle cx="693.3" cy="311.3" r="1.15"/><circle cx="694.0" cy="316.0" r="1.15"/><circle cx="692.5" cy="309.7" r="1.15"/><circle cx="692.4" cy="301.2" r="1.15"/><circle cx="693.4" cy="307.9" r="1.15"/><circle cx="693.9" cy="316.7" r="1.15"/><circle cx="694.3" cy="317.2" r="1.15"/><circle cx="693.4" cy="323.1" r="1.15"/><circle cx="692.0" cy="317.1" r="1.15"/><circle cx="693.2" cy="316.7" r="1.15"/><circle cx="692.8" cy="311.5" r="1.15"/><circle cx="694.3" cy="317.0" r="1.15"/><circle cx="694.7" cy="321.1" r="1.15"/><circle cx="693.0" cy="303.1" r="1.15"/><circle cx="693.2" cy="304.9" r="1.15"/><circle cx="663.3" cy="343.1" r="1.15"/><circle cx="663.7" cy="352.3" r="1.15"/></g>
<g fill="#4a62cf" stroke="#1a2878" stroke-width="0.40" opacity="0.72"><circle cx="470.4" cy="366.0" r="1.05"/><circle cx="471.7" cy="367.0" r="1.05"/><circle cx="471.5" cy="369.1" r="1.05"/><circle cx="472.0" cy="377.6" r="1.05"/><circle cx="471.5" cy="377.2" r="1.05"/><circle cx="471.0" cy="353.0" r="1.05"/><circle cx="472.2" cy="365.6" r="1.05"/><circle cx="472.1" cy="371.4" r="1.05"/><circle cx="471.3" cy="378.0" r="1.05"/><circle cx="471.4" cy="376.4" r="1.05"/><circle cx="472.5" cy="372.5" r="1.05"/><circle cx="470.4" cy="376.0" r="1.05"/><circle cx="471.2" cy="375.1" r="1.05"/><circle cx="470.8" cy="373.0" r="1.05"/><circle cx="470.5" cy="379.6" r="1.05"/><circle cx="471.0" cy="363.9" r="1.05"/><circle cx="471.7" cy="366.9" r="1.05"/><circle cx="472.1" cy="374.8" r="1.05"/><circle cx="470.6" cy="371.9" r="1.05"/><circle cx="471.5" cy="353.0" r="1.05"/><circle cx="471.8" cy="379.7" r="1.05"/><circle cx="472.3" cy="359.9" r="1.05"/><circle cx="471.9" cy="339.9" r="1.05"/><circle cx="470.3" cy="349.5" r="1.05"/><circle cx="469.9" cy="354.4" r="1.05"/><circle cx="472.1" cy="371.7" r="1.05"/><circle cx="476.9" cy="350.4" r="1.05"/><circle cx="477.3" cy="350.9" r="1.05"/><circle cx="477.3" cy="366.4" r="1.05"/><circle cx="478.0" cy="364.4" r="1.05"/><circle cx="477.2" cy="372.7" r="1.05"/><circle cx="476.0" cy="359.4" r="1.05"/><circle cx="476.9" cy="359.0" r="1.05"/><circle cx="476.0" cy="356.7" r="1.05"/><circle cx="477.7" cy="350.6" r="1.05"/><circle cx="477.2" cy="374.2" r="1.05"/><circle cx="477.1" cy="370.4" r="1.05"/><circle cx="476.3" cy="377.0" r="1.05"/><circle cx="477.5" cy="360.7" r="1.05"/><circle cx="476.9" cy="353.1" r="1.05"/><circle cx="476.1" cy="358.8" r="1.05"/><circle cx="475.7" cy="355.2" r="1.05"/><circle cx="475.5" cy="368.0" r="1.05"/><circle cx="476.9" cy="366.4" r="1.05"/><circle cx="476.8" cy="369.9" r="1.05"/><circle cx="476.7" cy="357.5" r="1.05"/><circle cx="476.1" cy="360.9" r="1.05"/><circle cx="477.2" cy="374.2" r="1.05"/><circle cx="477.1" cy="357.7" r="1.05"/><circle cx="477.3" cy="375.1" r="1.05"/><circle cx="478.1" cy="360.0" r="1.05"/><circle cx="476.1" cy="377.8" r="1.05"/><circle cx="482.0" cy="360.3" r="1.05"/><circle cx="482.8" cy="364.9" r="1.05"/><circle cx="482.2" cy="375.3" r="1.05"/><circle cx="482.3" cy="360.9" r="1.05"/><circle cx="482.4" cy="361.2" r="1.05"/><circle cx="480.6" cy="378.3" r="1.05"/><circle cx="481.6" cy="374.8" r="1.05"/><circle cx="483.3" cy="359.8" r="1.05"/><circle cx="483.0" cy="363.6" r="1.05"/><circle cx="481.4" cy="361.0" r="1.05"/><circle cx="481.4" cy="362.2" r="1.05"/><circle cx="481.1" cy="370.3" r="1.05"/><circle cx="481.2" cy="379.9" r="1.05"/><circle cx="481.2" cy="360.2" r="1.05"/><circle cx="481.0" cy="378.2" r="1.05"/><circle cx="481.9" cy="377.1" r="1.05"/><circle cx="481.5" cy="365.4" r="1.05"/><circle cx="481.9" cy="371.4" r="1.05"/><circle cx="482.2" cy="376.6" r="1.05"/><circle cx="482.8" cy="372.8" r="1.05"/><circle cx="481.4" cy="371.1" r="1.05"/><circle cx="480.6" cy="377.8" r="1.05"/><circle cx="482.0" cy="361.6" r="1.05"/><circle cx="482.6" cy="370.7" r="1.05"/><circle cx="481.9" cy="383.0" r="1.05"/><circle cx="481.3" cy="381.2" r="1.05"/><circle cx="488.0" cy="371.7" r="1.05"/><circle cx="487.2" cy="376.6" r="1.05"/><circle cx="487.6" cy="359.1" r="1.05"/><circle cx="486.7" cy="367.4" r="1.05"/><circle cx="488.4" cy="379.2" r="1.05"/><circle cx="486.8" cy="364.9" r="1.05"/><circle cx="487.1" cy="360.5" r="1.05"/><circle cx="487.8" cy="358.7" r="1.05"/><circle cx="487.4" cy="366.0" r="1.05"/><circle cx="488.5" cy="355.9" r="1.05"/><circle cx="487.8" cy="375.2" r="1.05"/><circle cx="487.0" cy="373.5" r="1.05"/><circle cx="486.9" cy="380.5" r="1.05"/><circle cx="486.6" cy="362.7" r="1.05"/><circle cx="488.0" cy="380.9" r="1.05"/><circle cx="488.1" cy="380.6" r="1.05"/><circle cx="487.4" cy="376.9" r="1.05"/><circle cx="486.9" cy="356.3" r="1.05"/><circle cx="487.5" cy="357.4" r="1.05"/><circle cx="487.8" cy="376.2" r="1.05"/><circle cx="487.6" cy="380.6" r="1.05"/><circle cx="487.7" cy="376.3" r="1.05"/><circle cx="486.1" cy="375.9" r="1.05"/><circle cx="487.0" cy="356.4" r="1.05"/><circle cx="486.2" cy="374.2" r="1.05"/><circle cx="487.3" cy="362.6" r="1.05"/><circle cx="492.3" cy="384.1" r="1.05"/><circle cx="492.0" cy="359.9" r="1.05"/><circle cx="492.5" cy="368.1" r="1.05"/><circle cx="491.3" cy="366.5" r="1.05"/><circle cx="492.4" cy="378.4" r="1.05"/><circle cx="492.3" cy="386.6" r="1.05"/><circle cx="491.5" cy="375.2" r="1.05"/><circle cx="491.1" cy="375.1" r="1.05"/><circle cx="493.3" cy="373.9" r="1.05"/><circle cx="492.6" cy="370.2" r="1.05"/><circle cx="492.0" cy="367.2" r="1.05"/><circle cx="493.5" cy="372.9" r="1.05"/><circle cx="491.2" cy="362.6" r="1.05"/><circle cx="492.3" cy="370.7" r="1.05"/><circle cx="491.6" cy="387.1" r="1.05"/><circle cx="491.8" cy="364.2" r="1.05"/><circle cx="493.2" cy="372.1" r="1.05"/><circle cx="491.7" cy="376.4" r="1.05"/><circle cx="493.4" cy="362.8" r="1.05"/><circle cx="492.4" cy="366.3" r="1.05"/><circle cx="492.3" cy="380.2" r="1.05"/><circle cx="491.4" cy="374.3" r="1.05"/><circle cx="492.7" cy="378.6" r="1.05"/><circle cx="492.3" cy="359.1" r="1.05"/><circle cx="493.1" cy="375.6" r="1.05"/><circle cx="492.8" cy="384.6" r="1.05"/><circle cx="497.6" cy="379.0" r="1.05"/><circle cx="497.1" cy="387.0" r="1.05"/><circle cx="497.8" cy="374.0" r="1.05"/><circle cx="497.9" cy="382.4" r="1.05"/><circle cx="498.2" cy="380.0" r="1.05"/><circle cx="497.3" cy="370.5" r="1.05"/><circle cx="498.4" cy="370.8" r="1.05"/><circle cx="498.4" cy="375.5" r="1.05"/><circle cx="497.8" cy="379.3" r="1.05"/><circle cx="497.5" cy="377.3" r="1.05"/><circle cx="495.5" cy="378.5" r="1.05"/><circle cx="499.5" cy="373.5" r="1.05"/><circle cx="498.7" cy="379.7" r="1.05"/><circle cx="497.2" cy="379.5" r="1.05"/><circle cx="497.2" cy="386.9" r="1.05"/><circle cx="496.5" cy="377.8" r="1.05"/><circle cx="497.2" cy="376.8" r="1.05"/><circle cx="497.4" cy="387.1" r="1.05"/><circle cx="497.5" cy="379.0" r="1.05"/><circle cx="496.2" cy="376.7" r="1.05"/><circle cx="497.4" cy="373.8" r="1.05"/><circle cx="497.4" cy="373.4" r="1.05"/><circle cx="498.9" cy="382.9" r="1.05"/><circle cx="497.7" cy="386.5" r="1.05"/><circle cx="498.4" cy="381.0" r="1.05"/><circle cx="496.0" cy="384.9" r="1.05"/><circle cx="501.8" cy="377.5" r="1.05"/><circle cx="501.5" cy="370.5" r="1.05"/><circle cx="502.4" cy="375.7" r="1.05"/><circle cx="502.1" cy="379.4" r="1.05"/><circle cx="503.6" cy="377.9" r="1.05"/><circle cx="502.3" cy="373.8" r="1.05"/><circle cx="503.0" cy="370.9" r="1.05"/><circle cx="502.8" cy="378.7" r="1.05"/><circle cx="501.1" cy="378.5" r="1.05"/><circle cx="501.9" cy="373.5" r="1.05"/><circle cx="502.0" cy="372.1" r="1.05"/><circle cx="502.3" cy="357.2" r="1.05"/><circle cx="501.7" cy="373.0" r="1.05"/><circle cx="503.0" cy="380.4" r="1.05"/><circle cx="503.4" cy="379.3" r="1.05"/><circle cx="502.3" cy="371.6" r="1.05"/><circle cx="502.6" cy="368.0" r="1.05"/><circle cx="500.9" cy="376.6" r="1.05"/><circle cx="502.3" cy="370.9" r="1.05"/><circle cx="502.6" cy="379.5" r="1.05"/><circle cx="502.3" cy="371.0" r="1.05"/><circle cx="502.6" cy="371.9" r="1.05"/><circle cx="502.6" cy="376.0" r="1.05"/><circle cx="502.5" cy="375.5" r="1.05"/><circle cx="503.2" cy="373.9" r="1.05"/><circle cx="502.6" cy="373.0" r="1.05"/><circle cx="504.2" cy="392.8" r="1.05"/></g>
<path d="M521.5 17.3V416.1" stroke="#1c1c1c" stroke-width="0.9" stroke-dasharray="1.9 1.0" fill="none"/>
<path d="M708.30 17.3V416.1M401.00 17.3H708.30M401.00 416.1H708.30M401.00 150.5H708.30M401.00 283.4H708.30" fill="none" stroke="#404040" stroke-width="0.7"/>
<path d="M401.00 16.9V416.5" stroke="#6c6c6c" stroke-width="1.05"/>
<path d="M477.8 17.3v3M477.8 150.5v-3M477.8 150.5v3M477.8 283.4v-3M477.8 283.4v3M477.8 416.1v-3M554.6 17.3v3M554.6 150.5v-3M554.6 150.5v3M554.6 283.4v-3M554.6 283.4v3M554.6 416.1v-3M631.4 17.3v3M631.4 150.5v-3M631.4 150.5v3M631.4 283.4v-3M631.4 283.4v3M631.4 416.1v-3M401.0 47.5h3M708.3 47.5h-3M401.0 87.5h3M708.3 87.5h-3M401.0 127.5h3M708.3 127.5h-3M401.0 174.8h3M708.3 174.8h-3M401.0 225.6h3M708.3 225.6h-3M401.0 276.4h3M708.3 276.4h-3M401.0 316.8h3M708.3 316.8h-3M401.0 357.0h3M708.3 357.0h-3M401.0 397.1h3M708.3 397.1h-3" stroke="#151515" stroke-width="0.8" fill="none"/>
<text x="390.5" y="50.3" font-size="7.6" textLength="8.4" lengthAdjust="spacingAndGlyphs" fill="#111">45</text>
<text x="390.5" y="90.3" font-size="7.6" textLength="8.4" lengthAdjust="spacingAndGlyphs" fill="#111">40</text>
<text x="390.5" y="130.3" font-size="7.6" textLength="8.4" lengthAdjust="spacingAndGlyphs" fill="#111">35</text>
<text x="381.9" y="177.6" font-size="7.6" textLength="17.0" lengthAdjust="spacingAndGlyphs" fill="#111">1400</text>
<text x="381.9" y="228.4" font-size="7.6" textLength="17.0" lengthAdjust="spacingAndGlyphs" fill="#111">1100</text>
<text x="386.2" y="279.2" font-size="7.6" textLength="12.7" lengthAdjust="spacingAndGlyphs" fill="#111">800</text>
<text x="381.9" y="319.6" font-size="7.6" textLength="17.0" lengthAdjust="spacingAndGlyphs" fill="#111">1400</text>
<text x="381.9" y="359.8" font-size="7.6" textLength="17.0" lengthAdjust="spacingAndGlyphs" fill="#111">1000</text>
<text x="386.2" y="399.9" font-size="7.6" textLength="12.7" lengthAdjust="spacingAndGlyphs" fill="#111">600</text>
<text x="390.7" y="423.1" font-size="6.9" textLength="20.6" lengthAdjust="spacingAndGlyphs" fill="#111">60013</text>
<text x="467.5" y="423.1" font-size="6.9" textLength="20.6" lengthAdjust="spacingAndGlyphs" fill="#111">60014</text>
<text x="544.3" y="423.1" font-size="6.9" textLength="20.6" lengthAdjust="spacingAndGlyphs" fill="#111">60015</text>
<text x="621.1" y="423.1" font-size="6.9" textLength="20.6" lengthAdjust="spacingAndGlyphs" fill="#111">60016</text>
<text x="697.9" y="423.1" font-size="6.9" textLength="20.6" lengthAdjust="spacingAndGlyphs" fill="#111">60017</text>
<text x="495" y="432" font-size="9.2" textLength="119.5" lengthAdjust="spacingAndGlyphs" fill="#111">Modified Julian Date (days)</text>
<text transform="translate(378.2,271.9) rotate(-90)" font-size="9.2" textLength="89.7" lengthAdjust="spacingAndGlyphs" fill="#111">Count Rate (cts s<tspan dy="-3" font-size="6.5">−1</tspan><tspan dy="3">)</tspan></text>
<text x="404.3" y="34.9" font-size="7.3" textLength="52" lengthAdjust="spacingAndGlyphs" fill="#111">IXPE (2-8 keV)</text>
<text x="404.3" y="167.8" font-size="7.3" textLength="69.7" lengthAdjust="spacingAndGlyphs" fill="#111">NICER (0.2-12 keV)</text>
<text x="404.3" y="300.9" font-size="7.3" textLength="69.4" lengthAdjust="spacingAndGlyphs" fill="#111">NuSTAR (3-78 keV)</text>
<rect x="404.2" y="123.4" width="72.8" height="23.1" rx="1.5" fill="#fff" fill-opacity="0.8" stroke="#cfcfcf" stroke-width="0.7"/>
<path d="M414.8 126.2v6" stroke="#93a3ee" stroke-width="0.7"/><circle cx="414.8" cy="129.2" r="1.1" fill="#3d5fd0"/>
<path d="M414.8 136.8v6" stroke="#8be9a0" stroke-width="0.7"/><circle cx="414.8" cy="139.8" r="1.2" fill="#4fd468"/>
<text x="428.3" y="131.9" font-size="7.5" textLength="45" lengthAdjust="spacingAndGlyphs" fill="#111">SPL Period 1</text>
<text x="428.3" y="142.5" font-size="7.5" textLength="45" lengthAdjust="spacingAndGlyphs" fill="#111">SPL Period 2</text>
<text x="377" y="10" font-family="Liberation Serif, serif" font-size="13.5" textLength="11.3" lengthAdjust="spacingAndGlyphs" fill="#111">b)</text>
</svg>
</body></html>
